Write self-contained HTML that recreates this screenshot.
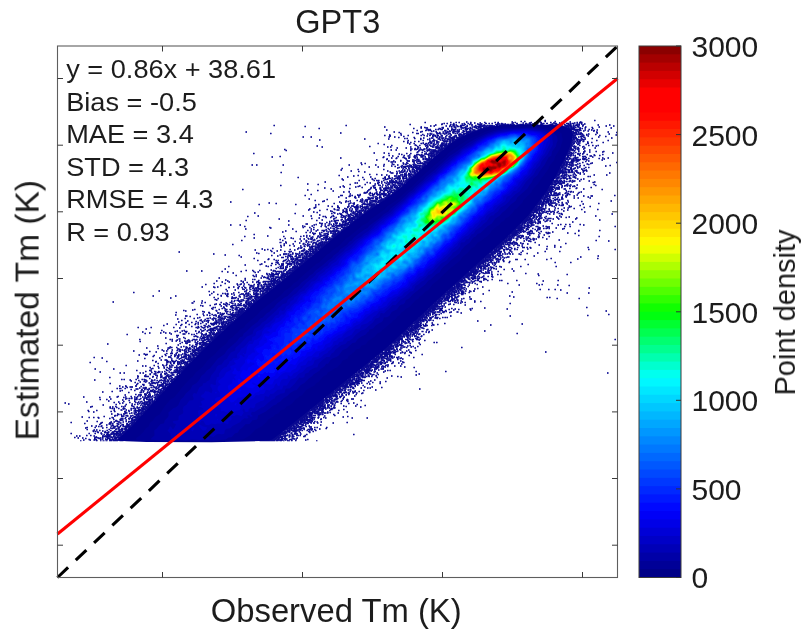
<!DOCTYPE html>
<html><head><meta charset="utf-8"><title>GPT3</title>
<style>
html,body{margin:0;padding:0;background:#fff;width:812px;height:639px;overflow:hidden}
svg{display:block}
text{font-family:"Liberation Sans",sans-serif;fill:#1d1d1d}
</style></head><body>
<svg width="812" height="639" viewBox="0 0 812 639">
<rect width="812" height="639" fill="#fff"/>
<g id="cloud"><defs><filter id="bl" x="0" y="0" width="812" height="639" filterUnits="userSpaceOnUse"><feGaussianBlur stdDeviation="0.5"/></filter></defs>
<g filter="url(#bl)">
<path d="M544.5 120h1.5m48 0h1.5M544.5 120.5h1.5m48 0h1.5M520.5 121h1.5m2 0h1.5m12.5 0h1.5m5 0h1.5m8.5 0h1.5M466 121.5h1.5m44 0h1.5m7.5 0h1.5m2 0h1.5m12.5 0h3m3.5 0h1.5m8.5 0h1.5m13.5 0h1.5m9 0h1.5M424.5 122h1.5m24 0h1.5m4 0h1.5m1.5 0h1.5m6 0h1.5m2.5 0h1.5m12.5 0h1.5m9 0h1.5m1.5 0h1.5m12.5 0h1.5m1.5 0h1.5m14.5 0h1.5m7.5 0h2.5m8 0h1.5m9.5 0h1.5m7 0h1.5m5.5 0h1.5m1 0h3.5M424.5 122.5h1.5m24 0h1.5m4 0h1.5m1.5 0h1.5m10 0h1.5m2.5 0h1.5m4 0h1.5m3 0h1.5m9 0h1.5m1.5 0h1.5m13.5 0h1.5m.5 0h1.5m6.5 0h1.5m5 0h3m2 0h1.5m5 0h1.5m8 0h1.5m1.5 0h2.5m3.5 0h1.5m.5 0h1.5m11.5 0h1.5m1 0h1.5m1 0h3.5M443.5 123h1.5m1.5 0h1.5m5 0h1.5m9 0h1.5m2.5 0h1.5m1 0h1.5m2.5 0h1.5m4 0h1.5m4 0h2m1.5 0h1.5m1.5 0h1.5m4 0h1.5m2.5 0h1.5m9 0h2.5m2 0h2m4.5 0h1.5m1 0h2m1.5 0h2m3.5 0h1.5m1.5 0h1.5m2 0h1.5m.5 0h2m1.5 0h2m5 0h4m2 0h1.5m1 0h2.5m2 0h3m.5 0h1.5m.5 0h4m5 0h1.5M441.5 123.5h1.5m.5 0h1.5m1.5 0h1.5m5 0h1.5m7 0h1.5m.5 0h1.5m2.5 0h1.5m1 0h1.5m5.5 0h1.5m2.5 0h1.5m2.5 0h2m1.5 0h1.5m1.5 0h1.5m4 0h3.5m.5 0h2.5m1 0h1.5m5.5 0h1.5m3 0h2m7 0h2.5m1 0h2.5m1 0h2m3 0h1.5m2 0h4m1.5 0h2m3.5 0h1.5m1.5 0h2.5m4.5 0h2.5m2 0h3m.5 0h1.5m.5 0h2.5m2.5 0h1.5m.5 0h1.5m1 0h1.5m1.5 0h1.5M409.5 124h1.5m30 0h2m7 0h1.5m1 0h1.5m7.5 0h1.5m1.5 0h1.5m3 0h1.5m6.5 0h5.5m12.5 0h5.5m.5 0h5m.5 0h2.5m.5 0h2m1 0h1.5m2.5 0h1.5m1.5 0h5m.5 0h3.5m1 0h5m6.5 0h2.5m6.5 0h3.5m3 0h6.5m1 0h1.5m2 0h2m.5 0h1.5m5 0h1.5m.5 0h1.5m1 0h1.5m1.5 0h1.5M409.5 124.5h1.5m24 0h1.5m4.5 0h1.5m7.5 0h1.5m1 0h2.5m.5 0h1.5m6.5 0h2.5m3 0h1.5m.5 0h2m5 0h4m1.5 0h1.5m10 0h3.5m2 0h8.5m.5 0h5.5m3 0h6.5m.5 0h1.5m.5 0h5m1 0h1.5m1.5 0h2m2 0h2.5m6 0h5m1 0h8.5m1 0h1.5m2.5 0h3.5m1.5 0h1.5m1 0h1.5m.5 0h2.5m2.5 0h1.5m13.5 0h1.5m10 0h1.5M273.5 125h1.5m70.5 0h1.5m88 0h1.5m13 0h1.5m1.5 0h2.5m.5 0h1.5m3 0h5m1.5 0h1.5m3 0h2m2 0h1.5m3 0h2.5m.5 0h3m1.5 0h1.5m.5 0h4m3 0h2.5m.5 0h7.5m.5 0h8m3 0h1.5m.5 0h1.5m1 0h1.5m4.5 0h3m1.5 0h1.5m1.5 0h2m2 0h6m.5 0h11m1 0h4m2 0h4m.5 0h2m2 0h1.5m.5 0h5m2.5 0h1.5m13.5 0h1.5m10 0h1.5M273.5 125.5h1.5m70.5 0h1.5m83 0h1.5m2 0h1.5m10.5 0h1.5m2.5 0h1.5m1.5 0h1.5m2.5 0h1.5m2 0h4m2.5 0h1.5m7 0h1.5m2 0h2.5m.5 0h13.5m1 0h2.5m.5 0h14.5m26 0h18.5m2 0h2.5m2 0h8m.5 0h1.5m.5 0h3m4 0h1.5m22 0h1.5m6 0h1.5M304.5 126h1.5m124 0h1.5m2 0h1.5m10.5 0h1.5m2 0h1.5m.5 0h1.5m1 0h2m1 0h2.5m.5 0h2.5m4.5 0h1.5m5.5 0h3m.5 0h7m.5 0h2.5m1.5 0h25m26 0h4m.5 0h14.5m.5 0h5.5m1 0h7m.5 0h1.5m2.5 0h2.5m2.5 0h1.5m22 0h1.5m6 0h1.5M304.5 126.5h1.5m78 0h1.5m35 0h1.5m27 0h1.5m.5 0h1.5m1 0h2m1 0h2.5m.5 0h2.5m3 0h3m3.5 0h1.5m.5 0h1.5m.5 0h7.5m.5 0h1.5m.5 0h14m54 0h16m.5 0h2.5m1 0h2m1.5 0h2.5m5.5 0h1.5m12 0h1.5M384 127h1.5m35 0h1.5m2 0h1.5m16 0h2.5m7 0h1.5m1 0h2.5m4 0h2.5m1.5 0h2.5m3 0h1.5m.5 0h1.5m.5 0h3.5m1 0h3.5m1.5 0h10m.5 0h1.5m.5 0h3.5m54.5 0h4m.5 0h11.5m1 0h6m1 0h1.5m6 0h1.5m5 0h1.5m5.5 0h1.5M420.5 127.5h1.5m2 0h4m13.5 0h2.5m10.5 0h2m4.5 0h5.5m3 0h1.5m2.5 0h3.5m.5 0h4m1.5 0h10m66.5 0h7.5m.5 0h4.5m.5 0h1.5m1 0h1.5m2.5 0h2m3.5 0h1.5m5.5 0h1.5m17.5 0h1.5M318.5 128h1.5m93 0h1.5m6 0h1.5m3.5 0h2.5m10.5 0h2m2 0h1.5m3 0h1.5m6.5 0h1.5m5.5 0h2m1 0h4.5m.5 0h1.5m4 0h3.5m.5 0h3m.5 0h5.5m.5 0h4m67 0h15m4 0h2m.5 0h1.5m1.5 0h1.5m6 0h1.5m17 0h1.5M318.5 128.5h1.5m93 0h1.5m24 0h2.5m.5 0h1.5m4 0h1.5m2.5 0h2m7.5 0h1.5m2.5 0h5m.5 0h3m3 0h1.5m2 0h9m74 0h7.5m.5 0h4.5m4.5 0h1.5m.5 0h1.5m9 0h1.5M427.5 129h1.5m.5 0h1.5m4 0h1.5m1 0h1.5m.5 0h3.5m4.5 0h1.5m2 0h5m2.5 0h1.5m.5 0h1.5m2.5 0h3.5m1 0h1.5m1 0h1.5m4.5 0h11m74.5 0h18m7.5 0h1.5M386 129.5h1.5m38.5 0h5m4 0h1.5m1 0h1.5m1.5 0h2.5m4.5 0h1.5m2 0h5m.5 0h1.5m.5 0h1.5m5 0h3m1 0h1.5m2 0h3m2 0h7m81 0h15m4 0h1.5m2.5 0h1.5m1 0h1.5m4 0h1.5M386 130h1.5m29 0h1.5m7 0h2.5m.5 0h3.5m12.5 0h2.5m4.5 0h1.5m.5 0h2.5m1 0h1.5m4.5 0h1.5m1.5 0h1.5m2.5 0h2m1 0h3m2 0h7m81.5 0h6m1.5 0h5m.5 0h2.5m3 0h1.5m5 0h1.5m1 0h1.5m1.5 0h1.5M416.5 130.5h1.5m7 0h1.5m1.5 0h1.5m.5 0h1.5m1.5 0h1.5m9.5 0h2.5m2.5 0h1.5m.5 0h1.5m.5 0h1.5m3 0h2.5m2.5 0h2m1 0h1.5m2.5 0h2m1 0h9m85 0h5.5m3 0h3.5m.5 0h2.5m1.5 0h1.5m3 0h1.5m4 0h2M421.5 131h1.5m8 0h1.5m.5 0h1.5m1 0h1.5m9.5 0h1.5m1 0h2m2 0h3.5m1 0h2.5m3 0h2m.5 0h1.5m.5 0h3.5m.5 0h10m86 0h6.5m3 0h1.5m4.5 0h1.5m3 0h1.5m4 0h1.5M245.5 131.5h1.5m146.5 0h1.5m25 0h3m8 0h1.5m3 0h1.5m5.5 0h1.5m.5 0h1.5m.5 0h4.5m1 0h7.5m3 0h2.5m.5 0h14m88 0h6.5m1 0h2m.5 0h2m16.5 0h1.5m10 0h1.5M245.5 132h1.5m146.5 0h1.5m3.5 0h1.5m12 0h1.5m6.5 0h1.5m14 0h1.5m2 0h1.5m2 0h1.5m.5 0h5m2.5 0h2.5m2 0h3m2 0h2.5m2 0h13.5m88 0h9.5m.5 0h2m16.5 0h1.5m10 0h1.5m7 0h1.5M340 132.5h1.5m57 0h1.5m12 0h1.5m22.5 0h2m1 0h1.5m5.5 0h1.5m5 0h2m7 0h1.5m3 0h10.5m92 0h4m.5 0h4m1 0h1.5m.5 0h2m14.5 0h1.5m18 0h1.5M270 133h1.5m68.5 0h1.5m58.5 0h1.5m14.5 0h3m10.5 0h1.5m5 0h4.5m2 0h1.5m1.5 0h1.5m2 0h2m1.5 0h1.5m.5 0h1.5m.5 0h1.5m5 0h13.5m92 0h9m2.5 0h2m14.5 0h1.5M270 133.5h1.5m128.5 0h1.5m14.5 0h3m8 0h1.5m1 0h3m4.5 0h4.5m1 0h4.5m.5 0h3.5m3.5 0h1.5m.5 0h1.5m.5 0h3m1.5 0h6m.5 0h5m94 0h7m.5 0h1.5m.5 0h5m5 0h1.5m19 0h1.5M422 134h1.5m3.5 0h1.5m2.5 0h1.5m.5 0h1.5m5.5 0h1.5m2.5 0h1.5m2 0h1.5m9.5 0h3.5m1 0h2m.5 0h9m94 0h5m2 0h8m2.5 0h1.5m.5 0h1.5m5.5 0h1.5m12 0h1.5M389 134.5h1.5m10 0h1.5m20 0h1.5m6 0h1.5m2 0h1.5m2 0h1.5m11.5 0h2.5m6 0h7m.5 0h6m98 0h9m1 0h1.5m1 0h1.5m2.5 0h1.5m7.5 0h1.5m19 0h1.5M384 135h1.5m3.5 0h1.5m10 0h1.5m5.5 0h1.5m11.5 0h1.5m1.5 0h1.5m4 0h2m1 0h1.5m1 0h1.5m.5 0h2.5m2 0h1.5m3.5 0h1.5m2 0h2.5m2.5 0h2.5m1 0h6m1 0h6.5m98 0h6.5m7 0h1.5m1.5 0h1.5m11.5 0h1.5m15 0h1.5M384 135.5h1.5m4 0h1.5m16.5 0h1.5m11.5 0h1.5m1.5 0h1.5m1.5 0h1.5m1 0h1.5m1.5 0h4m1 0h2m1.5 0h2.5m3 0h1.5m7 0h2.5m2 0h1.5m.5 0h8.5m100 0h6.5m5 0h3.5m3 0h1.5m10 0h1.5M389.5 136h1.5m12 0h1.5m22 0h1.5m4 0h2.5m.5 0h1.5m.5 0h1.5m2 0h2.5m2 0h1.5m2 0h2m3 0h3m2.5 0h9.5m101 0h5m5.5 0h3m4.5 0h1.5m16 0h1.5M302.5 136.5h1.5m6.5 0h1.5m76.5 0h1.5m4 0h1.5m7.5 0h1.5m27.5 0h1.5m1.5 0h1.5m2.5 0h1.5m4.5 0h1.5m2 0h2.5m1.5 0h2.5m.5 0h1.5m1.5 0h9m102 0h3m.5 0h3m2 0h1.5m.5 0h4.5m13.5 0h1.5m5.5 0h1.5M302.5 137h1.5m6.5 0h1.5m76.5 0h1.5m4 0h1.5m2.5 0h1.5m14 0h1.5m21 0h2m1 0h1.5m8 0h6.5m.5 0h5.5m.5 0h5.5m102.5 0h7.5m1 0h1.5m3.5 0h2.5m12.5 0h1.5M398 137.5h1.5m14 0h1.5m8 0h1.5m6.5 0h2.5m2.5 0h2m.5 0h1.5m.5 0h4m.5 0h1.5m3 0h3.5m.5 0h1.5m.5 0h4.5m.5 0h5m104 0h7.5m3.5 0h1.5m2 0h1.5m25.5 0h1.5M404 138h1.5m1 0h1.5m6 0h1.5m4.5 0h1.5m1.5 0h1.5m4.5 0h1.5m.5 0h2.5m5 0h1.5m.5 0h4m.5 0h1.5m4.5 0h4m2 0h8.5m103 0h3.5m1 0h4m3.5 0h2m9 0h1.5m18 0h1.5M364 138.5h1.5m22.5 0h1.5m14.5 0h1.5m1 0h1.5m6 0h1.5m4.5 0h1.5m7.5 0h1.5m7 0h2.5m2 0h1.5m1.5 0h9.5m1.5 0h7.5m105 0h6m.5 0h3m3 0h1.5m2 0h1.5m5.5 0h1.5M364 139h1.5m22.5 0h1.5m30.5 0h1.5m5.5 0h1.5m4.5 0h1.5m3 0h3m1.5 0h1.5m.5 0h1.5m1 0h15m.5 0h1.5m105 0h6.5m1.5 0h2.5m3 0h4M319 139.5h1.5m99.5 0h1.5m5.5 0h1.5m.5 0h1.5m2.5 0h1.5m4.5 0h2.5m2.5 0h1.5m1.5 0h3.5m1.5 0h9.5m107 0h3.5m.5 0h3m.5 0h8.5M319 140h1.5m87 0h1.5m13.5 0h1.5m5 0h1.5m2.5 0h2.5m4.5 0h1.5m.5 0h1.5m3.5 0h1.5m.5 0h2.5m.5 0h2m.5 0h7m107 0h4.5m1 0h1.5m.5 0h2.5m.5 0h3.5m13.5 0h1.5m10 0h1.5M407.5 140.5h1.5m13.5 0h1.5m8 0h3.5m.5 0h1.5m4.5 0h5m2.5 0h11m108 0h5.5m3 0h1.5m1 0h1.5m2 0h1.5m11.5 0h1.5m10 0h1.5M403 141h1.5m9.5 0h1.5m2.5 0h1.5m10.5 0h1.5m.5 0h3m1 0h2m5 0h5.5m1 0h1.5m.5 0h9m108 0h5.5m.5 0h1.5m.5 0h1.5m1 0h2m1.5 0h2M403 141.5h1.5m2.5 0h1.5m5.5 0h1.5m2.5 0h1.5m9.5 0h2.5m5 0h3m4 0h5m.5 0h2.5m.5 0h6.5m110 0h4m1 0h2.5m.5 0h4m2 0h1.5m3 0h1.5M407 142h1.5m1.5 0h1.5m17.5 0h1.5m.5 0h1.5m4 0h3m4 0h1.5m.5 0h1.5m2 0h2.5m.5 0h6.5m110 0h4.5m.5 0h2m2 0h1.5m8 0h1.5m2.5 0h1.5m10 0h1.5M407 142.5h1.5m1.5 0h1.5m11 0h1.5m4 0h1.5m.5 0h2.5m1 0h1.5m1 0h2m3.5 0h2m6 0h2m.5 0h4m112.5 0h6m1.5 0h1.5m1 0h2m6.5 0h1.5m2.5 0h1.5m10 0h1.5M377.5 143h1.5m28 0h1.5m5 0h1.5m5.5 0h1.5m.5 0h1.5m1.5 0h1.5m.5 0h2m.5 0h2m1.5 0h1.5m1 0h1.5m3.5 0h3.5m1.5 0h1.5m1 0h7.5m111.5 0h4.5m1 0h2m1 0h1.5m1 0h2m6.5 0h2M377.5 143.5h1.5m30 0h1.5m3 0h1.5m5.5 0h1.5m.5 0h1.5m1 0h2m.5 0h1.5m1.5 0h1.5m.5 0h1.5m3.5 0h1.5m2 0h6.5m.5 0h7.5m112 0h7.5m2.5 0h1.5m8.5 0h1.5M383.5 144h1.5m24 0h1.5m13.5 0h2.5m6 0h1.5m1 0h1.5m1 0h1.5m1.5 0h3m.5 0h3m.5 0h8m112 0h6.5m3 0h2.5m6 0h1.5M383.5 144.5h1.5m29.5 0h1.5m8 0h2m1 0h1.5m.5 0h1.5m2.5 0h3.5m4 0h4m.5 0h2m.5 0h6m114 0h5m4.5 0h2.5m6 0h1.5M391 145h1.5m22 0h2.5m2 0h1.5m5.5 0h2.5m.5 0h1.5m2 0h2.5m2 0h1.5m1 0h14m113 0h6m6.5 0h1.5m7.5 0h1.5m2.5 0h1.5m4 0h1.5M316.5 145.5h1.5m73 0h1.5m23 0h1.5m2 0h1.5m4.5 0h2.5m2.5 0h1.5m1 0h2m2.5 0h1.5m1 0h13m114 0h6.5m.5 0h1.5m4 0h1.5m7.5 0h1.5m2.5 0h1.5m2 0h1.5m.5 0h1.5M316.5 146h1.5m51 0h1.5m46.5 0h1.5m6.5 0h1.5m.5 0h1.5m1.5 0h3m3 0h1.5m2.5 0h3m.5 0h9m114 0h10m6.5 0h1.5m11 0h1.5M321.5 146.5h1.5m46 0h1.5m16.5 0h1.5m1.5 0h1.5m18.5 0h1.5m5.5 0h1.5m8.5 0h1.5m3 0h2.5m.5 0h4.5m.5 0h3.5m1 0h7.5m115 0h5m1.5 0h1.5m.5 0h1.5m5.5 0h2.5M321.5 147h1.5m64 0h1.5m1.5 0h1.5m18.5 0h1.5m6 0h1.5m7 0h2.5m3.5 0h2m.5 0h8m2 0h6.5m115.5 0h5m2 0h1.5m2.5 0h1.5m3 0h1.5M396.5 147.5h1.5m7.5 0h1.5m10.5 0h1.5m.5 0h1.5m5 0h1.5m8 0h4.5m1 0h9.5m116 0h5.5m1.5 0h2.5m.5 0h2.5m5 0h1.5m9 0h1.5M396.5 148h1.5m7.5 0h1.5m7.5 0h1.5m1 0h1.5m1 0h1.5m5 0h1.5m8 0h2.5m.5 0h1.5m.5 0h10m115.5 0h6m1.5 0h2.5m.5 0h3m4.5 0h1.5m9 0h1.5M410 148.5h2.5m2 0h1.5m1 0h1.5m5 0h2m.5 0h1.5m1 0h1.5m5.5 0h1.5m.5 0h11m117.5 0h6.5m2.5 0h1.5m1.5 0h1.5m3.5 0h1.5M284 149h1.5m124.5 0h2.5m1.5 0h4.5m2 0h1.5m1 0h2.5m3 0h3m6 0h5.5m1 0h4.5m117 0h8.5m1 0h1.5m.5 0h1.5m4.5 0h1.5M284 149.5h1.5m105 0h1.5m3.5 0h1.5m17 0h3m2 0h5.5m2 0h9.5m3.5 0h8m118 0h8.5m3 0h2.5m9.5 0h1.5M285.5 150h1.5m103.5 0h1.5m3.5 0h1.5m13 0h1.5m7.5 0h1.5m1 0h2m3 0h4m1 0h5m1.5 0h9m117.5 0h9m.5 0h1.5m2.5 0h1.5m9.5 0h1.5M285.5 150.5h1.5m123 0h1.5m6.5 0h1.5m2.5 0h1.5m3 0h3.5m.5 0h1.5m.5 0h14m118 0h5m2.5 0h3.5m8.5 0h1.5M418 151h1.5m4.5 0h1.5m1 0h1.5m2.5 0h9m.5 0h6.5m118 0h6m3 0h1.5m3 0h1.5m4.5 0h1.5m10 0h1.5m6 0h1.5M417 151.5h1.5m5.5 0h1.5m4 0h1.5m.5 0h14m119 0h6m7.5 0h1.5m3.5 0h2.5m3.5 0h1.5m5 0h1.5m5 0h2.5M416.5 152h2m3 0h1.5m6.5 0h3m.5 0h12.5m119 0h4m1 0h2.5m3 0h1.5m6.5 0h1.5m4.5 0h1.5m11.5 0h1.5M373.5 152.5h1.5m8.5 0h1.5m31.5 0h1.5m3.5 0h1.5m2.5 0h1.5m3.5 0h4m1.5 0h8.5m120 0h8m.5 0h1.5m.5 0h1.5m6.5 0h1.5m27.5 0h1.5M253 153h1.5m119 0h1.5m8.5 0h1.5m3 0h1.5m16.5 0h1.5m2.5 0h1.5m14 0h1.5m1.5 0h5.5m2 0h6.5m.5 0h1.5m119 0h3m.5 0h3m1 0h3.5m3 0h1.5m.5 0h1.5m2 0h1.5m27.5 0h1.5M253 153.5h1.5m133.5 0h1.5m9 0h1.5m6 0h1.5m2.5 0h1.5m12.5 0h3m1.5 0h9.5m.5 0h4m121 0h9.5m4 0h2m.5 0h1.5m1 0h1.5M398.5 154h1.5m1 0h1.5m13.5 0h3m2 0h1.5m1.5 0h18.5m121 0h4.5m1.5 0h2.5m5 0h3m2 0h1.5m3 0h1.5m14 0h1.5M401 154.5h1.5m6.5 0h1.5m5.5 0h4.5m.5 0h1.5m4.5 0h2m2 0h1.5m1 0h1.5m.5 0h1.5m.5 0h4m123.5 0h4.5m1 0h1.5m.5 0h1.5m4.5 0h1.5m6.5 0h1.5m5.5 0h1.5m7 0h1.5M388.5 155h1.5m13.5 0h1.5m4 0h1.5m3.5 0h1.5m3.5 0h2.5m.5 0h2.5m3.5 0h1.5m.5 0h5m1 0h5.5m122 0h8.5m.5 0h1.5m.5 0h1.5m3 0h1.5m13 0h2m3.5 0h1.5M388.5 155.5h1.5m2 0h1.5m10 0h1.5m2.5 0h1.5m5 0h3.5m2.5 0h4.5m3.5 0h12.5m122.5 0h3.5m.5 0h4.5m1 0h1.5m.5 0h1.5m3 0h1.5m9 0h2.5m2 0h1.5m3.5 0h1.5M279.5 156h1.5m111 0h1.5m4 0h1.5m8.5 0h1.5m4.5 0h4m3 0h3m1 0h1.5m3.5 0h10.5m122.5 0h4m.5 0h2m1 0h1.5m3 0h1.5m6 0h4m3.5 0h2.5M271.5 156.5h1.5m6.5 0h1.5m102 0h1.5m13 0h1.5m4 0h1.5m4.5 0h1.5m3 0h1.5m5.5 0h3m1 0h1.5m2 0h1.5m1 0h9m123 0h2m2.5 0h2m13 0h4m6 0h1.5M271.5 157h1.5m109.5 0h2m18 0h2m4.5 0h1.5m3 0h2.5m.5 0h1.5m2.5 0h3m4.5 0h2m.5 0h2m.5 0h6m123 0h3.5m1.5 0h2.5m5 0h1.5m.5 0h2m7 0h1.5m5 0h1.5M340 157.5h1.5m41 0h1.5m7 0h1.5m3.5 0h1.5m5 0h3m2.5 0h2m4 0h2m.5 0h1.5m6.5 0h1.5m2.5 0h1.5m1 0h1.5m1.5 0h4.5m123.5 0h8.5m3 0h5m4 0h1.5m1.5 0h1.5m15 0h1.5m4 0h1.5M340 158h1.5m49.5 0h1.5m3 0h2m6.5 0h2.5m1.5 0h2m4.5 0h1.5m6.5 0h1.5m.5 0h2.5m1.5 0h1.5m.5 0h1.5m.5 0h6m123.5 0h6m1 0h2.5m1 0h5m5 0h3m2.5 0h1.5m9 0h1.5m2 0h1.5m4 0h1.5M386.5 158.5h1.5m7.5 0h1.5m8 0h2m9.5 0h1.5m4.5 0h2m1 0h6.5m.5 0h5m124 0h7m.5 0h2.5m1 0h1.5m1 0h1.5m5.5 0h1.5m.5 0h2m2 0h1.5m9 0h1.5m3.5 0h1.5M386 159h2m17.5 0h1.5m9.5 0h3m3 0h2m.5 0h12.5m123.5 0h7.5m.5 0h1.5m2 0h1.5m2 0h3m.5 0h1.5m1 0h5.5m16 0h1.5M376 159.5h1.5m8.5 0h1.5m24.5 0h2.5m1.5 0h3.5m3 0h2m.5 0h11.5m124 0h5m.5 0h3m2 0h10m2 0h2m1 0h1.5m14 0h1.5M376 160h1.5m22.5 0h1.5m5 0h1.5m4 0h7m8 0h9.5m124 0h5.5m1.5 0h1.5m2 0h9m6 0h1.5m14 0h1.5M388 160.5h1.5m3.5 0h1.5m5.5 0h1.5m5 0h3.5m4.5 0h1.5m2.5 0h2m5.5 0h7.5m127 0h5.5m5 0h3.5m1 0h4m8.5 0h1.5M388 161h1.5m3.5 0h1.5m5.5 0h1.5m5.5 0h3m2 0h2m3.5 0h3m3 0h4m1 0h5m126 0h7m4 0h4m2.5 0h1.5m6.5 0h1.5m1.5 0h1.5M390.5 161.5h3m1 0h1.5m16 0h3m1 0h3m.5 0h1.5m2.5 0h2.5m.5 0h7m126 0h5m.5 0h4m1.5 0h4m1 0h3m6.5 0h1.5M390.5 162h3m1 0h1.5m10 0h1.5m5.5 0h2m1 0h1.5m2 0h2m3 0h9m126 0h5.5m.5 0h8m2 0h1.5m5 0h1.5m32.5 0h1.5M360.5 162.5h1.5m40.5 0h1.5m2 0h1.5m12.5 0h1.5m.5 0h1.5m.5 0h8m128 0h8.5m.5 0h4.5m8.5 0h1.5m8 0h1.5m23 0h1.5M360.5 163h1.5m2.5 0h1.5m36.5 0h1.5m3 0h1.5m5 0h1.5m2 0h12m.5 0h2.5m126.5 0h9m3 0h3m5.5 0h1.5m9.5 0h3M364.5 163.5h1.5m25.5 0h1.5m10 0h1.5m1 0h3m5 0h1.5m2 0h8.5m1 0h4.5m127.5 0h6.5m1 0h2m1 0h1.5m1 0h2m3.5 0h1.5m.5 0h1.5m6 0h1.5m2 0h1.5M361 164h1.5m21 0h1.5m6.5 0h3m8.5 0h1.5m.5 0h2m5.5 0h1.5m1 0h1.5m6 0h3.5m.5 0h4.5m127 0h7.5m.5 0h4.5m1 0h1.5m4 0h1.5m8 0h3M251.5 164.5h1.5m3 0h1.5m25 0h1.5m64.5 0h1.5m11 0h1.5m12.5 0h1.5m7 0h1.5m8 0h1.5m2.5 0h1.5m6.5 0h1.5m2.5 0h1.5m2 0h4m6 0h3.5m.5 0h4m127 0h4.5m.5 0h5m.5 0h4m.5 0h1.5m.5 0h2.5m11 0h1.5M251.5 165h1.5m3 0h1.5m25 0h1.5m64.5 0h1.5m25 0h1.5m20.5 0h1.5m3 0h1.5m6 0h3m1 0h3m.5 0h4.5m1.5 0h4.5m.5 0h3m127 0h6.5m.5 0h3m1.5 0h3m.5 0h1.5m.5 0h2.5m2.5 0h1.5m2.5 0h1.5m24.5 0h1.5M383 165.5h1.5m6.5 0h1.5m9 0h1.5m3.5 0h2.5m1 0h2m1 0h1.5m1 0h8m.5 0h5.5m128 0h8m.5 0h1.5m3 0h3m6 0h1.5m2.5 0h1.5m20 0h1.5m3 0h1.5M383 166h1.5m6.5 0h1.5m2 0h1.5m4.5 0h2m.5 0h9.5m2 0h2.5m1.5 0h11m127 0h9m.5 0h1.5m3 0h3m3 0h1.5m27 0h1.5M368.5 166.5h1.5m7.5 0h1.5m15.5 0h1.5m4.5 0h2m.5 0h5m1 0h1.5m.5 0h7m.5 0h2m1.5 0h6.5m128 0h3.5m1 0h2.5m2.5 0h1.5m.5 0h2m6.5 0h2m.5 0h1.5M368.5 167h1.5m7.5 0h1.5m19.5 0h1.5m1 0h1.5m.5 0h3m2 0h1.5m1 0h9.5m2 0h6.5m128.5 0h3.5m.5 0h2.5m1 0h1.5m2 0h2m.5 0h1.5m5 0h1.5m.5 0h1.5m4.5 0h1.5m1.5 0h1.5M397 167.5h3m1 0h1.5m1.5 0h2m2 0h1.5m1 0h1.5m.5 0h15m129 0h10m3.5 0h2m2.5 0h1.5m1 0h1.5m6.5 0h1.5m1.5 0h1.5M341.5 168h1.5m54 0h1.5m4 0h1.5m1.5 0h1.5m1 0h1.5m3 0h1.5m1 0h8.5m1 0h2m129.5 0h10.5m3.5 0h2m1.5 0h2.5m1 0h1.5m5 0h1.5M341.5 168.5h1.5m59.5 0h1.5m1.5 0h1.5m1.5 0h1.5m2 0h1.5m2 0h6m.5 0h4.5m129.5 0h5m2.5 0h3m3.5 0h2.5m.5 0h2m6 0h1.5m1 0h1.5M357.5 169h1.5m24 0h1.5m24 0h1.5m2 0h2.5m1.5 0h5.5m.5 0h4.5m129 0h5.5m.5 0h1.5m2 0h3.5m1.5 0h2.5m.5 0h1.5m6.5 0h1.5M340.5 169.5h1.5m15.5 0h1.5m24 0h1.5m17.5 0h1.5m.5 0h1.5m1.5 0h1.5m3 0h3.5m1 0h8.5m131 0h5.5m.5 0h9m.5 0h1.5m9.5 0h1.5m2 0h1.5M340.5 170h1.5m60 0h1.5m.5 0h1.5m1.5 0h1.5m.5 0h1.5m1 0h1.5m.5 0h2m.5 0h1.5m1 0h6m130 0h2.5m1 0h8.5m1.5 0h2.5m.5 0h2m2.5 0h2m4.5 0h1.5m.5 0h3M350.5 170.5h1.5m35 0h1.5m10 0h1.5m1 0h1.5m1.5 0h1.5m3.5 0h1.5m3 0h4.5m1 0h4.5m131 0h8.5m4.5 0h2.5m1 0h2m1.5 0h3m5.5 0h2.5m.5 0h1.5M350.5 171h1.5m6 0h1.5m27.5 0h1.5m7.5 0h1.5m1 0h1.5m1 0h1.5m1 0h2m1 0h1.5m1 0h2m.5 0h1.5m.5 0h1.5m.5 0h2.5m.5 0h5m131.5 0h9m.5 0h1.5m1.5 0h2.5m1 0h2m1.5 0h3m5.5 0h1.5m1.5 0h1.5M358 171.5h1.5m4.5 0h1.5m24 0h1.5m5 0h1.5m2.5 0h1.5m1 0h3m1 0h1.5m1.5 0h1.5m.5 0h3.5m.5 0h2.5m.5 0h4m132 0h12.5m1.5 0h1.5m.5 0h3m2.5 0h1.5m5 0h1.5M280.5 172h1.5m82 0h1.5m24 0h1.5m9 0h4m6 0h1.5m.5 0h4m.5 0h1.5m.5 0h4m131.5 0h13.5m.5 0h5.5m2.5 0h2.5m4 0h1.5M280.5 172.5h1.5m108.5 0h3m3 0h1.5m1 0h1.5m1 0h1.5m2.5 0h1.5m3 0h1.5m2.5 0h2m.5 0h4.5m133 0h13.5m.5 0h2.5m1 0h1.5m.5 0h1.5m2 0h2m.5 0h1.5m28 0h1.5M390.5 173h3m3 0h1.5m1 0h1.5m3.5 0h3m1 0h2.5m3 0h3m1 0h3.5m132.5 0h4.5m.5 0h3m.5 0h2m1.5 0h1.5m6.5 0h1.5m2.5 0h1.5m.5 0h1.5m28 0h1.5M396 173.5h1.5m6.5 0h1.5m2.5 0h2.5m.5 0h1.5m1 0h7m132 0h8m1.5 0h1.5m.5 0h1.5m8 0h1.5m4.5 0h1.5m2.5 0h1.5M369 174h1.5m5.5 0h1.5m18.5 0h1.5m4 0h1.5m1 0h2.5m1.5 0h4.5m2 0h6m132 0h7.5m4 0h1.5m.5 0h1.5m7 0h1.5m3.5 0h1.5m2.5 0h1.5M369 174.5h1.5m5.5 0h1.5m3.5 0h1.5m3.5 0h1.5m12.5 0h3m.5 0h4m.5 0h11m133.5 0h7.5m2 0h1.5m1 0h3m5 0h1.5m.5 0h1.5m17.5 0h1.5m11 0h1.5M338.5 175h1.5m17.5 0h1.5m22 0h1.5m3.5 0h1.5m12.5 0h1.5m2 0h1.5m.5 0h2m1.5 0h2.5m.5 0h7m133 0h7.5m1.5 0h5m2 0h1.5m.5 0h1.5m1 0h1.5m1.5 0h1.5m16.5 0h1.5m11 0h1.5M338.5 175.5h1.5m13 0h1.5m3 0h1.5m29.5 0h1.5m4 0h3m.5 0h3m1 0h1.5m1 0h3m1 0h3.5m1 0h1.5m1 0h3.5m133 0h8m1 0h2m1 0h2m.5 0h1.5m.5 0h1.5m.5 0h1.5m4 0h1.5M353 176h1.5m33.5 0h2m4 0h3m.5 0h3m1 0h1.5m.5 0h3.5m1 0h4m.5 0h6m133 0h5.5m3.5 0h1.5m1.5 0h2m.5 0h1.5m1 0h1.5m4 0h1.5m12 0h1.5m.5 0h1.5M347 176.5h1.5m21.5 0h1.5m13 0h1.5m2 0h1.5m8 0h3m2 0h2.5m.5 0h1.5m3 0h7m134.5 0h9m1 0h3m4 0h1.5m2.5 0h3m12 0h1.5m.5 0h1.5M297.5 177h1.5m48 0h1.5m13.5 0h1.5m6.5 0h1.5m12.5 0h2m2.5 0h1.5m7 0h3.5m2 0h1.5m1.5 0h1.5m1.5 0h8.5m133.5 0h10m1 0h3m.5 0h1.5m2.5 0h1.5m2 0h3M297.5 177.5h1.5m63 0h1.5m20.5 0h2m2.5 0h1.5m1.5 0h1.5m2.5 0h3m.5 0h1.5m1.5 0h2.5m1 0h2m1 0h1.5m.5 0h6m134 0h3m.5 0h2.5m.5 0h2.5m3 0h4m2.5 0h1.5m3.5 0h2.5M374.5 178h1.5m6.5 0h1.5m.5 0h1.5m2.5 0h2.5m.5 0h1.5m1.5 0h4.5m.5 0h1.5m1 0h5.5m1.5 0h7.5m133 0h10m1 0h1.5m.5 0h4m2 0h3m3.5 0h1.5M341.5 178.5h1.5m28.5 0h1.5m1.5 0h1.5m6.5 0h1.5m.5 0h1.5m1 0h4m2.5 0h2.5m.5 0h4.5m1.5 0h5m.5 0h7.5m134 0h5.5m1 0h2.5m1 0h2.5m.5 0h2.5m1 0h2m.5 0h3m5.5 0h1.5m4.5 0h1.5M341.5 179h1.5m20.5 0h1.5m6.5 0h2m11 0h4m2.5 0h1.5m1 0h1.5m2 0h1.5m.5 0h1.5m2 0h1.5m2 0h9.5m134 0h4.5m2.5 0h2m1 0h1.5m5 0h2m9 0h1.5m2 0h1.5m1 0h1.5M342.5 179.5h1.5m19.5 0h1.5m7 0h1.5m11 0h3m3.5 0h1.5m6 0h1.5m6.5 0h8m135 0h4.5m1.5 0h1.5m23.5 0h1.5M342.5 180h1.5m14.5 0h1.5m13.5 0h1.5m1 0h1.5m.5 0h1.5m3.5 0h1.5m6.5 0h1.5m2.5 0h1.5m2 0h1.5m.5 0h1.5m1 0h1.5m1 0h8.5m134.5 0h5.5m.5 0h3.5m.5 0h1.5m.5 0h1.5m1.5 0h1.5m4.5 0h1.5m1 0h1.5M358.5 180.5h1.5m13.5 0h1.5m1 0h3.5m3.5 0h1.5m4.5 0h5m1 0h2.5m3 0h1.5m.5 0h2m.5 0h7.5m136 0h9.5m.5 0h3.5m1.5 0h1.5m4.5 0h2m.5 0h1.5m.5 0h1.5m3.5 0h1.5m8 0h1.5M377.5 181h1.5m2 0h1.5m6.5 0h5.5m1.5 0h1.5m1 0h1.5m.5 0h1.5m.5 0h1.5m1 0h7.5m135 0h13.5m.5 0h1.5m.5 0h1.5m.5 0h2m1 0h3m1.5 0h2.5m3.5 0h1.5m8 0h1.5M324.5 181.5h1.5m55 0h1.5m4 0h1.5m1 0h1.5m1 0h6m1 0h3.5m.5 0h2.5m.5 0h6m136 0h4.5m1.5 0h6m.5 0h3m.5 0h1.5m.5 0h2m1 0h1.5m1.5 0h3m19.5 0h1.5M324.5 182h1.5m40.5 0h1.5m10.5 0h1.5m4 0h1.5m1 0h1.5m1 0h10m1 0h1.5m2 0h8m136.5 0h8m1.5 0h2m.5 0h1.5m1 0h2.5m6.5 0h1.5m19.5 0h3M354.5 182.5h1.5m.5 0h1.5m8.5 0h1.5m1.5 0h1.5m6 0h3m1 0h1.5m1.5 0h1.5m2.5 0h1.5m.5 0h10.5m1 0h1.5m2 0h5.5m137.5 0h5.5m.5 0h6.5m1 0h3.5m27.5 0h1.5M354.5 183h1.5m.5 0h1.5m11.5 0h1.5m6 0h2m2 0h1.5m3 0h2m.5 0h1.5m2 0h1.5m3.5 0h6.5m.5 0h1.5m.5 0h5m137.5 0h5m2.5 0h9.5M307 183.5h1.5m66 0h1.5m1 0h1.5m7 0h2m1 0h2m1 0h1.5m1.5 0h1.5m1 0h6m.5 0h1.5m.5 0h4m138.5 0h10m.5 0h3.5m5 0h1.5M307 184h1.5m9 0h1.5m30.5 0h1.5m13.5 0h1.5m8.5 0h1.5m11.5 0h3m2.5 0h3m3 0h7m.5 0h2.5m136.5 0h11.5m2 0h3m4.5 0h2m25 0h1.5M317.5 184.5h1.5m30.5 0h1.5m13.5 0h1.5m12 0h1.5m2.5 0h1.5m3.5 0h2.5m2 0h3m3 0h1.5m1.5 0h8m137 0h11.5m3.5 0h1.5m4 0h2m2 0h1.5m5 0h1.5m15.5 0h1.5M280 185h1.5m92.5 0h1.5m2.5 0h3m1 0h1.5m1.5 0h1.5m.5 0h1.5m3 0h3m1 0h1.5m.5 0h11m137 0h5m.5 0h1.5m1.5 0h2m1.5 0h1.5m2.5 0h1.5m1.5 0h3m1 0h3m5 0h1.5m17 0h1.5M280 185.5h1.5m61 0h1.5m15 0h1.5m12 0h3m4 0h1.5m4 0h1.5m3.5 0h1.5m1.5 0h4m1.5 0h3m.5 0h5m139 0h4.5m3.5 0h1.5m2 0h1.5m2.5 0h1.5m1 0h2m.5 0h1.5m.5 0h1.5m3.5 0h1.5m20 0h1.5M342.5 186h1.5m13.5 0h3m12 0h1.5m16 0h3m.5 0h2.5m.5 0h1.5m1 0h2m1 0h5m138 0h8.5m8 0h1.5m1 0h1.5m1 0h1.5m1.5 0h1.5m1 0h3.5M339.5 186.5h1.5m2.5 0h1.5m10 0h1.5m1 0h1.5m14 0h1.5m7 0h1.5m2.5 0h1.5m.5 0h1.5m2.5 0h1.5m1 0h1.5m1 0h1.5m1.5 0h2.5m.5 0h4m138 0h4.5m.5 0h6m3 0h1.5m1.5 0h1.5m6.5 0h1.5m1 0h1.5m.5 0h1.5M339.5 187h1.5m2.5 0h1.5m10 0h1.5m5 0h1.5m7.5 0h1.5m1 0h3m3.5 0h1.5m.5 0h1.5m2.5 0h1.5m.5 0h1.5m1.5 0h1.5m2 0h8m.5 0h4m137 0h12m.5 0h4m1 0h1.5m28 0h1.5M324 187.5h1.5m36 0h1.5m7.5 0h1.5m1.5 0h2.5m3.5 0h1.5m3.5 0h1.5m.5 0h1.5m.5 0h5m.5 0h6.5m1 0h4m138 0h12m.5 0h4m1 0h1.5m13.5 0h1.5m13 0h1.5M324 188h1.5m23.5 0h1.5m19.5 0h1.5m2 0h2.5m3.5 0h1.5m2 0h10.5m2 0h5.5m.5 0h4m137 0h10.5m1 0h1.5m1.5 0h2.5m9.5 0h1.5m5 0h2M330.5 188.5h1.5m17 0h1.5m19.5 0h1.5m8 0h2m1.5 0h6m6.5 0h3.5m.5 0h2.5m.5 0h1.5m138.5 0h10.5m2 0h5m3.5 0h2.5m3 0h1.5m5 0h1.5m6 0h1.5M242 189h1.5m87 0h1.5m37 0h1.5m4.5 0h1.5m3 0h2m1.5 0h4.5m2.5 0h1.5m5 0h7.5m138.5 0h11.5m1 0h5m3.5 0h2.5m17 0h1.5m17 0h1.5M242 189.5h1.5m63.5 0h1.5m59.5 0h2.5m4.5 0h2m3 0h1.5m3.5 0h1.5m2 0h3m1 0h3m.5 0h7.5m139 0h11.5m47.5 0h1.5M307 190h1.5m8.5 0h1.5m49.5 0h1.5m6 0h1.5m3 0h3m1 0h4m.5 0h1.5m.5 0h13m138.5 0h3m.5 0h5m.5 0h2m1.5 0h1.5m9.5 0h1.5M317 190.5h1.5m14 0h1.5m33 0h1.5m11.5 0h3m.5 0h4.5m2.5 0h2m1 0h9m139 0h10.5m2.5 0h1.5m9.5 0h1.5M332.5 191h1.5m14.5 0h1.5m17 0h1.5m14.5 0h2m2.5 0h4.5m1.5 0h8.5m139 0h7m1.5 0h4m14.5 0h1.5m1 0h1.5M343 191.5h1.5m4 0h1.5m16.5 0h1.5m8 0h1.5m2 0h1.5m2 0h1.5m3 0h3m.5 0h1.5m1.5 0h5.5m141.5 0h10.5m.5 0h3m11 0h1.5m.5 0h1.5m.5 0h2m.5 0h1.5m6.5 0h1.5M343 192h1.5m4 0h1.5m14 0h1.5m.5 0h2m1.5 0h1.5m4.5 0h2m1.5 0h2m6 0h1.5m1.5 0h9.5m140 0h12.5m1.5 0h1.5m11 0h1.5m2.5 0h1.5m1 0h1.5m4.5 0h1.5m.5 0h1.5M363.5 192.5h4m2 0h1.5m4.5 0h1.5m2 0h1.5m2.5 0h2m2 0h2.5m.5 0h5m.5 0h4m140 0h10m.5 0h2m2.5 0h2.5m2 0h1.5m4.5 0h1.5m12 0h1.5M363.5 193h3m3 0h1.5m.5 0h1.5m1 0h1.5m.5 0h1.5m1.5 0h1.5m.5 0h4.5m2.5 0h2.5m1.5 0h7.5m140 0h9.5m1 0h1.5m2 0h3.5m.5 0h3m4 0h2m1 0h1.5m8.5 0h1.5M349.5 193.5h1.5m17.5 0h2.5m.5 0h1.5m1 0h1.5m.5 0h2m2.5 0h6.5m1 0h2.5m1.5 0h6.5m141 0h9.5m1.5 0h1.5m1.5 0h3.5m.5 0h1.5m5.5 0h1.5m.5 0h2.5m8.5 0h1.5M310.5 194h1.5m37.5 0h1.5m8.5 0h1.5m7.5 0h1.5m2 0h3m1 0h11m.5 0h3m1 0h7m140.5 0h7.5m.5 0h2.5m1 0h1.5m1.5 0h2m1.5 0h3.5m6 0h2m.5 0h1.5M310.5 194.5h1.5m45 0h1.5m1 0h1.5m11 0h3m2 0h4.5m.5 0h4m1.5 0h3m.5 0h6m141.5 0h11m1 0h1.5m.5 0h2m1 0h5m1.5 0h1.5m3 0h2m.5 0h1.5m6 0h1.5M304.5 195h1.5m34 0h3m8.5 0h1.5m4 0h3.5m9 0h1.5m.5 0h1.5m4 0h1.5m1.5 0h1.5m2 0h3m.5 0h9.5m141 0h10.5m1 0h9.5m3.5 0h1.5m3 0h1.5m8.5 0h1.5m36 0h1.5M304.5 195.5h1.5m34 0h3m6 0h2m.5 0h1.5m5 0h2.5m9 0h1.5m.5 0h2.5m5 0h1.5m2.5 0h1.5m.5 0h10.5m142 0h6.5m1 0h6m1 0h6.5m6.5 0h3m5.5 0h1.5m8 0h1.5m6 0h2.5m21 0h1.5M348.5 196h2.5m3.5 0h1.5m16.5 0h1.5m1.5 0h1.5m2 0h1.5m2.5 0h1.5m1.5 0h9m142 0h7.5m.5 0h5m15 0h1.5m7 0h1.5m8 0h1.5m6 0h2.5M338 196.5h1.5m9 0h1.5m4.5 0h1.5m2 0h1.5m15 0h2.5m2 0h2.5m1.5 0h1.5m2.5 0h7.5m142 0h6m.5 0h7.5m11 0h1.5m2.5 0h1.5m20.5 0h1.5M338 197h1.5m14.5 0h1.5m2.5 0h1.5m8 0h1.5m5.5 0h1.5m.5 0h1.5m1 0h2.5m3 0h10m142 0h4m.5 0h2.5m.5 0h3m2 0h1.5m4 0h1.5m1.5 0h1.5m2 0h2m2.5 0h1.5m20.5 0h1.5M345.5 197.5h1.5m7 0h2.5m11 0h2.5m.5 0h3.5m2.5 0h1.5m.5 0h3.5m2.5 0h9m143 0h4m1 0h6.5m1 0h1.5m4 0h1.5m1.5 0h1.5m2 0h2m10.5 0h1.5m2.5 0h1.5m10.5 0h1.5M345.5 198h1.5m8 0h1.5m12 0h5.5m1 0h3m.5 0h1.5m.5 0h1.5m2.5 0h9m142 0h10m1 0h4m2 0h1.5m7.5 0h1.5m10.5 0h1.5m2.5 0h1.5m10.5 0h1.5M308.5 198.5h1.5m51.5 0h1.5m5 0h3.5m.5 0h1.5m1.5 0h3m3.5 0h10m144 0h8m.5 0h2.5m.5 0h2m3.5 0h1.5m2.5 0h1.5m3 0h2.5M308.5 199h1.5m16.5 0h1.5m33.5 0h1.5m3.5 0h3.5m5.5 0h2.5m2.5 0h10m145.5 0h15m3 0h4m.5 0h1.5m1 0h2.5M326.5 199.5h1.5m32 0h1.5m.5 0h1.5m1.5 0h3.5m1 0h1.5m4.5 0h2.5m1.5 0h11m144.5 0h6m2 0h5m.5 0h2.5m3 0h4m.5 0h2M314.5 200h1.5m40.5 0h1.5m2 0h3.5m1 0h3.5m1.5 0h6.5m2.5 0h5.5m1 0h4.5m145.5 0h6.5m1.5 0h2m1.5 0h3m1 0h1.5m2.5 0h1.5m3 0h1.5m6.5 0h1.5M314.5 200.5h1.5m7.5 0h1.5m20.5 0h1.5m2.5 0h1.5m5.5 0h1.5m3.5 0h1.5m1.5 0h1.5m.5 0h1.5m2.5 0h6.5m.5 0h7m.5 0h4.5m145 0h8m.5 0h2m.5 0h6.5m.5 0h1.5m.5 0h1.5m1.5 0h1.5m8 0h1.5m42 0h1.5M322 201h3m20.5 0h1.5m.5 0h1.5m.5 0h1.5m8.5 0h1.5m4.5 0h1.5m5.5 0h4.5m.5 0h1.5m.5 0h10m144 0h9m.5 0h6m.5 0h2m1 0h1.5m3.5 0h1.5m22 0h1.5m28 0h1.5M230 201.5h1.5m90.5 0h1.5m15.5 0h1.5m4.5 0h1.5m1 0h1.5m10.5 0h3.5m.5 0h1.5m.5 0h2.5m1 0h8m.5 0h10m146 0h9m.5 0h6.5m.5 0h2m5.5 0h1.5m8.5 0h1.5m12 0h1.5M230 202h1.5m107.5 0h1.5m4.5 0h1.5m14.5 0h2m.5 0h1.5m1.5 0h1.5m1 0h4.5m1 0h1.5m.5 0h11m145.5 0h11.5m1 0h1.5m.5 0h2m.5 0h2m6 0h1.5m2 0h1.5m4.5 0h1.5M268.5 202.5h1.5m70.5 0h1.5m8 0h1.5m2 0h1.5m15 0h1.5m5 0h3m.5 0h6.5m146.5 0h8m.5 0h2.5m.5 0h4.5m1 0h1.5m.5 0h4m2 0h1.5m2 0h1.5m2.5 0h1.5M268.5 203h1.5m5.5 0h1.5m56.5 0h1.5m5.5 0h1.5m6.5 0h3m1 0h2.5m7.5 0h3m3 0h3m4 0h1.5m2 0h7.5m145 0h9m1 0h6m1 0h7.5m9.5 0h1.5m31 0h1.5M275.5 203.5h1.5m56.5 0h1.5m13.5 0h1.5m2.5 0h2.5m7.5 0h3m1 0h1.5m.5 0h6.5m.5 0h1.5m2 0h5.5m147 0h13m3.5 0h2m1 0h1.5m3.5 0h1.5m4 0h1.5m3.5 0h1.5m14.5 0h1.5m14 0h1.5M258.5 204h1.5m35 0h1.5m21.5 0h1.5m33.5 0h2m6.5 0h13.5m1 0h8.5m146 0h14m3.5 0h3.5m4.5 0h1.5m4 0h2.5m2.5 0h1.5m14.5 0h1.5M258.5 204.5h1.5m35 0h1.5m18.5 0h1.5m1.5 0h1.5m28.5 0h1.5m7.5 0h1.5m3 0h1.5m1 0h6m.5 0h13m147 0h10m.5 0h3.5m.5 0h1.5m1.5 0h3.5m3.5 0h1.5m2 0h1.5m2.5 0h1.5M315 205h1.5m31.5 0h1.5m6.5 0h2.5m8 0h1.5m.5 0h15m147 0h7.5m3 0h3m1 0h1.5m2.5 0h3.5m2.5 0h2m1.5 0h1.5m.5 0h3.5m15.5 0h1.5M327.5 205.5h1.5m8 0h1.5m12.5 0h3m2 0h1.5m2 0h1.5m.5 0h1.5m5.5 0h14m148 0h6.5m1.5 0h1.5m1 0h1.5m2.5 0h1.5m2.5 0h1.5m.5 0h2m2.5 0h1.5m3.5 0h3m5 0h1.5m9.5 0h1.5M327.5 206h1.5m2.5 0h1.5m4 0h1.5m9.5 0h1.5m1.5 0h3.5m1 0h2.5m1.5 0h3.5m3 0h2m2.5 0h12m147.5 0h10m1 0h2.5m1.5 0h1.5m5 0h1.5m.5 0h1.5m13.5 0h1.5m.5 0h1.5m17.5 0h1.5M315 206.5h1.5m15 0h1.5m4.5 0h1.5m8 0h2.5m3.5 0h6m1 0h3m.5 0h6m1 0h9.5m149.5 0h6m.5 0h4.5m1.5 0h1.5m10 0h1.5m14 0h3m17.5 0h1.5M314.5 207h2m20.5 0h2m8 0h1.5m1.5 0h1.5m2.5 0h5m.5 0h1.5m1 0h7.5m1 0h9.5m149 0h13.5m26.5 0h1.5m13 0h1.5M313.5 207.5h2.5m21 0h3m7 0h1.5m1.5 0h1.5m2.5 0h4m1.5 0h1.5m1 0h5.5m2.5 0h9.5m149 0h9m1 0h4m2.5 0h1.5m8 0h1.5m7.5 0h1.5m2.5 0h1.5m14.5 0h1.5M313.5 208h1.5m23.5 0h1.5m4 0h1.5m11 0h2m3 0h1.5m.5 0h6m.5 0h9.5m148 0h9.5m.5 0h2.5m2.5 0h1.5m1 0h1.5m8 0h1.5m1.5 0h1.5m4.5 0h1.5m2.5 0h1.5m4.5 0h1.5M309 208.5h1.5m23 0h1.5m9 0h3m2 0h1.5m1 0h1.5m2 0h3.5m2 0h2.5m1.5 0h13m150 0h3m.5 0h14m3.5 0h1.5m7.5 0h1.5m14.5 0h1.5M309 209h1.5m16 0h1.5m5.5 0h2m10 0h2m1.5 0h1.5m1 0h1.5m2 0h1.5m.5 0h1.5m2 0h1.5m.5 0h1.5m.5 0h2.5m.5 0h10m149 0h13m.5 0h5m3.5 0h1.5m11 0h1.5m18.5 0h1.5m14.5 0h1.5M308 209.5h1.5m17 0h1.5m6 0h1.5m1 0h3m3 0h1.5m2 0h1.5m8 0h2m5 0h1.5m.5 0h1.5m2 0h8.5m150 0h13.5m1 0h1.5m1.5 0h1.5m3 0h1.5m4 0h1.5m5.5 0h1.5m4.5 0h1.5m12.5 0h1.5m14.5 0h1.5M308 210h1.5m9.5 0h1.5m16 0h3m3 0h1.5m2 0h1.5m1.5 0h1.5m.5 0h1.5m3 0h2m1 0h5.5m.5 0h1.5m1 0h3m.5 0h6m149 0h17m1.5 0h1.5m8.5 0h1.5m11.5 0h1.5M319 210.5h1.5m9.5 0h1.5m11 0h1.5m1.5 0h2m1.5 0h1.5m.5 0h1.5m3 0h2m1 0h16m151 0h13m1 0h3m6.5 0h1.5m12.5 0h1.5M330 211h3m9.5 0h4.5m3.5 0h1.5m.5 0h1.5m1.5 0h2.5m.5 0h1.5m2 0h1.5m.5 0h4.5m.5 0h2.5m.5 0h2.5m150 0h8m1.5 0h3m1.5 0h1.5m1 0h3m2 0h4.5m1.5 0h2.5m3 0h1.5m4 0h1.5M313 211.5h1.5m17 0h1.5m10 0h2.5m.5 0h2m2.5 0h1.5m.5 0h1.5m.5 0h1.5m.5 0h5.5m1.5 0h5.5m.5 0h4m151 0h13.5m.5 0h1.5m2.5 0h3m.5 0h3m1 0h4.5m3 0h1.5m25 0h1.5M313 212h1.5m2 0h1.5m15 0h1.5m7.5 0h1.5m1.5 0h3m5 0h3m1 0h5m1.5 0h9.5m150.5 0h14.5m1 0h1.5m2 0h4.5m3 0h2m1.5 0h1.5m1.5 0h1.5m26 0h1.5M254 212.5h1.5m61 0h1.5m15 0h2.5m6.5 0h1.5m1.5 0h1.5m5 0h3m3 0h4.5m1.5 0h9m151 0h4.5m.5 0h6.5m.5 0h3m.5 0h1.5m1 0h2m2 0h1.5m6.5 0h1.5m1.5 0h1.5M254 213h1.5m39 0h1.5m35 0h1.5m1.5 0h1.5m3.5 0h1.5m6 0h1.5m3.5 0h3m1 0h3m.5 0h3.5m1 0h8.5m151 0h8m1.5 0h1.5m2 0h7.5m3.5 0h1.5m10 0h1.5m.5 0h1.5M294.5 213.5h1.5m35 0h1.5m4.5 0h1.5m.5 0h3m4.5 0h1.5m2 0h1.5m1.5 0h5.5m.5 0h3.5m1 0h7m152 0h9.5m.5 0h1.5m4 0h3.5m5.5 0h1.5m.5 0h1.5m2.5 0h1.5m4 0h1.5m.5 0h2m49 0h1.5M337 214h1.5m1.5 0h2m5.5 0h1.5m1 0h1.5m2 0h4.5m.5 0h12m151 0h10.5m.5 0h1.5m4 0h1.5m1 0h1.5m7 0h1.5m2.5 0h1.5m6 0h2.5m48.5 0h1.5M319 214.5h1.5m19.5 0h2.5m5 0h5m2.5 0h14.5m152 0h10m.5 0h4.5m2 0h1.5m.5 0h1.5m19.5 0h1.5M319 215h1.5m12 0h1.5m7 0h2m2.5 0h1.5m.5 0h3m.5 0h2.5m1.5 0h3.5m.5 0h10.5m151 0h16m2 0h3M257.5 215.5h1.5m43.5 0h1.5m6.5 0h1.5m20.5 0h1.5m7 0h3.5m1 0h1.5m.5 0h3m1.5 0h2.5m.5 0h12.5m153 0h14.5m3 0h3.5m17.5 0h1.5m34.5 0h1.5M247 216h1.5m9 0h1.5m43.5 0h1.5m6.5 0h1.5m10.5 0h1.5m.5 0h1.5m5 0h1.5m.5 0h1.5m8.5 0h2.5m2 0h3m2.5 0h1.5m.5 0h12.5m152 0h12.5m1 0h2.5m.5 0h1.5m.5 0h3.5m4 0h1.5m12 0h1.5m34.5 0h1.5M247 216.5h1.5m74 0h1.5m.5 0h1.5m5 0h1.5m.5 0h1.5m6 0h1.5m1 0h3.5m1 0h3.5m2.5 0h13m153 0h9.5m1 0h2m1 0h2.5m.5 0h2m2 0h1.5m4 0h1.5m9 0h1.5m3 0h1.5m6.5 0h1.5M325.5 217h1.5m3 0h1.5m4 0h1.5m3.5 0h4m.5 0h1.5m2 0h18m152 0h12m2 0h3m1 0h1.5m1 0h1.5m3.5 0h1.5m10.5 0h1.5m3 0h1.5m3.5 0h1.5m1.5 0h1.5M318.5 217.5h1.5m5.5 0h1.5m3 0h1.5m4 0h1.5m4.5 0h1.5m1.5 0h1.5m2 0h1.5m1.5 0h4.5m1 0h8m154 0h12.5m1.5 0h2m1 0h1.5m2 0h1.5m.5 0h1.5m1.5 0h1.5m11.5 0h1.5m7 0h1.5m9 0h1.5M311 218h1.5m6 0h1.5m14 0h1.5m9 0h1.5m2 0h7.5m1 0h1.5m.5 0h6m153 0h13.5m1 0h2.5m1 0h1.5m1.5 0h4m2.5 0h1.5m1 0h4m5.5 0h1.5m17.5 0h1.5M278.5 218.5h1.5m31 0h1.5m20.5 0h2.5m9 0h1.5m1 0h11m1 0h4.5m154 0h11m.5 0h4.5m2 0h1.5m1 0h3.5m3.5 0h1.5m1 0h4m1 0h1.5m4 0h1.5m15.5 0h1.5M278.5 219h1.5m53 0h1.5m6.5 0h2m1.5 0h1.5m1 0h2m.5 0h1.5m.5 0h7m.5 0h4.5m153 0h16m3 0h1.5m1 0h2m12.5 0h1.5m4 0h1.5m15.5 0h1.5M321.5 219.5h1.5m17.5 0h2.5m2.5 0h17m154 0h16m1.5 0h1.5m1.5 0h3m3 0h1.5m2 0h2m50.5 0h1.5M245.5 220h1.5m69 0h1.5m4 0h1.5m11 0h1.5m.5 0h3m1.5 0h1.5m3.5 0h7.5m1.5 0h1.5m.5 0h6m153 0h17m1.5 0h1.5m1.5 0h1.5m4.5 0h1.5m2 0h2m50.5 0h1.5M245.5 220.5h1.5m41 0h1.5m26.5 0h1.5m13.5 0h1.5m1 0h5.5m4 0h1.5m.5 0h1.5m1 0h5.5m.5 0h7m155 0h14m1 0h3m4.5 0h1.5m6.5 0h1.5m2 0h1.5M288 221h1.5m39.5 0h1.5m.5 0h1.5m1 0h3m5 0h5.5m2 0h11.5m154 0h13m2 0h4m4.5 0h3m3.5 0h3m2 0h1.5M329 221.5h1.5m4 0h1.5m5.5 0h5.5m2 0h1.5m.5 0h6.5m.5 0h1.5m155 0h13m.5 0h4m1.5 0h2.5m1.5 0h3.5m3.5 0h1.5m26 0h1.5M326 222h1.5m7 0h1.5m6.5 0h4m1 0h10m.5 0h1.5m154 0h5m.5 0h7m1 0h9m1.5 0h3.5m31 0h1.5M319 222.5h1.5m5.5 0h1.5m1.5 0h1.5m4.5 0h3m4 0h2m1 0h1.5m1 0h11m155 0h13m.5 0h1.5m.5 0h1.5m.5 0h2.5m1.5 0h1.5m2 0h2.5M319 223h4m6 0h1.5m4.5 0h3m1 0h1.5m1.5 0h1.5m1.5 0h4m.5 0h9m154.5 0h8m.5 0h1.5m.5 0h3m3 0h4m1.5 0h1.5m.5 0h2m.5 0h1.5m10.5 0h1.5M305.5 223.5h2.5m12.5 0h2.5m1.5 0h1.5m2.5 0h1.5m3 0h1.5m1 0h1.5m2 0h1.5m3.5 0h5m1 0h2.5m.5 0h3.5m156 0h12.5m1.5 0h2.5m.5 0h2.5m5 0h2m12.5 0h1.5M305.5 224h2.5m7.5 0h1.5m7.5 0h1.5m2.5 0h1.5m.5 0h1.5m1 0h1.5m1 0h1.5m3.5 0h9m.5 0h6m155.5 0h12m3 0h2.5m1.5 0h2m27.5 0h1.5m3.5 0h1.5m2.5 0h1.5m9 0h1.5M230 224.5h1.5m8 0h1.5m47 0h1.5m24 0h1.5m.5 0h1.5m4 0h1.5m8 0h1.5m1 0h1.5m4.5 0h7.5m.5 0h5m.5 0h3m156 0h8.5m1.5 0h1.5m.5 0h1.5m2 0h1.5m2.5 0h3.5m23 0h1.5m1 0h1.5m3.5 0h1.5m2.5 0h1.5m9 0h1.5m2 0h1.5M230 225h1.5m8 0h1.5m47 0h1.5m24 0h1.5m6 0h1.5m5 0h2m3.5 0h1.5m.5 0h1.5m.5 0h9.5m2.5 0h6.5m155.5 0h12m.5 0h2m1 0h4m.5 0h3.5m23 0h1.5m24 0h1.5M302 225.5h1.5m8 0h1.5m11.5 0h1.5m1.5 0h2m2 0h1.5m2 0h8m.5 0h5m1 0h5m156.5 0h11m1.5 0h2.5m.5 0h4m.5 0h1.5m10 0h1.5M244 226h1.5m56.5 0h1.5m.5 0h1.5m6 0h1.5m7.5 0h1.5m2.5 0h1.5m5.5 0h3.5m1 0h4m.5 0h2.5m2.5 0h8.5m156 0h10m.5 0h1.5m1.5 0h5.5m1 0h1.5m4 0h3m4 0h1.5m1.5 0h1.5m17 0h1.5m4 0h1.5m43.5 0h1.5M244 226.5h1.5m58.5 0h1.5m15 0h1.5m3.5 0h1.5m5 0h3m5.5 0h2m1 0h1.5m2.5 0h5m157 0h13.5m2.5 0h3.5m1 0h1.5m4 0h3m7 0h4.5m14 0h1.5m4 0h1.5m43.5 0h1.5M269 227h1.5m32 0h1.5m5 0h1.5m2.5 0h1.5m11 0h1.5m8 0h2.5m3.5 0h11.5m157 0h15.5m2.5 0h2.5m8.5 0h1.5m7 0h3M269 227.5h2.5m31 0h1.5m5 0h1.5m2.5 0h1.5m15.5 0h1.5m3.5 0h2.5m4 0h6.5m1 0h2.5m157 0h17m1.5 0h3m7.5 0h3.5m5.5 0h1.5m7.5 0h1.5M270 228h1.5m56 0h1.5m1 0h1.5m1 0h2.5m1.5 0h2.5m.5 0h1.5m1.5 0h8.5m157 0h17.5m.5 0h2.5m3.5 0h1.5m4 0h3.5m2 0h1.5m1 0h2.5m.5 0h1.5m5.5 0h1.5m6.5 0h1.5M245 228.5h1.5m45.5 0h1.5m17 0h1.5m15.5 0h1.5m3.5 0h2.5m1.5 0h2.5m.5 0h1.5m2 0h7.5m157.5 0h14.5m3.5 0h1.5m4.5 0h1.5m4 0h2.5m3 0h1.5m1 0h1.5m1.5 0h1.5m12 0h3M245 229h1.5m45.5 0h1.5m17 0h1.5m1 0h1.5m11 0h1.5m1.5 0h1.5m12.5 0h8m156 0h10m1.5 0h5m3 0h3m5.5 0h1.5m1.5 0h3m21.5 0h1.5M313 229.5h1.5m2.5 0h1.5m7 0h1.5m1.5 0h1.5m3.5 0h2m.5 0h1.5m3.5 0h8.5m157 0h10m.5 0h7m1.5 0h3.5m5.5 0h1.5m1 0h1.5m.5 0h1.5M307 230h1.5m8.5 0h1.5m3 0h4m7.5 0h5m3 0h8.5m156.5 0h16m.5 0h1.5m1.5 0h1.5m3 0h1.5m5.5 0h1.5m39.5 0h1.5m19.5 0h1.5M285 230.5h1.5m20.5 0h1.5m2 0h1.5m3.5 0h1.5m4.5 0h4m.5 0h1.5m2 0h1.5m.5 0h3m1 0h4m1 0h8m157.5 0h16m.5 0h2m5.5 0h2.5m3.5 0h1.5m40.5 0h1.5m19.5 0h1.5M285 231h1.5m9 0h1.5m13.5 0h1.5m3.5 0h1.5m6 0h1.5m1.5 0h1.5m2 0h10m1 0h8m156.5 0h16m1 0h4m2.5 0h4.5m3 0h1.5m3 0h1.5m36 0h1.5M282 231.5h1.5m12 0h1.5m26 0h1.5m3 0h1.5m.5 0h7.5m1 0h8.5m158 0h13m2 0h6.5m2.5 0h2.5m.5 0h1.5m7.5 0h1.5m10 0h1.5M282 232h1.5m22 0h1.5m2.5 0h1.5m10 0h1.5m5 0h1.5m4 0h3m1.5 0h9m157 0h15.5m.5 0h2.5m1 0h1.5m2 0h3.5m8 0h1.5m6 0h1.5m.5 0h1.5m3 0h1.5M305.5 232.5h1.5m2.5 0h1.5m1 0h1.5m5.5 0h1.5m.5 0h1.5m7.5 0h2.5m2 0h1.5m1 0h8m158.5 0h15.5m.5 0h1.5m5.5 0h4m1 0h1.5m5 0h1.5m6 0h1.5m.5 0h3m16.5 0h1.5M312 233h4m3 0h1.5m5 0h3m1.5 0h4m.5 0h1.5m.5 0h8.5m158 0h4m1 0h9m1.5 0h1.5m9 0h5.5m4.5 0h1.5m6 0h4m16.5 0h1.5m6 0h1.5M313 233.5h3m3 0h1.5m3 0h5m4 0h12m158 0h7m.5 0h8m.5 0h1.5m7 0h5m1 0h1.5m4.5 0h1.5m6 0h2.5m25.5 0h1.5M253.5 234h1.5m58 0h1.5m4.5 0h2.5m2 0h3m.5 0h2m3.5 0h12m157 0h14.5m.5 0h2m8.5 0h3.5M253.5 234.5h1.5m58 0h1.5m5.5 0h1.5m5.5 0h2m3.5 0h11m158 0h9m1 0h7m19.5 0h1.5m4 0h1.5M306 235h1.5m15 0h3m1 0h1.5m4 0h1.5m.5 0h9.5m157 0h10m.5 0h6.5m2 0h1.5m.5 0h1.5m6 0h1.5m7.5 0h1.5m4 0h1.5m33 0h1.5M267 235.5h1.5m34.5 0h1.5m1.5 0h1.5m1.5 0h1.5m7 0h1.5m.5 0h8.5m3.5 0h10.5m158.5 0h8m.5 0h7.5m1 0h6.5m5 0h1.5m47.5 0h1.5M244 236h1.5m21.5 0h1.5m14.5 0h1.5m15.5 0h1.5m1.5 0h1.5m4.5 0h1.5m7 0h1.5m.5 0h3m3 0h3m3 0h10.5m158 0h11m.5 0h3.5m2.5 0h2.5m1 0h3m14.5 0h1.5m8.5 0h1.5m48.5 0h1.5M244 236.5h1.5m37.5 0h1.5m15.5 0h1.5m4.5 0h1.5m4.5 0h1.5m3.5 0h1.5m1 0h1.5m3.5 0h4m3 0h9m159.5 0h13.5m3 0h3m1.5 0h3m1.5 0h1.5m.5 0h1.5m8.5 0h2.5m8.5 0h1.5m48.5 0h1.5M306 237h1.5m3 0h3m3.5 0h1.5m.5 0h1.5m2.5 0h5m1 0h1.5m1 0h9m157.5 0h15.5m3 0h6m3 0h1.5m.5 0h1.5m8.5 0h2m2.5 0h1.5M253.5 237.5h1.5m35.5 0h1.5m18.5 0h1.5m7 0h1.5m2.5 0h5m1 0h1.5m2.5 0h6.5m158 0h11m.5 0h1.5m.5 0h1.5m.5 0h1.5m5 0h2m6 0h1.5m9 0h1.5m2.5 0h1.5M253.5 238h1.5m29.5 0h1.5m4.5 0h1.5m.5 0h1.5m13.5 0h1.5m2.5 0h1.5m3 0h1.5m6 0h6m1 0h8.5m157.5 0h16m.5 0h1.5m1 0h2m2.5 0h1.5m1.5 0h1.5m2.5 0h1.5m.5 0h1.5m2 0h1.5M284.5 238.5h1.5m6.5 0h1.5m5.5 0h1.5m2.5 0h1.5m2.5 0h2m.5 0h3m3 0h1.5m3 0h3m2 0h1.5m1 0h10.5m158 0h11m.5 0h4.5m3 0h3m4.5 0h1.5m1 0h3m.5 0h1.5m2 0h2.5m.5 0h1.5m9 0h1.5M279.5 239h1.5m18.5 0h1.5m2.5 0h1.5m3 0h1.5m.5 0h2.5m1 0h1.5m5.5 0h4m1 0h12.5m157.5 0h12m.5 0h3.5m5.5 0h1.5m7 0h1.5m3 0h1.5m1 0h2.5m.5 0h1.5m9 0h1.5M279.5 239.5h1.5m30 0h1.5m1 0h2m7.5 0h1.5m.5 0h12.5m158 0h9.5m.5 0h6.5m4 0h1.5m8.5 0h1.5m2.5 0h1.5m1 0h2m24 0h1.5M241 240h1.5m39.5 0h1.5m22 0h1.5m5.5 0h3m3 0h1.5m5 0h2m1 0h9.5m157 0h15.5m.5 0h1.5m4 0h1.5m8.5 0h1.5m5.5 0h1.5m24 0h1.5m35.5 0h1.5M241 240.5h1.5m39.5 0h1.5m17 0h1.5m3.5 0h2m5 0h1.5m3 0h3m.5 0h1.5m3.5 0h1.5m2.5 0h7m158 0h3m.5 0h13m12.5 0h1.5m3 0h2.5m65 0h1.5m11 0h1.5M294.5 241h1.5m4.5 0h1.5m4 0h1.5m9 0h2m2 0h3m4.5 0h7.5m159.5 0h12.5m2 0h1.5m2 0h1.5m9 0h1.5m3 0h3.5m76.5 0h1.5M285 241.5h1.5m8 0h1.5m9.5 0h1.5m1 0h1.5m1 0h2m4 0h2m3.5 0h1.5m.5 0h10.5m159.5 0h9m.5 0h4m5.5 0h1.5m15.5 0h1.5M279.5 242h2m3.5 0h1.5m19 0h1.5m1 0h1.5m1 0h2m.5 0h2.5m4.5 0h3.5m.5 0h10.5m158 0h15m.5 0h3.5m.5 0h5m17.5 0h1.5M279.5 242.5h2m4 0h1.5m12 0h1.5m12.5 0h4m1.5 0h10m1.5 0h3.5m159 0h6.5m.5 0h5m.5 0h1.5m.5 0h4.5m.5 0h1.5m.5 0h3m3 0h1.5m13 0h1.5M285.5 243h1.5m12 0h1.5m2.5 0h1.5m2.5 0h1.5m4.5 0h1.5m1 0h1.5m1.5 0h2.5m.5 0h11m159.5 0h12.5m.5 0h1.5m.5 0h1.5m.5 0h4.5m3 0h1.5m2 0h1.5m1 0h1.5m41 0h1.5M283.5 243.5h1.5m7.5 0h1.5m8.5 0h2m2.5 0h1.5m3.5 0h1.5m1.5 0h1.5m1 0h5.5m.5 0h2m.5 0h6.5m159 0h13m2.5 0h1.5m1.5 0h3m.5 0h4.5m3.5 0h2.5m3 0h1.5m36.5 0h1.5M232 244h1.5m50 0h1.5m7.5 0h1.5m8.5 0h1.5m.5 0h1.5m3 0h1.5m1.5 0h1.5m1.5 0h4m1 0h7m.5 0h5m159 0h13m.5 0h4.5m2 0h1.5m.5 0h4m4 0h1.5m4 0h1.5M232 244.5h1.5m71 0h1.5m.5 0h4m5.5 0h15.5m159 0h11.5m.5 0h2m.5 0h5.5m6.5 0h1.5m20 0h1.5M280 245h1.5m2 0h1.5m4 0h1.5m16 0h3m7 0h15m158.5 0h12m7 0h1.5m2.5 0h1.5m2.5 0h3m18.5 0h1.5m14 0h1.5M280 245.5h1.5m2 0h1.5m4 0h1.5m3 0h1.5m5 0h1.5m2 0h1.5m2 0h1.5m3 0h2m1 0h1.5m.5 0h14m159.5 0h12.5m1 0h1.5m3 0h1.5m3.5 0h1.5m4 0h1.5m1.5 0h1.5m31 0h1.5M293.5 246h1.5m5 0h1.5m2 0h2m1.5 0h1.5m.5 0h1.5m.5 0h5m1.5 0h13m157.5 0h17m3 0h1.5m12 0h1.5m23.5 0h1.5M280.5 246.5h1.5m22 0h1.5m3.5 0h1.5m.5 0h3.5m1 0h4.5m.5 0h8m159 0h6.5m1 0h8.5m.5 0h1.5m41 0h1.5m6 0h1.5m4.5 0h1.5M280.5 247h1.5m19 0h1.5m7.5 0h3m2 0h5m.5 0h8m158 0h12.5m.5 0h2.5m2 0h1.5m3 0h3m5.5 0h1.5m3.5 0h3m1.5 0h1.5m1.5 0h1.5m23 0h1.5m4.5 0h1.5m26 0h1.5M298 247.5h1.5m.5 0h2.5m6.5 0h4m1.5 0h13m159 0h16.5m2.5 0h1.5m1.5 0h3m5.5 0h1.5m3.5 0h3m1.5 0h1.5m1.5 0h2m56 0h1.5M272 248h1.5m24.5 0h1.5m.5 0h2m7 0h1.5m1.5 0h1.5m1 0h1.5m.5 0h2.5m.5 0h8m158 0h17.5m2.5 0h1.5m4 0h1.5m1.5 0h1.5m14.5 0h1.5M261.5 248.5h1.5m9 0h1.5m23.5 0h1.5m5 0h1.5m5 0h3.5m1 0h2.5m.5 0h9m159 0h10m.5 0h1.5m1 0h4.5m4 0h2m2 0h1.5m1.5 0h1.5m11.5 0h1.5m17.5 0h1.5M261.5 249h1.5m4 0h1.5m21 0h1.5m6 0h1.5m5 0h1.5m3 0h1.5m.5 0h3.5m1 0h2.5m1 0h8.5m158 0h12.5m1 0h2.5m2.5 0h2.5m.5 0h3m5 0h1.5m1 0h1.5m9 0h1.5m17.5 0h1.5m40.5 0h1.5m25 0h1.5M254.5 249.5h1.5m8 0h1.5m1.5 0h1.5m11.5 0h1.5m8 0h1.5m3 0h1.5m8 0h2m2.5 0h2.5m1 0h14m159 0h6.5m.5 0h1.5m.5 0h7m2.5 0h2.5m.5 0h2m1 0h2.5m2.5 0h1.5m1 0h1.5m70 0h1.5m25 0h1.5M254.5 250h1.5m8 0h1.5m4.5 0h1.5m8.5 0h1.5m12.5 0h1.5m6.5 0h3.5m3.5 0h2m.5 0h3m.5 0h3m.5 0h7m158 0h9.5m.5 0h6.5m3 0h1.5m4.5 0h2.5M270 250.5h1.5m5 0h1.5m23 0h3.5m1.5 0h1.5m2 0h1.5m1.5 0h1.5m.5 0h3m1 0h6m159 0h9.5m.5 0h5.5m4.5 0h1.5m4.5 0h1.5m11 0h1.5M271 251h1.5m4 0h1.5m6 0h1.5m3 0h1.5m.5 0h1.5m9 0h3.5m1.5 0h3m.5 0h14.5m158.5 0h15m1 0h3.5m1.5 0h1.5m4.5 0h1.5m11 0h1.5m21 0h1.5m13 0h1.5M178.5 251.5h1.5m91 0h1.5m11.5 0h1.5m3 0h3.5m7 0h1.5m4.5 0h4m.5 0h13m160 0h10m.5 0h9m9 0h1.5m32 0h1.5m13 0h1.5M178.5 252h1.5m109 0h1.5m8.5 0h1.5m4.5 0h2.5m4.5 0h10m159.5 0h17m.5 0h2.5m2.5 0h1.5m3 0h1.5m1 0h1.5m8 0h1.5M256 252.5h1.5m16 0h1.5m17 0h1.5m10 0h3.5m.5 0h1.5m.5 0h1.5m1 0h9.5m160 0h14m4.5 0h1.5m2.5 0h1.5m3 0h1.5m10.5 0h1.5m15 0h1.5M256 253h1.5m.5 0h1.5m14 0h1.5m17 0h1.5m1.5 0h1.5m2 0h1.5m1.5 0h1.5m.5 0h18m159.5 0h12m.5 0h2.5m1.5 0h3.5m7.5 0h1.5m16.5 0h1.5m9 0h1.5M213 253.5h1.5m43.5 0h1.5m23.5 0h4.5m.5 0h1.5m2.5 0h1.5m1.5 0h3m.5 0h1.5m.5 0h3m1 0h1.5m.5 0h1.5m1 0h3m.5 0h8m160.5 0h8m2 0h5m1 0h4m1 0h1.5m1 0h1.5m.5 0h1.5m.5 0h2.5m1 0h1.5m5 0h1.5m6.5 0h1.5M213 254h1.5m68.5 0h4.5m.5 0h1.5m.5 0h1.5m.5 0h1.5m3 0h1.5m2.5 0h3m1 0h4m.5 0h2.5m1 0h8m158.5 0h7.5m.5 0h7.5m2.5 0h1.5m3.5 0h1.5m1 0h1.5m.5 0h1.5m1.5 0h1.5m1 0h1.5m5 0h3M224.5 254.5h1.5m53.5 0h1.5m2 0h1.5m5.5 0h1.5m4 0h1.5m1 0h1.5m1.5 0h2.5m2 0h3m.5 0h4m1 0h5.5m159 0h15m3 0h1.5m1 0h2m19 0h1.5M224.5 255h1.5m12.5 0h1.5m31 0h1.5m7 0h1.5m6.5 0h2.5m5.5 0h1.5m1 0h5.5m2 0h1.5m1.5 0h10.5m158.5 0h16m3 0h6M238.5 255.5h1.5m31 0h1.5m4.5 0h1.5m9 0h4m4 0h1.5m2 0h2m2.5 0h1.5m.5 0h13m159 0h13.5m1 0h2m1 0h1.5m1.5 0h4.5m31 0h1.5m62.5 0h1.5M277 256h1.5m6.5 0h1.5m2 0h4.5m1.5 0h1.5m7.5 0h2m.5 0h4.5m2 0h6m158.5 0h14m1.5 0h4m1.5 0h2.5m33 0h1.5m62.5 0h1.5M240.5 256.5h1.5m43 0h1.5m.5 0h1.5m1.5 0h3m1.5 0h3m.5 0h3m.5 0h2m.5 0h3.5m.5 0h8.5m160.5 0h14m.5 0h4m2.5 0h2.5m1.5 0h1.5m3.5 0h2.5m70.5 0h1.5M240.5 257h1.5m39 0h3m3 0h1.5m1.5 0h1.5m4.5 0h1.5m.5 0h3m.5 0h2.5m1.5 0h2m1 0h7.5m159.5 0h17.5m1 0h2m6 0h1.5m2 0h4m70.5 0h1.5M281 257.5h3m3 0h1.5m3.5 0h1.5m3.5 0h3.5m1.5 0h6m2 0h5.5m160 0h16m1.5 0h3m4 0h1.5m2 0h1.5m.5 0h1.5M253.5 258h1.5m32 0h1.5m2 0h4m1 0h3m3.5 0h8m.5 0h5m159 0h13.5m.5 0h3m1.5 0h1.5m1 0h3m1.5 0h1.5m2 0h1.5m45.5 0h1.5m45 0h1.5M253.5 258.5h1.5m13 0h1.5m21 0h1.5m1 0h1.5m.5 0h3m4 0h12.5m160 0h7m1 0h1.5m.5 0h2m1 0h1.5m.5 0h1.5m.5 0h2m2 0h3m52 0h1.5m25 0h1.5m18.5 0h1.5M267.5 259h2m4 0h1.5m10.5 0h1.5m3.5 0h4m.5 0h3m2 0h3m2 0h9.5m159 0h10.5m.5 0h6m1 0h2m2 0h1.5m1 0h3m1.5 0h1.5m11 0h3m6.5 0h1.5m20 0h1.5m29.5 0h1.5M267.5 259.5h1.5m4.5 0h1.5m10.5 0h1.5m.5 0h1.5m1.5 0h4m1 0h18m160 0h14.5m.5 0h3.5m3.5 0h5.5m1.5 0h1.5m11 0h3m6.5 0h1.5m20 0h1.5M257 260h1.5m17 0h1.5m.5 0h1.5m4.5 0h2.5m1.5 0h1.5m5.5 0h17m.5 0h1.5m159 0h21m3 0h1.5m4.5 0h1.5M257 260.5h1.5m17 0h1.5m.5 0h1.5m4 0h3m2.5 0h1.5m1.5 0h1.5m1 0h2m2 0h6m.5 0h8m160 0h16.5m1 0h1.5m.5 0h1.5m4.5 0h1.5m3 0h2M282.5 261h2m2 0h1.5m.5 0h1.5m.5 0h5m1.5 0h1.5m.5 0h9.5m.5 0h3.5m159.5 0h5.5m1 0h10m1.5 0h2m4 0h1.5m.5 0h1.5m3.5 0h1.5m4.5 0h1.5M264 261.5h1.5m11 0h1.5m4.5 0h1.5m2.5 0h1.5m2.5 0h1.5m.5 0h2m1 0h3m1 0h12m160.5 0h14m1 0h1.5m2 0h1.5m4 0h1.5m.5 0h1.5m3.5 0h1.5m4.5 0h1.5M264 262h1.5m10 0h2.5m14 0h3m.5 0h3m2 0h2.5m.5 0h8m159 0h15m3 0h3.5m1.5 0h1.5m1 0h1.5m.5 0h1.5m9 0h1.5m44.5 0h1.5m14 0h1.5M275.5 262.5h3.5m6.5 0h1.5m2 0h1.5m1.5 0h3m.5 0h3m2 0h9m161 0h14m.5 0h1.5m2 0h2m1 0h1.5m.5 0h3m12 0h1.5m44.5 0h1.5m14 0h1.5M271 263h2m4 0h2m3.5 0h1.5m1.5 0h7m1 0h1.5m.5 0h13m160 0h8m.5 0h7.5m.5 0h1.5m1 0h1.5m2.5 0h1.5m1 0h2.5M261 263.5h1.5m8.5 0h2m8 0h3m3 0h5.5m1 0h1.5m.5 0h1.5m.5 0h11m160 0h15.5m1 0h1.5m1 0h1.5m3 0h1.5M259.5 264h3m12.5 0h1.5m2 0h1.5m1 0h3m3 0h5.5m1 0h1.5m.5 0h1.5m1 0h10.5m159 0h14m1 0h1.5m3 0h1.5m3.5 0h1.5m1 0h1.5m31.5 0h1.5M244.5 264.5h1.5m13.5 0h1.5m14 0h1.5m2 0h1.5m1 0h3m3 0h5m1.5 0h1.5m1.5 0h5.5m.5 0h5m160 0h14m1 0h3.5m1 0h3m4.5 0h1.5m31.5 0h1.5M244.5 265h1.5m24.5 0h1.5m9 0h2m3.5 0h1.5m2.5 0h1.5m2 0h1.5m1 0h2m.5 0h8.5m159 0h14m2.5 0h7m3.5 0h1.5M265.5 265.5h1.5m3.5 0h1.5m8.5 0h3.5m2.5 0h1.5m6 0h2m.5 0h1.5m1 0h7.5m160 0h10.5m.5 0h5.5m1.5 0h5.5m3.5 0h1.5M228 266h1.5m36 0h1.5m.5 0h1.5m10.5 0h2.5m.5 0h1.5m5 0h1.5m2 0h1.5m.5 0h3.5m1.5 0h7m159 0h7m1.5 0h10.5m1.5 0h2m7.5 0h1.5m2 0h1.5m19.5 0h1.5m34 0h1.5M228 266.5h1.5m38 0h1.5m10.5 0h1.5m4 0h3m1 0h1.5m2 0h9m.5 0h3.5m160 0h7m.5 0h3.5m.5 0h5.5m.5 0h5m2 0h1.5m4 0h1.5m2 0h3m18 0h1.5m34 0h1.5M277.5 267h1.5m1 0h1.5m1 0h1.5m1 0h3m4 0h13.5m159 0h12m.5 0h5m1 0h3m4 0h3.5m7 0h1.5M277.5 267.5h1.5m1 0h1.5m1 0h1.5m1.5 0h2m4.5 0h11.5m161 0h7m.5 0h4.5m.5 0h1.5m.5 0h3m2 0h1.5m2.5 0h1.5m1.5 0h2.5M275.5 268h1.5m2.5 0h4.5m1 0h1.5m5 0h7m.5 0h4m161 0h7.5m.5 0h4.5m1 0h1.5m1 0h2.5m.5 0h2.5m2.5 0h1.5m1 0h1.5m1 0h2M224.5 268.5h1.5m49.5 0h1.5m2.5 0h4.5m1 0h1.5m3 0h3.5m.5 0h9m161.5 0h11.5m2 0h1.5m1 0h2.5m.5 0h3.5m1 0h1.5m1.5 0h1.5m1 0h2m.5 0h1.5m14.5 0h1.5M224.5 269h1.5m58.5 0h2.5m2 0h2.5m2 0h9m160.5 0h7.5m.5 0h5.5m1 0h1.5m5.5 0h2m1 0h1.5m6.5 0h1.5m6.5 0h1.5m6.5 0h1.5M270.5 269.5h1.5m12.5 0h2.5m2 0h1.5m1 0h10m161 0h6m.5 0h9.5m2 0h1.5m.5 0h1.5m3.5 0h1.5m1 0h1.5m12 0h1.5M245.5 270h1.5m5 0h1.5m5.5 0h1.5m10 0h1.5m1 0h1.5m10 0h1.5m2 0h13.5m160 0h5.5m1 0h6.5m.5 0h3.5m1 0h2.5m.5 0h1.5m4.5 0h3M186 270.5h1.5m13.5 0h1.5m43 0h1.5m5 0h1.5m5.5 0h1.5m12 0h3.5m7 0h3m1.5 0h13m161 0h15.5m1.5 0h2.5m6 0h3m23 0h1.5M186 271h1.5m13.5 0h1.5m19 0h1.5m17.5 0h1.5m11 0h1.5m18 0h1.5m.5 0h1.5m.5 0h6m.5 0h1.5m3 0h2.5m2 0h8.5m161.5 0h7m.5 0h12.5m5 0h1.5m9 0h1.5m14 0h1.5M221.5 271.5h1.5m4 0h1.5m12 0h1.5m11 0h1.5m3 0h1.5m15.5 0h8m.5 0h1.5m1.5 0h2.5m1.5 0h9.5m161 0h8.5m.5 0h9m1 0h2.5m3 0h1.5m1.5 0h1.5m1.5 0h1.5m5 0h1.5M227 272h1.5m26 0h1.5m1.5 0h1.5m16.5 0h1.5m3.5 0h1.5m4 0h2.5m.5 0h10.5m161 0h8.5m.5 0h7m.5 0h1.5m2.5 0h1.5m2.5 0h1.5m1.5 0h1.5m1.5 0h1.5M232.5 272.5h1.5m20.5 0h1.5m15 0h1.5m6 0h1.5m1 0h3m2 0h12.5m161 0h19m2.5 0h3m1.5 0h4.5M232.5 273h1.5m32 0h1.5m3.5 0h3m2 0h1.5m1 0h1.5m1 0h4.5m.5 0h7m.5 0h5m159 0h14.5m.5 0h3.5m.5 0h1.5m1 0h1.5m2 0h7.5m35 0h1.5M266 273.5h1.5m1 0h1.5m1.5 0h2.5m1 0h4m3.5 0h14m161 0h14.5m1 0h4m2 0h1.5m3 0h2m5.5 0h1.5m32.5 0h1.5m11 0h1.5M266.5 274h1.5m.5 0h1.5m.5 0h8.5m2.5 0h3m.5 0h3.5m.5 0h7.5m160.5 0h15m1 0h4m1.5 0h1.5m11 0h1.5m4.5 0h1.5m1.5 0h1.5m36 0h1.5m27.5 0h1.5M255.5 274.5h1.5m9.5 0h1.5m1.5 0h9.5m1.5 0h9m.5 0h5m162 0h17.5m4 0h1.5m11.5 0h1.5m4 0h1.5m1.5 0h1.5m65 0h1.5M235.5 275h1.5m15.5 0h1.5m1.5 0h1.5m12.5 0h2m.5 0h2.5m3 0h1.5m1.5 0h5.5m1 0h7.5m161 0h19m17 0h1.5m45 0h1.5M235.5 275.5h1.5m15.5 0h1.5m7.5 0h1.5m4.5 0h1.5m2 0h3.5m6.5 0h7m.5 0h6m161 0h20.5m1.5 0h1.5m4 0h1.5m53.5 0h1.5M253.5 276h1.5m.5 0h1.5m4.5 0h1.5m4.5 0h1.5m.5 0h5m6 0h14m161 0h14.5m2 0h4m1.5 0h1.5m4 0h1.5m3 0h1.5m2 0h1.5M253.5 276.5h1.5m.5 0h1.5m6.5 0h1.5m4.5 0h2m.5 0h2m.5 0h4.5m.5 0h3.5m.5 0h10m161 0h9.5m.5 0h4m5 0h2.5m.5 0h1.5m.5 0h1.5m2 0h1.5m4 0h1.5m2 0h2.5M263 277h3.5m.5 0h1.5m1.5 0h1.5m1 0h1.5m.5 0h11m.5 0h7.5m161 0h15m1.5 0h1.5m1 0h2m1 0h1.5m.5 0h1.5m.5 0h3m8.5 0h1.5M218.5 277.5h1.5m40.5 0h1.5m1 0h1.5m.5 0h1.5m.5 0h2m7 0h9.5m.5 0h6.5m162 0h10.5m.5 0h4m1 0h5.5m4.5 0h1.5M218.5 278h1.5m24.5 0h1.5m14.5 0h1.5m4.5 0h3m1.5 0h3m1 0h1.5m2 0h3.5m1 0h9.5m160 0h12.5m2.5 0h1.5m1.5 0h6m1 0h2.5m3 0h2.5M244.5 278.5h1.5m20.5 0h3m1 0h6m2 0h1.5m.5 0h3m.5 0h7.5m161 0h9.5m.5 0h3m2 0h2.5m1.5 0h5m.5 0h3m3 0h2.5M252 279h1.5m.5 0h1.5m13 0h1.5m.5 0h1.5m1 0h3m1 0h3m.5 0h10.5m160.5 0h11.5m1 0h1.5m2.5 0h2.5m1.5 0h2m3 0h1.5m5.5 0h3m4.5 0h1.5M225 279.5h1.5m18 0h1.5m6 0h1.5m.5 0h1.5m13 0h1.5m.5 0h2m.5 0h3m1 0h2m2 0h8m162.5 0h12m.5 0h1.5m3.5 0h1.5m1.5 0h1.5m4 0h1.5m4 0h1.5m1 0h1.5m4.5 0h1.5M225 280h1.5m18 0h1.5m12 0h1.5m11.5 0h7.5m.5 0h1.5m1 0h2.5m.5 0h4m162.5 0h15.5m8 0h1.5m.5 0h2.5m4 0h1.5m2.5 0h1.5m10.5 0h1.5m.5 0h1.5m13.5 0h1.5m40 0h1.5M216 280.5h1.5m9.5 0h1.5m12 0h1.5m16 0h1.5m10.5 0h8.5m.5 0h1.5m1 0h6.5m163 0h15.5m4 0h1.5m2.5 0h1.5m.5 0h2.5m8 0h1.5m10.5 0h1.5m.5 0h1.5m13.5 0h1.5m25 0h1.5m13.5 0h1.5M216 281h1.5m9.5 0h1.5m12 0h1.5m.5 0h1.5m12.5 0h2.5m4 0h12m.5 0h5.5m1.5 0h5.5m161.5 0h18m3 0h1.5m1.5 0h1.5m4 0h3m60.5 0h1.5M221.5 281.5h1.5m5.5 0h1.5m12.5 0h1.5m8 0h1.5m3 0h2.5m3.5 0h25m162 0h3.5m.5 0h10.5m2 0h1.5m4.5 0h3m4 0h3M221.5 282h1.5m5.5 0h1.5m12.5 0h1.5m2.5 0h1.5m4 0h1.5m2.5 0h1.5m.5 0h2.5m2 0h1.5m6.5 0h1.5m1 0h14.5m160 0h7m.5 0h4.5m1 0h3.5m1.5 0h5m1.5 0h1.5m7 0h1.5M242.5 282.5h1.5m2.5 0h1.5m8 0h1.5m.5 0h2.5m4 0h1.5m1.5 0h2m1 0h1.5m.5 0h4m.5 0h9.5m161 0h7m.5 0h4.5m1 0h1.5m2 0h6.5m1 0h1.5M213.5 283h1.5m9.5 0h1.5m32 0h2.5m4 0h1.5m1.5 0h2m1 0h16m160 0h6m1.5 0h6.5m3.5 0h1.5m3.5 0h1.5m1 0h1.5m1.5 0h1.5m31 0h1.5m27.5 0h1.5M213.5 283.5h1.5m9.5 0h1.5m10.5 0h1.5m2.5 0h1.5m1.5 0h1.5m14 0h1.5m4 0h2m2.5 0h6m.5 0h10m161 0h14m2.5 0h1.5m10 0h1.5m31 0h1.5m27.5 0h1.5M205 284h1.5m30 0h1.5m1.5 0h2.5m1.5 0h1.5m3 0h1.5m4 0h1.5m2 0h2.5m3.5 0h4m1 0h7m1.5 0h9m160 0h19m12 0h1.5m63.5 0h1.5M205 284.5h1.5m30.5 0h1.5m1 0h1.5m7 0h1.5m4 0h1.5m2 0h2.5m1 0h1.5m1 0h8.5m.5 0h3m.5 0h9m161 0h9.5m.5 0h9.5m3.5 0h1.5m6.5 0h1.5m40.5 0h1.5m18.5 0h1.5m1.5 0h1.5m14 0h1.5M220 285h1.5m15.5 0h1.5m11 0h2.5m5.5 0h1.5m1.5 0h2m3 0h6m.5 0h12.5m160.5 0h10m.5 0h4.5m1 0h1.5m1 0h2.5m2.5 0h1.5m48.5 0h1.5m18.5 0h1.5m17 0h1.5m10 0h1.5M220 285.5h1.5m21.5 0h1.5m5 0h5m3 0h2m1 0h2m1 0h1.5m4.5 0h2m.5 0h10.5m162.5 0h7m1 0h2.5m.5 0h6.5m2 0h1.5m102.5 0h1.5M238.5 286h1.5m3 0h1.5m6.5 0h3.5m3 0h2m1 0h1.5m1.5 0h1.5m.5 0h6.5m.5 0h10m161 0h1.5m.5 0h7.5m1 0h1.5m.5 0h6.5m5 0h1.5M201.5 286.5h1.5m10 0h1.5m2.5 0h1.5m14.5 0h1.5m4 0h1.5m9.5 0h2m5.5 0h2m2.5 0h3m1 0h6.5m1 0h8.5m162 0h9.5m.5 0h7m.5 0h1.5m5 0h1.5m13 0h1.5M201.5 287h1.5m10 0h2.5m1.5 0h1.5m9.5 0h2m3 0h1.5m3 0h1.5m2.5 0h1.5m1 0h1.5m4 0h2m1 0h1.5m3 0h1.5m3 0h3m2.5 0h2.5m2 0h3m1 0h6m161 0h14m.5 0h5.5m1.5 0h1.5m16.5 0h1.5M214 287.5h1.5m12.5 0h2m7.5 0h1.5m2.5 0h1.5m1 0h2.5m2.5 0h1.5m2 0h1.5m.5 0h4.5m2.5 0h3m1.5 0h4m1 0h9m162.5 0h12.5m.5 0h3.5m1.5 0h5m123 0h1.5M237.5 288h1.5m6 0h1.5m2.5 0h1.5m1.5 0h1.5m1 0h10m.5 0h9m.5 0h5.5m161.5 0h13.5m.5 0h4m2 0h3m12.5 0h1.5m110 0h1.5M237.5 288.5h1.5m3 0h1.5m8.5 0h3m.5 0h1.5m1 0h3.5m.5 0h2m1 0h7m.5 0h7m162 0h14.5m1 0h5.5m3 0h1.5m7 0h1.5m1.5 0h1.5M225.5 289h1.5m15 0h3m4.5 0h2m2 0h1.5m.5 0h1.5m1 0h3m1 0h10m.5 0h6m163 0h14.5m.5 0h2m.5 0h3.5m1 0h1.5m.5 0h1.5m7 0h1.5m64 0h1.5m7 0h1.5m5 0h1.5M225.5 289.5h1.5m7.5 0h1.5m7.5 0h1.5m1 0h1.5m2 0h2m2.5 0h1.5m1 0h1.5m1.5 0h2m2.5 0h1.5m1 0h11m163 0h14.5m1.5 0h2m.5 0h2m2.5 0h1.5m74.5 0h1.5m7 0h1.5m5 0h1.5m4 0h1.5M234.5 290h1.5m10 0h1.5m5 0h6.5m1 0h1.5m2 0h14m162 0h9m.5 0h4.5m1.5 0h1.5m1 0h1.5m.5 0h1.5m27.5 0h1.5m70 0h1.5M158.5 290.5h1.5m66.5 0h1.5m17.5 0h1.5m5.5 0h6.5m2 0h7.5m.5 0h7.5m163 0h17.5m.5 0h1.5m.5 0h4m1.5 0h1.5m2.5 0h1.5m2.5 0h2m13.5 0h1.5M158.5 291h1.5m48.5 0h1.5m16.5 0h1.5m16 0h3m2 0h1.5m3 0h5m1 0h5m1.5 0h2m1 0h7.5m162.5 0h18m.5 0h2m1 0h3m1.5 0h1.5m2.5 0h2.5m1.5 0h2M208.5 291.5h1.5m3 0h1.5m29.5 0h1.5m3.5 0h1.5m6.5 0h1.5m1 0h1.5m.5 0h3m.5 0h10m163.5 0h7.5m.5 0h4.5m.5 0h3.5m1 0h1.5m.5 0h1.5m1.5 0h3.5m5.5 0h1.5m40 0h1.5M133 292h1.5m78.5 0h1.5m23.5 0h1.5m13.5 0h1.5m1 0h1.5m8 0h9.5m162 0h13.5m1 0h6.5m3.5 0h3.5m4 0h1.5m41.5 0h1.5M133 292.5h1.5m98.5 0h1.5m3.5 0h1.5m6 0h1.5m.5 0h1.5m4 0h1.5m1 0h2m2 0h1.5m1 0h12m162.5 0h16m1 0h3.5m1 0h2m1 0h3m4.5 0h1.5m96.5 0h1.5m20 0h1.5M211 293h1.5m9.5 0h1.5m1 0h1.5m1 0h1.5m4.5 0h1.5m11 0h1.5m.5 0h2m5 0h3m2 0h1.5m1 0h12m162 0h16m1.5 0h1.5m2 0h3m.5 0h3.5m.5 0h1.5m100.5 0h1.5m20 0h1.5M211 293.5h1.5m9.5 0h1.5m1 0h2m.5 0h1.5m2.5 0h1.5m8.5 0h3m1 0h4.5m3.5 0h6m2.5 0h4m1 0h7m162 0h3.5m.5 0h6m1.5 0h3m.5 0h2.5m.5 0h1.5m2 0h1.5m2 0h3m1 0h1.5m16.5 0h1.5M217 294h1.5m6.5 0h1.5m.5 0h1.5m2.5 0h1.5m7 0h4.5m1 0h3.5m1 0h1.5m2 0h2m.5 0h3.5m.5 0h1.5m.5 0h12m161 0h4.5m.5 0h13.5m.5 0h3m.5 0h1.5m2.5 0h2.5m19 0h1.5M209 294.5h1.5m6.5 0h1.5m8.5 0h1.5m5 0h1.5m4.5 0h1.5m2.5 0h1.5m2.5 0h1.5m.5 0h1.5m2.5 0h5m1 0h12m163 0h15m.5 0h3m.5 0h3m4.5 0h2.5M209 295h1.5m10 0h1.5m4 0h1.5m6 0h1.5m8.5 0h1.5m2.5 0h2m5.5 0h3.5m2.5 0h10.5m162 0h6.5m.5 0h5m1.5 0h3m1 0h4.5M152.5 295.5h1.5m21 0h1.5m44 0h1.5m4 0h2m10.5 0h1.5m3.5 0h1.5m.5 0h4m1 0h1.5m3 0h2.5m2.5 0h10.5m163 0h12m.5 0h1.5m.5 0h2m1 0h4.5m2.5 0h1.5m49.5 0h1.5M152.5 296h1.5m21 0h1.5m44 0h1.5m4.5 0h2m10 0h1.5m3.5 0h1.5m.5 0h3m2 0h8m1 0h11m162 0h12.5m.5 0h7m1.5 0h1.5m1.5 0h2.5m49.5 0h1.5M227 296.5h1.5m3 0h1.5m6.5 0h1.5m4.5 0h1.5m2 0h19.5m164 0h12.5m.5 0h2.5m1 0h3.5m2.5 0h1.5m.5 0h1.5m10.5 0h1.5m42.5 0h1.5M213.5 297h1.5m16.5 0h1.5m2.5 0h1.5m2.5 0h1.5m8 0h3m3.5 0h13m163 0h9.5m2 0h1.5m1.5 0h4m1 0h1.5m2.5 0h3.5m10.5 0h1.5m42.5 0h1.5m32 0h1.5m1 0h1.5M170 297.5h1.5m42 0h1.5m16.5 0h5.5m6.5 0h1.5m2.5 0h1.5m1 0h2.5m1.5 0h14.5m163 0h18.5m1 0h2m1 0h3m89.5 0h1.5m1 0h1.5M170 298h1.5m46 0h1.5m12 0h5m1.5 0h1.5m4.5 0h1.5m.5 0h4.5m1 0h1.5m1.5 0h3m.5 0h1.5m.5 0h8.5m163 0h18.5m2 0h1.5m1 0h1.5m7.5 0h1.5m92 0h1.5m20.5 0h1.5M217.5 298.5h1.5m12 0h2.5m4 0h1.5m6.5 0h5.5m3.5 0h1.5m.5 0h9.5m164.5 0h12.5m1.5 0h5m2 0h3m1.5 0h1.5m3.5 0h1.5m.5 0h1.5m5 0h2.5m84.5 0h1.5m20.5 0h1.5M214.5 299h1.5m31 0h2m.5 0h1.5m1.5 0h1.5m1 0h3m.5 0h7.5m163.5 0h11m1 0h1.5m.5 0h2.5m1 0h1.5m2.5 0h3.5m1.5 0h1.5m3.5 0h1.5m7 0h2.5M214.5 299.5h3m20 0h1.5m1.5 0h3.5m4 0h1.5m2 0h2.5m.5 0h2.5m.5 0h8m164 0h13.5m.5 0h5.5m2 0h2m.5 0h1.5m2 0h1.5M216 300h1.5m16.5 0h1.5m1 0h2.5m1.5 0h4m2 0h3m1.5 0h14.5m163.5 0h8.5m.5 0h4m3 0h4m1 0h3m.5 0h3m.5 0h1.5M201.5 300.5h1.5m28 0h1.5m1.5 0h1.5m1 0h4m2.5 0h1.5m1 0h3m2.5 0h4.5m.5 0h8.5m164 0h13.5m.5 0h3m1 0h2.5m1 0h1.5m.5 0h1.5m1.5 0h1.5m.5 0h1.5m2 0h1.5m12 0h1.5M193.5 301h1.5m6.5 0h1.5m28 0h1.5m1 0h1.5m3 0h4.5m3 0h1.5m3 0h1.5m1 0h6.5m.5 0h5m163 0h18m2.5 0h3m1 0h1.5m3.5 0h1.5m2 0h1.5m12 0h1.5m4.5 0h1.5M112.5 301.5h1.5m79.5 0h1.5m36 0h1.5m1 0h1.5m4 0h3.5m3 0h6m1.5 0h9.5m165 0h15m5.5 0h3m3 0h1.5m6 0h1.5m11 0h1.5m4.5 0h1.5M112.5 302h1.5m90.5 0h1.5m14.5 0h1.5m7.5 0h1.5m8 0h1.5m4.5 0h5m.5 0h1.5m1 0h9.5m164.5 0h4.5m.5 0h2m.5 0h1.5m.5 0h3m1.5 0h1.5m11.5 0h3m4.5 0h1.5m1.5 0h1.5m8 0h1.5M191.5 302.5h2m7.5 0h1.5m2 0h1.5m14.5 0h1.5m3.5 0h1.5m2.5 0h3m12.5 0h2m1 0h1.5m1 0h1.5m1.5 0h7.5m165.5 0h14m.5 0h1.5m2.5 0h1.5m8 0h2.5m.5 0h1.5m1 0h1.5m3 0h1.5M191.5 303h2m7.5 0h1.5m23 0h2m3.5 0h2.5m7 0h1.5m3.5 0h1.5m.5 0h13.5m165 0h16.5m1 0h3m11 0h1.5m1 0h1.5m48 0h1.5M215.5 303.5h1.5m6 0h1.5m1.5 0h2m4 0h1.5m1 0h1.5m1.5 0h1.5m1 0h2m3.5 0h15m165.5 0h5.5m.5 0h10m1.5 0h1.5m4.5 0h1.5m58.5 0h1.5M214 304h3m2 0h2m2 0h3m.5 0h1.5m.5 0h1.5m4.5 0h1.5m1.5 0h4m2 0h1.5m.5 0h14.5m164.5 0h9m.5 0h3.5m1 0h1.5m.5 0h1.5m6 0h3m2 0h1.5M214 304.5h1.5m3.5 0h2m3.5 0h1.5m2.5 0h1.5m9 0h1.5m2.5 0h2m1.5 0h13m165 0h13.5m5.5 0h1.5m3 0h1.5m3.5 0h1.5m10 0h1.5M200 305h1.5m8 0h1.5m14.5 0h1.5m5 0h4.5m.5 0h5.5m.5 0h3.5m1 0h12m164 0h14.5m5.5 0h1.5m19.5 0h1.5M200 305.5h1.5m.5 0h1.5m6 0h1.5m9.5 0h1.5m3.5 0h2m3.5 0h5.5m.5 0h5.5m.5 0h1.5m.5 0h2m1 0h10m165.5 0h7m.5 0h7.5m2.5 0h2.5M202 306h1.5m17 0h1.5m4 0h1.5m2.5 0h2.5m11 0h4m.5 0h10m164.5 0h21M223 306.5h1.5m5.5 0h3m2.5 0h1.5m6.5 0h4m1 0h8m165 0h19.5m1 0h1.5m1 0h1.5M212.5 307h1.5m.5 0h1.5m7 0h1.5m6 0h2.5m2.5 0h2m.5 0h1.5m5.5 0h1.5m1 0h1.5m.5 0h7m164 0h18m6 0h1.5m140 0h1.5M212.5 307.5h1.5m.5 0h1.5m7.5 0h1.5m6.5 0h3m1 0h4m2 0h1.5m1.5 0h1.5m.5 0h2.5m1 0h5.5m165 0h15m3 0h1.5m1.5 0h1.5m41 0h1.5m100.5 0h1.5M211 308h1.5m9 0h1.5m.5 0h1.5m6.5 0h3m1 0h2.5m2 0h6m.5 0h8.5m164.5 0h6.5m.5 0h10m1 0h5.5m8 0h1.5m19 0h1.5m11 0h1.5M211 308.5h2.5m8 0h1.5m1.5 0h1.5m9 0h1.5m2.5 0h5.5m1.5 0h8.5m165 0h9m.5 0h7.5m.5 0h2m.5 0h3.5m8 0h1.5m2 0h1.5m13.5 0h1.5m.5 0h1.5m33.5 0h1.5M194 309h1.5m16.5 0h1.5m5 0h1.5m4.5 0h3m2 0h1.5m3.5 0h3m1.5 0h5.5m1.5 0h8.5m164 0h2.5m.5 0h2.5m.5 0h14m1 0h2.5m6.5 0h1.5m4.5 0h1.5m2 0h1.5m10 0h1.5m35.5 0h1.5M192 309.5h1.5m.5 0h1.5m23 0h1.5m6 0h1.5m2 0h1.5m.5 0h1.5m1.5 0h4m.5 0h6m1 0h2m.5 0h5m165 0h12.5m.5 0h5.5m2.5 0h2.5m6.5 0h1.5m3 0h1.5m3.5 0h1.5m10.5 0h1.5M183 310h1.5m7.5 0h1.5m22 0h1.5m7.5 0h2m5 0h2.5m1.5 0h7.5m.5 0h9.5m164.5 0h13.5m.5 0h3.5m4 0h4m2 0h1.5m6.5 0h1.5m15.5 0h1.5M183 310.5h1.5m.5 0h1.5m29 0h2m7 0h2m6 0h1.5m4 0h2m.5 0h12m165 0h9.5m.5 0h7m4.5 0h4m2 0h1.5m159 0h1.5M185 311h1.5m15.5 0h1.5m12.5 0h1.5m7.5 0h1.5m.5 0h1.5m9.5 0h6.5m1 0h7m164 0h16m.5 0h1.5m9 0h1.5m.5 0h1.5m158.5 0h1.5M202 311.5h3m20 0h3.5m1 0h1.5m4.5 0h15m166 0h7m.5 0h5m.5 0h3.5m1.5 0h2m.5 0h3.5m1.5 0h3m.5 0h1.5m3.5 0h1.5m4.5 0h2M175.5 312h1.5m26.5 0h1.5m3 0h2m16 0h1.5m2 0h1.5m1.5 0h1.5m1.5 0h15m165 0h13.5m.5 0h1.5m.5 0h5m.5 0h3.5m1.5 0h2.5m4.5 0h3m4.5 0h2M175.5 312.5h1.5m31 0h2m7 0h2m.5 0h1.5m11 0h2m.5 0h2m1 0h12m166 0h14m2 0h4m7.5 0h1.5m4.5 0h1.5m10 0h1.5M208.5 313h2m6.5 0h2m.5 0h1.5m.5 0h1.5m.5 0h1.5m1 0h1.5m4.5 0h1.5m1 0h2m1 0h1.5m.5 0h9.5m165.5 0h10m.5 0h5.5m3 0h2m5 0h1.5m18.5 0h1.5M202.5 313.5h1.5m5 0h1.5m11 0h3.5m1 0h1.5m2.5 0h3m3 0h12.5m166 0h12.5m.5 0h3.5m1 0h3m5.5 0h1.5M196.5 314h1.5m4.5 0h1.5m7.5 0h1.5m6.5 0h1.5m.5 0h2.5m3.5 0h21m165 0h13.5m.5 0h1.5m.5 0h1.5m1 0h1.5m1.5 0h2.5m1 0h1.5m168 0h1.5M175 314.5h1.5m20 0h1.5m8.5 0h1.5m3.5 0h1.5m1.5 0h2m3 0h4m4 0h20m166 0h10.5m.5 0h4m1 0h1.5m1 0h1.5m1.5 0h2.5m1 0h1.5m168 0h1.5M175 315h1.5m26.5 0h1.5m2 0h1.5m1 0h1.5m2.5 0h3.5m4.5 0h1.5m8 0h5.5m.5 0h10.5m166 0h12m.5 0h3.5m.5 0h1.5m3.5 0h2.5m150 0h1.5M185 315.5h2.5m15.5 0h1.5m4.5 0h1.5m2.5 0h1.5m1 0h1.5m1 0h2m1 0h1.5m8 0h16m166 0h12.5m.5 0h4m5 0h1.5m14 0h1.5m58 0h1.5m76 0h1.5M185 316h2.5m2 0h1.5m24.5 0h1.5m1 0h2.5m.5 0h1.5m1 0h4m1 0h1.5m2 0h14.5m165 0h13m1 0h1.5m.5 0h2m3 0h1.5m16 0h1.5m58 0h1.5M189.5 316.5h1.5m27 0h2.5m3 0h4m1 0h3m.5 0h13.5m166 0h15.5m4.5 0h2.5m1 0h1.5M199 317h1.5m17 0h3.5m6 0h6.5m2 0h10m165 0h7.5m.5 0h8.5m2.5 0h1.5m.5 0h1.5m2 0h1.5m.5 0h1.5m3.5 0h1.5m1 0h1.5m.5 0h1.5M197 317.5h1.5m.5 0h1.5m9 0h1.5m2 0h1.5m3 0h1.5m.5 0h4m.5 0h2m1 0h8.5m.5 0h8.5m166 0h13m.5 0h4m1 0h3m2.5 0h4m3.5 0h1.5m1 0h1.5m.5 0h1.5M184.5 318h1.5m7.5 0h1.5m2 0h1.5m8 0h2.5m.5 0h1.5m2 0h3.5m4.5 0h2.5m.5 0h2m4 0h1.5m2 0h2m1 0h8m165 0h14m.5 0h4m1 0h3m2.5 0h3.5m1 0h1.5M177 318.5h1.5m6 0h1.5m7.5 0h1.5m11.5 0h2.5m2.5 0h1.5m.5 0h3m2 0h6.5m3.5 0h5.5m.5 0h8m167 0h11.5m.5 0h1.5m7 0h1.5m5 0h1.5m1 0h1.5M177 319h1.5m26 0h1.5m5.5 0h1.5m5.5 0h6.5m1 0h1.5m1 0h1.5m1 0h3m.5 0h8m166 0h12.5m.5 0h5M200.5 319.5h1.5m2.5 0h1.5m6.5 0h1.5m1 0h1.5m1 0h1.5m.5 0h1.5m5 0h3m1 0h1.5m.5 0h2m1 0h6.5m167 0h18m1 0h4M181 320h1.5m17 0h2.5m5 0h2.5m3 0h1.5m1 0h1.5m1 0h1.5m1.5 0h1.5m5.5 0h4.5m.5 0h9m165.5 0h4.5m1 0h14.5m.5 0h4m1 0h1.5M181 320.5h1.5m4.5 0h1.5m11 0h1.5m2.5 0h1.5m.5 0h4m6.5 0h1.5m1.5 0h3m.5 0h1.5m3 0h5m1.5 0h7m166 0h17.5m1.5 0h1.5m1.5 0h1.5m2.5 0h1.5m43 0h1.5M187 321h1.5m7 0h1.5m4.5 0h1.5m.5 0h1.5m.5 0h1.5m.5 0h1.5m7 0h1.5m1.5 0h1.5m2 0h2m1 0h3m2.5 0h2.5m.5 0h6m165.5 0h13.5m.5 0h5m2 0h1.5m49 0h1.5M178 321.5h1.5m16 0h1.5m4.5 0h1.5m4.5 0h1.5m5.5 0h2.5m.5 0h1.5m1.5 0h1.5m.5 0h4.5m.5 0h12m166 0h8m1 0h4.5m.5 0h1.5m1.5 0h2m2 0h1.5M178 322h1.5m6 0h1.5m4 0h1.5m5 0h1.5m3 0h1.5m4 0h1.5m5.5 0h4.5m1.5 0h6.5m.5 0h12m165.5 0h8.5m.5 0h6m6 0h1.5M185 322.5h2m4 0h1.5m5 0h1.5m3 0h1.5m4 0h1.5m4.5 0h4.5m.5 0h2m.5 0h3.5m1 0h2m.5 0h10.5m166 0h17.5m4 0h1.5m4 0h1.5M185 323h1.5m8.5 0h1.5m3.5 0h1.5m8.5 0h2.5m.5 0h4.5m1 0h2m.5 0h3.5m1 0h3.5m.5 0h9m166 0h14.5m1 0h2m9.5 0h1.5m11 0h1.5M166.5 323.5h1.5m27 0h1.5m1 0h1.5m1 0h1.5m4 0h1.5m3 0h7m1.5 0h2m.5 0h3m.5 0h13m166 0h12m.5 0h2.5m1 0h1.5m4 0h1.5m17.5 0h1.5m76 0h1.5M166.5 324h1.5m7.5 0h1.5m4 0h1.5m6 0h1.5m4.5 0h1.5m1.5 0h1.5m6.5 0h1.5m4 0h4m.5 0h1.5m1.5 0h1.5m1 0h5m1 0h10.5m165 0h11m.5 0h5m.5 0h1.5m1.5 0h1.5m1 0h1.5m5.5 0h1.5m3.5 0h1.5m83 0h1.5M175.5 324.5h1.5m4 0h1.5m6 0h1.5m4.5 0h1.5m15 0h4m6 0h2m.5 0h2.5m.5 0h10m166 0h10m2.5 0h6.5m1 0h1.5m1 0h1.5m5.5 0h2.5m2.5 0h1.5m51.5 0h1.5M163 325h1.5m15.5 0h1.5m22 0h1.5m3 0h1.5m3 0h1.5m7.5 0h1.5m1 0h2m.5 0h10m165 0h20.5m1 0h1.5m.5 0h3m3 0h1.5m.5 0h1.5m55.5 0h1.5M163 325.5h1.5m15.5 0h1.5m22 0h2.5m2 0h1.5m8 0h1.5m3 0h13.5m166 0h17.5m.5 0h2.5m1 0h5m3 0h1.5M191 326h1.5m5 0h1.5m1.5 0h1.5m2.5 0h1.5m.5 0h1.5m.5 0h2.5m5.5 0h18m166.5 0h12.5m.5 0h7m2.5 0h3M185 326.5h1.5m4.5 0h1.5m5 0h1.5m1.5 0h1.5m4.5 0h1.5m.5 0h2.5m4.5 0h19m166 0h20.5M137.5 327h1.5m11.5 0h1.5m21 0h1.5m10.5 0h1.5m9 0h1.5m1 0h1.5m2 0h1.5m1 0h1.5m1.5 0h1.5m5 0h4m2 0h14.5m166.5 0h9.5m.5 0h8.5m.5 0h3M137.5 327.5h1.5m11.5 0h1.5m21 0h1.5m4.5 0h1.5m15 0h4m2 0h4m1.5 0h1.5m5 0h4m2 0h13m167 0h8.5m.5 0h1.5m.5 0h2m.5 0h5.5m2.5 0h2.5M179 328h1.5m16.5 0h1.5m4.5 0h1.5m5.5 0h5.5m4.5 0h1.5m.5 0h9m167.5 0h11m.5 0h3.5m.5 0h4.5m3 0h3M145.5 328.5h1.5m62.5 0h9m.5 0h1.5m1.5 0h9m167.5 0h19m1.5 0h1.5m2.5 0h1.5M145.5 329h1.5m53 0h1.5m3 0h1.5m3.5 0h1.5m.5 0h2.5m1.5 0h15.5m166.5 0h23m6.5 0h1.5M200 329.5h1.5m3 0h1.5m2 0h6.5m4 0h12m167 0h12m.5 0h4m.5 0h1.5m1.5 0h1.5m7 0h2.5m3 0h1.5M161 330h1.5m21 0h1.5m18 0h1.5m2.5 0h9m1 0h4.5m.5 0h8.5m166.5 0h10m.5 0h7m11.5 0h1.5m4 0h1.5M161 330.5h1.5m14 0h1.5m3.5 0h1.5m.5 0h1.5m10 0h1.5m4.5 0h3.5m2 0h2m1.5 0h1.5m.5 0h4m1 0h1.5m1 0h2m2.5 0h5.5m167 0h4m1 0h5m1 0h9.5m.5 0h1.5m65 0h1.5M174.5 331h1.5m.5 0h1.5m3.5 0h1.5m1.5 0h3m7.5 0h1.5m2 0h1.5m1 0h2.5m3 0h1.5m2 0h2m.5 0h1.5m3.5 0h1.5m.5 0h10m166 0h5m1 0h6.5m1.5 0h4m1 0h2.5m.5 0h1.5m2.5 0h2m5 0h1.5m54 0h1.5M142 331.5h1.5m19.5 0h1.5m10 0h1.5m8.5 0h3m11 0h1.5m10.5 0h1.5m5.5 0h6.5m.5 0h4m167 0h6m.5 0h6.5m.5 0h3m2.5 0h3m4 0h2m2 0h1.5m1.5 0h1.5M142 332h1.5m19.5 0h1.5m15 0h1.5m4.5 0h1.5m11 0h1.5m9 0h1.5m.5 0h1.5m1.5 0h1.5m2.5 0h11m166 0h7m.5 0h11.5m1 0h3m8 0h1.5m1 0h1.5M149 332.5h1.5m9.5 0h1.5m3.5 0h1.5m2.5 0h1.5m9 0h1.5m4.5 0h1.5m11 0h1.5m1 0h1.5m6.5 0h6.5m1 0h11.5m167 0h6.5m.5 0h4m.5 0h3m3 0h2m.5 0h1.5m1 0h1.5m9.5 0h1.5M144.5 333h1.5m3 0h1.5m9.5 0h1.5m3.5 0h1.5m2.5 0h1.5m17.5 0h1.5m6.5 0h1.5m3 0h1.5m3.5 0h1.5m2 0h2.5m.5 0h2m2 0h11.5m166.5 0h15m1 0h1.5m1 0h3.5m1 0h1.5m98 0h1.5M144.5 333.5h1.5m24.5 0h1.5m10.5 0h3m2.5 0h1.5m6.5 0h1.5m4 0h1.5m2.5 0h1.5m3 0h1.5m1 0h14m167 0h16m.5 0h1.5m1.5 0h2m1 0h1.5m1.5 0h1.5m96 0h1.5M126.5 334h1.5m42.5 0h1.5m10.5 0h3m5.5 0h1.5m1 0h1.5m6.5 0h1.5m1.5 0h2.5m3 0h1.5m.5 0h14.5m165.5 0h9m1 0h7.5m.5 0h1.5m.5 0h2.5m1.5 0h1.5m.5 0h2.5m2.5 0h1.5M126.5 334.5h1.5m63 0h1.5m1 0h1.5m6 0h1.5m.5 0h4m1.5 0h3m.5 0h13.5m166 0h10.5m1 0h6m.5 0h2m.5 0h3m3 0h1.5m3.5 0h1.5M176 335h3m22 0h1.5m.5 0h1.5m.5 0h1.5m.5 0h4.5m1.5 0h12.5m165 0h11.5m.5 0h1.5m1.5 0h5.5m2.5 0h1.5M176 335.5h3m16 0h1.5m6.5 0h1.5m2 0h3.5m.5 0h1.5m3 0h9m166.5 0h11m1 0h2.5m.5 0h4m2 0h1.5m1.5 0h2.5m4 0h1.5M193.5 336h4m3 0h1.5m4.5 0h3.5m.5 0h1.5m2 0h9.5m166 0h15.5m.5 0h4m2 0h1.5m1 0h3m3.5 0h2M176.5 336.5h1.5m15.5 0h1.5m1 0h2.5m2 0h1.5m.5 0h2.5m.5 0h3m1 0h1.5m.5 0h11.5m166.5 0h15.5m1.5 0h1.5m1.5 0h1.5m3 0h1.5m1.5 0h1.5m2 0h1.5M176.5 337h1.5m5 0h1.5m12.5 0h1.5m3.5 0h6.5m1 0h13m166 0h12m3 0h1.5m1.5 0h2m1 0h1.5m6 0h2.5M165 337.5h1.5m16.5 0h1.5m15 0h1.5m1 0h4m1 0h2m.5 0h4m.5 0h8.5m166 0h14.5m4 0h2m7.5 0h3M165 338h1.5m18 0h1.5m13.5 0h5m2.5 0h2m1.5 0h7m.5 0h4.5m166 0h14.5m4 0h2m6 0h3M178.5 338.5h2m4 0h1.5m15 0h4m1 0h2.5m1 0h12m166 0h15m6.5 0h1.5m4.5 0h1.5m3 0h1.5M139 339h1.5m29 0h1.5m.5 0h1.5m5.5 0h2m12 0h2.5m1 0h1.5m6 0h2m.5 0h15.5m165 0h16.5m2 0h3.5m.5 0h2m.5 0h2.5m2 0h2.5m1 0h1.5m193.5 0h1.5M139 339.5h1.5m29 0h1.5m.5 0h1.5m3.5 0h1.5m10 0h1.5m3 0h5m1.5 0h1.5m.5 0h1.5m1.5 0h6.5m.5 0h5m.5 0h3m167 0h16.5m2 0h3.5m1 0h1.5m.5 0h2.5m2 0h4m194.5 0h1.5M176.5 340h1.5m9 0h2.5m2 0h1.5m1.5 0h2m2.5 0h1.5m.5 0h5m1.5 0h1.5m2.5 0h7.5m166.5 0h14.5m1 0h2m4 0h1.5m3 0h1.5m5.5 0h1.5m4 0h1.5M171.5 340.5h1.5m2.5 0h1.5m2 0h1.5m3.5 0h1.5m1 0h2m.5 0h1.5m1 0h1.5m9.5 0h2.5m2.5 0h10.5m167.5 0h14.5m2.5 0h1.5m3.5 0h1.5m15 0h1.5M139.5 341h1.5m30.5 0h1.5m2.5 0h1.5m2 0h1.5m3.5 0h4m1 0h1.5m6.5 0h1.5m3.5 0h2m2 0h12m167.5 0h10.5m1.5 0h2.5m2 0h2m3.5 0h2.5m2 0h1.5M139.5 341.5h1.5m44 0h1.5m1 0h3m4 0h1.5m1 0h1.5m3.5 0h2m2 0h5m.5 0h6m167 0h14.5m2 0h5m2 0h2m2 0h1.5M181.5 342h1.5m4.5 0h3m4 0h1.5m4.5 0h5.5m3 0h8.5m165.5 0h14.5m1 0h1.5m1 0h1.5m.5 0h3m2 0h1.5m24 0h1.5m1 0h1.5M181.5 342.5h1.5m2 0h3m7.5 0h2.5m1 0h8m2 0h7.5m166.5 0h17m6 0h1.5m.5 0h1.5m9 0h1.5m13.5 0h1.5m1 0h1.5M165.5 343h1.5m12.5 0h1.5m4 0h3m7.5 0h3m.5 0h2.5m1.5 0h13.5m165.5 0h13m1.5 0h3m1.5 0h1.5m2 0h3m2 0h1.5m7.5 0h1.5M107 343.5h1.5m57 0h1.5m12.5 0h1.5m5 0h1.5m9.5 0h1.5m.5 0h2.5m.5 0h13.5m166 0h10.5m2.5 0h1.5m.5 0h1.5m3 0h1.5m2 0h1.5m3.5 0h1.5M107 344h1.5m86.5 0h2.5m1.5 0h2m1 0h13.5m165 0h12m2 0h3.5m.5 0h2.5m18.5 0h1.5M177.5 344.5h1.5m10 0h1.5m4.5 0h2.5m2 0h15m166 0h4m.5 0h7.5m1 0h2m.5 0h2m.5 0h3.5m17.5 0h1.5M177.5 345h1.5m10 0h1.5m1.5 0h1.5m2.5 0h1.5m3.5 0h13.5m165 0h10m.5 0h2.5m1 0h2m1 0h1.5m.5 0h5m6 0h1.5M157 345.5h1.5m33.5 0h1.5m7.5 0h1.5m.5 0h1.5m.5 0h8.5m166 0h14.5m1 0h4m1 0h3.5m3.5 0h1.5m1 0h1.5M157 346h1.5m24.5 0h1.5m6.5 0h1.5m1.5 0h3m2 0h4m1.5 0h9m164 0h16.5m1 0h4m1.5 0h2m4.5 0h1.5m4 0h1.5m3 0h1.5M169.5 346.5h1.5m9.5 0h1.5m1 0h1.5m1 0h1.5m4 0h2.5m.5 0h3m2 0h4m1.5 0h8m165 0h7m.5 0h9.5m.5 0h3m4.5 0h3m5 0h1.5m.5 0h1.5m3 0h1.5M169.5 347h3m3.5 0h1.5m3 0h1.5m3.5 0h2.5m1 0h1.5m1.5 0h1.5m5 0h14m164 0h8m.5 0h6.5m1 0h2m.5 0h2.5m5 0h3m.5 0h1.5m3 0h1.5m49 0h1.5M146 347.5h1.5m20 0h3m.5 0h1.5m3.5 0h1.5m8 0h2.5m1 0h1.5m3 0h1.5m1 0h1.5m.5 0h13.5m165 0h15.5m.5 0h1.5m6 0h2.5m3.5 0h1.5m7 0h1.5m45 0h1.5M146 348h1.5m10 0h1.5m8.5 0h3m15 0h2m.5 0h2.5m3 0h1.5m1 0h3.5m.5 0h10.5m165 0h18.5m2 0h1.5m2.5 0h2.5m12 0h1.5M157.5 348.5h1.5m18 0h2.5m6 0h2m.5 0h3.5m2 0h1.5m1.5 0h3.5m1 0h9.5m165 0h19m1.5 0h1.5M167 349h1.5m8.5 0h3.5m4.5 0h1.5m2 0h3m.5 0h1.5m1.5 0h2m.5 0h2.5m.5 0h10m164 0h20m1.5 0h2m1 0h1.5M161.5 349.5h1.5m4 0h1.5m3 0h1.5m6 0h2m.5 0h1.5m1 0h2.5m1 0h1.5m3 0h1.5m.5 0h5.5m.5 0h9.5m165 0h5m1 0h9.5m.5 0h1.5m2 0h1.5m1 0h1.5m1 0h2.5m6.5 0h1.5M161.5 350h1.5m8.5 0h1.5m3.5 0h1.5m1.5 0h1.5m.5 0h1.5m.5 0h2m2 0h1.5m3 0h16.5m164 0h2.5m1 0h14.5m3.5 0h1.5m4.5 0h1.5m6.5 0h1.5m5.5 0h1.5M133 350.5h1.5m28.5 0h1.5m1.5 0h1.5m9 0h1.5m.5 0h1.5m3.5 0h1.5m.5 0h1.5m1 0h1.5m2 0h17m164 0h11m1 0h6m2.5 0h3m1 0h1.5m7.5 0h1.5m7.5 0h1.5M133 351h1.5m14.5 0h1.5m12.5 0h1.5m1.5 0h1.5m11 0h2.5m4.5 0h1.5m1 0h3m.5 0h3.5m2.5 0h2m.5 0h3m.5 0h5m163.5 0h11m1.5 0h3m.5 0h2.5m1 0h7m7.5 0h1.5M149 351.5h1.5m5 0h1.5m14 0h1.5m7 0h1.5m3 0h3m2.5 0h1.5m2 0h3m1.5 0h2.5m.5 0h7m164 0h11.5m1.5 0h2.5m1 0h3m.5 0h1.5m3 0h1.5m4 0h1.5m6 0h1.5m134.5 0h1.5M155.5 352h1.5m14 0h1.5m4 0h1.5m6 0h4.5m4 0h4.5m1.5 0h9m163 0h21.5m.5 0h3.5m5.5 0h2m1 0h1.5m3 0h2.5m133.5 0h1.5M176.5 352.5h1.5m9 0h1.5m3 0h2.5m.5 0h11m165 0h21.5m.5 0h3.5m4 0h1.5m.5 0h1.5m1 0h1.5m4 0h2M166 353h1.5m2.5 0h3m2.5 0h1.5m7 0h1.5m4.5 0h3m1 0h2m.5 0h9m164 0h11m1.5 0h7.5m.5 0h1.5m1 0h3m4.5 0h1.5m2.5 0h1.5m5 0h1.5M143.5 353.5h1.5m21 0h1.5m2.5 0h3m2.5 0h1.5m5 0h1.5m.5 0h2.5m3.5 0h3m1 0h11.5m164 0h18.5m.5 0h2.5m13 0h1.5M143.5 354h4.5m16.5 0h1.5m9.5 0h1.5m1 0h1.5m2.5 0h1.5m.5 0h3m3 0h4m1 0h10.5m162 0h23.5m3.5 0h1.5m25.5 0h1.5M138.5 354.5h1.5m5 0h3m16.5 0h1.5m8 0h1.5m2.5 0h1.5m1 0h1.5m3 0h2.5m.5 0h1.5m2 0h5.5m1.5 0h6m163 0h12m.5 0h3m1 0h6.5m4 0h1.5m25.5 0h1.5M138.5 355h1.5m5 0h1.5m7 0h1.5m10 0h1.5m4 0h1.5m2 0h2.5m1.5 0h1.5m1 0h1.5m3 0h4.5m2 0h13m162 0h7.5m.5 0h5m.5 0h2.5m1.5 0h3.5m1.5 0h1.5m18 0h1.5M153.5 355.5h1.5m10 0h1.5m4 0h1.5m3 0h1.5m.5 0h2.5m4 0h2m2 0h4m.5 0h11.5m163 0h10m1 0h2m.5 0h2.5m2 0h3.5m1 0h3.5m16 0h1.5M152.5 356h1.5m7.5 0h1.5m11 0h1.5m1.5 0h2.5m4 0h3.5m1 0h3.5m1 0h1.5m2 0h7m162.5 0h13.5m.5 0h8.5m1 0h4M152.5 356.5h1.5m7.5 0h1.5m5 0h3m3 0h1.5m2 0h1.5m2 0h1.5m.5 0h4m1.5 0h3m1 0h3m1.5 0h5.5m163 0h15.5m.5 0h4.5m.5 0h1.5m.5 0h2m.5 0h2m.5 0h1.5m3 0h1.5M93.5 357h1.5m73 0h3.5m6 0h1.5m2 0h5m2 0h3.5m1 0h3m.5 0h6.5m163 0h9.5m.5 0h9m2 0h1.5m.5 0h1.5m.5 0h2m1 0h1.5m1 0h3.5m13.5 0h1.5M93.5 357.5h1.5m6.5 0h1.5m56 0h1.5m9.5 0h1.5m5 0h2.5m2 0h3m2 0h1.5m.5 0h1.5m.5 0h1.5m1 0h9m163.5 0h10m.5 0h4.5m.5 0h5m1.5 0h1.5m2 0h3m2.5 0h2m2.5 0h1.5m11 0h1.5M101.5 358h1.5m41 0h1.5m13.5 0h1.5m16 0h1.5m2 0h1.5m3 0h3m.5 0h1.5m.5 0h11.5m161 0h14.5m1 0h2m.5 0h8m3.5 0h1.5m3.5 0h1.5m1 0h2.5M144 358.5h1.5m25.5 0h1.5m6 0h3m3 0h3m.5 0h12.5m162 0h10m.5 0h7m.5 0h2m2 0h3m.5 0h3.5m5.5 0h1.5m1 0h1.5m1 0h1.5M171 359h1.5m6 0h1.5m6 0h14.5m161 0h18m1 0h2m3.5 0h1.5m.5 0h3.5m5.5 0h1.5m3.5 0h1.5M160.5 359.5h1.5m2.5 0h2.5m14.5 0h1.5m.5 0h1.5m2 0h12m162.5 0h18m2 0h2.5m2.5 0h1.5m1.5 0h1.5m6 0h1.5M152 360h1.5m7 0h1.5m2.5 0h3.5m3 0h1.5m3 0h1.5m4.5 0h3.5m3.5 0h10m162 0h11m2 0h5m3 0h3.5m1.5 0h4.5M137 360.5h1.5m13.5 0h1.5m12.5 0h2m3 0h2.5m2 0h1.5m3 0h4m4.5 0h1.5m.5 0h8m162 0h10.5m1 0h6.5m2 0h4.5m3 0h1.5m.5 0h1.5m8.5 0h1.5M106 361h1.5m29.5 0h1.5m17 0h1.5m10 0h2.5m2.5 0h4m1 0h1.5m1.5 0h4m3 0h10.5m163 0h17.5m2.5 0h1.5m1.5 0h1.5m5 0h1.5m8.5 0h1.5M106 361.5h1.5m47.5 0h2m9 0h3.5m.5 0h1.5m.5 0h4m1 0h3m1.5 0h4.5m.5 0h4.5m.5 0h6m163 0h10m.5 0h7.5m1 0h1.5m2.5 0h1.5m1 0h2m4.5 0h1.5m8 0h1.5M89.5 362h1.5m64 0h1.5m9.5 0h2.5m1 0h2m1.5 0h2m2 0h3m.5 0h1.5m1 0h5.5m1 0h8m160.5 0h12m1 0h12.5m1 0h3.5m4.5 0h1.5m8 0h2.5M89.5 362.5h1.5m76 0h1.5m1 0h1.5m2.5 0h1.5m2 0h1.5m.5 0h3.5m.5 0h5m1.5 0h7m161 0h17.5m.5 0h1.5m1.5 0h5m1 0h1.5m6 0h1.5m4.5 0h1.5m3.5 0h1.5M157.5 363h1.5m11 0h1.5m1.5 0h2m2 0h1.5m.5 0h1.5m.5 0h7m1 0h7.5m160 0h8.5m1 0h2.5m1 0h4m6 0h3m1 0h2.5m5 0h2.5m4.5 0h1.5M157.5 363.5h1.5m7 0h1.5m2.5 0h1.5m1.5 0h1.5m2.5 0h3.5m.5 0h2.5m2 0h9.5m161.5 0h12.5m.5 0h4m3 0h2.5m.5 0h3m1 0h2.5m5 0h1.5m8.5 0h1.5M166 364h1.5m9.5 0h2m.5 0h1.5m3 0h11m160.5 0h13.5m.5 0h4.5m2.5 0h2.5m.5 0h2.5m19 0h1.5M162 364.5h1.5m2.5 0h1.5m3.5 0h1.5m5 0h1.5m.5 0h2m2.5 0h1.5m.5 0h8.5m161 0h12.5m1 0h6m.5 0h2m2 0h2.5m4.5 0h2.5M125.5 365h1.5m26.5 0h1.5m7 0h1.5m2 0h1.5m2 0h1.5m.5 0h2.5m6.5 0h1.5m3.5 0h9m161 0h4.5m.5 0h17.5m.5 0h1.5m5.5 0h4M125.5 365.5h1.5m15 0h1.5m1.5 0h1.5m7 0h1.5m8 0h1.5m1 0h1.5m2 0h1.5m1.5 0h1.5m2.5 0h1.5m7 0h9m161 0h18m1 0h2.5m1.5 0h2m2.5 0h1.5m1.5 0h1.5m7.5 0h1.5m4.5 0h1.5M142 366h1.5m1.5 0h1.5m11 0h1.5m4 0h1.5m11.5 0h1.5m2.5 0h2m1 0h10.5m159.5 0h16m.5 0h3m2.5 0h1.5m.5 0h2m3 0h2.5m2.5 0h1.5m5.5 0h1.5m4.5 0h1.5M157.5 366.5h1.5m10 0h3.5m6.5 0h5.5m.5 0h7.5m160.5 0h21.5m.5 0h4.5m1.5 0h1.5m.5 0h3m1 0h1.5m15.5 0h1.5M149.5 367h1.5m12.5 0h1.5m1.5 0h1.5m1 0h3.5m1.5 0h7.5m.5 0h10.5m160.5 0h11m.5 0h10m1 0h4m1.5 0h1.5m2 0h1.5m18 0h1.5m8 0h1.5M149.5 367.5h1.5m7 0h1.5m4 0h1.5m1.5 0h1.5m6 0h5.5m.5 0h11.5m160.5 0h15m.5 0h1.5m1 0h2m2 0h4.5m4 0h1.5m29.5 0h1.5M152 368h1.5m4.5 0h1.5m4 0h1.5m3 0h1.5m9 0h1.5m1 0h10m159.5 0h15m1 0h5m2.5 0h4.5m4 0h1.5M94.5 368.5h1.5m17 0h1.5m36 0h3m14.5 0h2.5m5.5 0h2m.5 0h11.5m160.5 0h14.5m1 0h2.5m.5 0h1.5m5 0h2m3 0h3.5M94.5 369h1.5m17 0h1.5m36 0h1.5m13.5 0h1.5m2 0h3m4 0h2m1.5 0h10m160.5 0h10m1 0h2.5m.5 0h1.5m.5 0h4.5m3.5 0h3m3.5 0h3.5M165.5 369.5h1.5m2.5 0h2.5m2.5 0h3.5m.5 0h2.5m1.5 0h7m160.5 0h10.5m.5 0h9.5m1 0h1.5m1 0h1.5m2.5 0h1.5M136 370h1.5m11.5 0h1.5m15.5 0h2.5m1 0h1.5m3.5 0h5.5m.5 0h5m1 0h3m159 0h24.5m1 0h1.5m2.5 0h1.5m7.5 0h1.5m1 0h1.5M136 370.5h1.5m11.5 0h3m14 0h2.5m5 0h1.5m1 0h2.5m.5 0h7m.5 0h2m159.5 0h10.5m.5 0h3m2 0h8m12.5 0h1.5m1 0h1.5m1 0h1.5M145 371h1.5m4 0h1.5m2 0h1.5m2.5 0h1.5m4.5 0h1.5m8 0h15m159.5 0h13m3 0h5.5m1 0h1.5m2.5 0h1.5m8.5 0h1.5m29.5 0h1.5m28 0h1.5M99.5 371.5h1.5m44 0h1.5m7.5 0h2.5m1.5 0h2.5m1 0h1.5m1 0h1.5m3 0h1.5m5 0h1.5m.5 0h10.5m159 0h5.5m.5 0h5m.5 0h4.5m2 0h5m4 0h2.5m7 0h1.5m31 0h1.5m28 0h1.5M99.5 372h1.5m50 0h1.5m2.5 0h1.5m.5 0h3.5m1 0h1.5m5.5 0h1.5m.5 0h1.5m.5 0h4.5m.5 0h2.5m.5 0h7m158 0h11.5m1 0h2.5m.5 0h3m1 0h4.5m4 0h1.5m8 0h1.5M119.5 372.5h1.5m2.5 0h1.5m14.5 0h1.5m1.5 0h1.5m7 0h1.5m4.5 0h2m6.5 0h1.5m3.5 0h16m159 0h15m.5 0h3m.5 0h5m7 0h1.5m229 0h1.5M119.5 373h1.5m2.5 0h1.5m14.5 0h1.5m1.5 0h1.5m10.5 0h2m7.5 0h3.5m3 0h3m3.5 0h3.5m1 0h5m158 0h11m.5 0h8m.5 0h4m.5 0h2m5.5 0h1.5m229 0h1.5M149.5 373.5h1.5m2.5 0h3m4 0h1.5m2 0h1.5m.5 0h1.5m9.5 0h3.5m1.5 0h2.5m160 0h11m4 0h4.5m2 0h1.5m1.5 0h2.5m47 0h1.5M149.5 374h1.5m2.5 0h1.5m5 0h2m2.5 0h1.5m5.5 0h2m3 0h1.5m1 0h5.5m159 0h9m1 0h5m1 0h1.5m1 0h1.5m6.5 0h1.5m1.5 0h1.5m3 0h1.5m39.5 0h1.5M145 374.5h1.5m3 0h1.5m4 0h1.5m3.5 0h1.5m3 0h1.5m.5 0h3m2 0h3m2 0h1.5m1 0h6m158.5 0h20m1 0h1.5m1.5 0h2m2 0h3m3 0h1.5m36.5 0h1.5M145 375h1.5m8.5 0h3m8.5 0h3m.5 0h1.5m.5 0h2.5m2.5 0h8m156.5 0h14m.5 0h7.5m1 0h1.5m1.5 0h2m2 0h1.5m2.5 0h1.5m38.5 0h1.5M137 375.5h1.5m5.5 0h1.5m11 0h1.5m2 0h2.5m3.5 0h2m1.5 0h2.5m4.5 0h8m157 0h14m.5 0h3m1.5 0h3m4.5 0h1.5m6 0h1.5m14 0h1.5M137 376h2m5 0h5m3.5 0h1.5m2.5 0h1.5m2 0h2.5m3.5 0h6m3.5 0h9m156.5 0h18.5m1 0h3m2.5 0h1.5m.5 0h2m1 0h1.5m3 0h1.5m14 0h1.5m4.5 0h1.5M137.5 376.5h1.5m5.5 0h4.5m3 0h2m7 0h1.5m2.5 0h1.5m1 0h3m4 0h9m157 0h10.5m.5 0h8m1 0h7m1 0h1.5m1 0h1.5m24.5 0h1.5m2 0h1.5M109 377h1.5m41.5 0h1.5m6.5 0h2.5m1.5 0h2.5m1.5 0h1.5m2 0h1.5m1.5 0h9m156 0h13.5m.5 0h1.5m1.5 0h4m1 0h4.5m10.5 0h1.5m22.5 0h1.5M109 377.5h1.5m26.5 0h1.5m17.5 0h1.5m2.5 0h1.5m1 0h4.5m1 0h1.5m1 0h2.5m2.5 0h6.5m157.5 0h15.5m3 0h2.5m1.5 0h1.5m.5 0h1.5m11 0h1.5m8.5 0h1.5M137 378h1.5m10.5 0h1.5m5.5 0h1.5m5 0h1.5m.5 0h2.5m2.5 0h2.5m1.5 0h1.5m.5 0h6m157 0h12.5m1 0h1.5m.5 0h1.5m.5 0h1.5m.5 0h1.5m27 0h1.5M149 378.5h1.5m13 0h3m2 0h2.5m1.5 0h9m157 0h13m1.5 0h2.5m.5 0h5M121 379h1.5m1 0h1.5m10.5 0h1.5m4.5 0h1.5m.5 0h1.5m18.5 0h1.5m3.5 0h1.5m1 0h9.5m156 0h15m.5 0h3m.5 0h1.5m.5 0h5M94 379.5h1.5m25.5 0h1.5m1 0h1.5m4.5 0h1.5m4.5 0h1.5m4.5 0h1.5m.5 0h3m4.5 0h1.5m1.5 0h1.5m5 0h1.5m2.5 0h1.5m.5 0h1.5m2.5 0h10m156 0h10.5m.5 0h3.5m.5 0h3.5m.5 0h1.5m.5 0h5m11.5 0h1.5M94 380h1.5m34 0h1.5m7 0h1.5m4.5 0h2.5m4.5 0h2.5m.5 0h1.5m1 0h1.5m1 0h4.5m.5 0h2m.5 0h2.5m1.5 0h2.5m.5 0h7m155 0h17.5m1.5 0h6m.5 0h4m9 0h1.5M130.5 380.5h1.5m6 0h1.5m6.5 0h1.5m3.5 0h2.5m3 0h1.5m1 0h2.5m.5 0h3.5m2 0h2m1 0h9m156 0h18m1 0h4.5m1.5 0h4.5m5 0h1.5M130.5 381h1.5m11.5 0h1.5m1 0h1.5m3 0h2m5.5 0h1.5m3.5 0h3.5m1 0h2m.5 0h9.5m155 0h19m1.5 0h7m8 0h1.5m13.5 0h1.5M139.5 381.5h1.5m2.5 0h3m4 0h2m5.5 0h1.5m5.5 0h4m1 0h8.5m156 0h7.5m.5 0h6m.5 0h1.5m.5 0h1.5m2.5 0h5.5m7.5 0h1.5m10 0h1.5m4 0h1.5M134.5 382h1.5m3.5 0h1.5m4 0h1.5m4.5 0h1.5m.5 0h1.5m1 0h1.5m.5 0h2m1 0h1.5m1 0h1.5m2 0h1.5m3 0h7.5m155 0h6.5m.5 0h10m1 0h8m8.5 0h1.5m2.5 0h1.5m6 0h1.5M134.5 382.5h1.5m12.5 0h1.5m2 0h3m.5 0h3.5m1.5 0h1.5m1 0h3m2.5 0h1.5m1 0h6.5m156 0h25.5m2 0h1.5m9.5 0h1.5M109.5 383h1.5m26 0h1.5m10 0h1.5m1.5 0h4.5m.5 0h1.5m4.5 0h3.5m2.5 0h4m.5 0h4.5m155 0h13m.5 0h9.5m1.5 0h3m1 0h1.5m4 0h1.5m11.5 0h1.5M109.5 383.5h1.5m26 0h1.5m11.5 0h3m1.5 0h1.5m5.5 0h2.5m.5 0h3.5m.5 0h8m156 0h16m1.5 0h5m.5 0h4.5m6.5 0h1.5m1 0h1.5m9 0h1.5M136 384h1.5m4.5 0h2.5m5.5 0h1.5m5.5 0h1.5m2.5 0h2.5m1.5 0h11m154.5 0h13.5m1 0h3.5m.5 0h6m.5 0h1.5m12 0h1.5M136 384.5h1.5m4.5 0h2.5m5 0h1.5m6 0h1.5m.5 0h5m1.5 0h10m155 0h18m.5 0h6m2 0h1.5M143 385h1.5m5 0h4m3.5 0h1.5m.5 0h3m.5 0h1.5m.5 0h11m154 0h18.5m1 0h2.5m3 0h1.5m1 0h1.5m4 0h1.5M119 385.5h1.5m4.5 0h1.5m8.5 0h2m6 0h1.5m6 0h3m3.5 0h1.5m.5 0h4.5m1 0h2.5m1.5 0h6m155 0h18m1.5 0h2.5m3 0h1.5m6.5 0h1.5M119 386h1.5m4.5 0h2m8 0h2m3.5 0h1.5m11 0h1.5m4 0h5m1 0h1.5m1 0h7.5m154 0h20m1.5 0h2.5m2 0h1.5M122 386.5h1.5m2 0h1.5m2.5 0h3.5m7.5 0h1.5m11 0h1.5m1 0h2m1 0h1.5m2 0h4.5m.5 0h6.5m155 0h21m1.5 0h1.5m2 0h1.5m8 0h1.5m6 0h1.5M122 387h1.5m3 0h1.5m1.5 0h3.5m12 0h1.5m4 0h2m1 0h1.5m.5 0h2m.5 0h1.5m2.5 0h11.5m154 0h6.5m.5 0h7m.5 0h7.5m.5 0h1.5m1 0h1.5m10 0h1.5m6 0h1.5m8 0h1.5M126.5 387.5h1.5m11 0h1.5m2 0h4.5m3.5 0h2m1 0h3m1.5 0h1.5m3.5 0h9m155.5 0h12.5m4 0h2.5m1 0h1.5m1 0h1.5m.5 0h2m6.5 0h1.5m5 0h1.5m1 0h1.5m10 0h1.5M116.5 388h1.5m1 0h2.5m3 0h1.5m13 0h1.5m2 0h4.5m1.5 0h1.5m5 0h1.5m.5 0h1.5m3 0h10.5m153.5 0h15.5m2 0h2.5m6.5 0h2.5m6 0h1.5m5 0h1.5m1 0h1.5M116.5 388.5h1.5m1 0h2.5m3 0h1.5m9.5 0h3m6 0h1.5m2.5 0h1.5m5.5 0h3m2.5 0h10.5m154 0h13m.5 0h2m.5 0h3m.5 0h1.5m6.5 0h1.5m64.5 0h1.5M130.5 389h1.5m3.5 0h3m2.5 0h1.5m1.5 0h1.5m1 0h1.5m.5 0h1.5m2.5 0h1.5m1.5 0h1.5m1 0h4.5m.5 0h8.5m153 0h19m1.5 0h1.5m3 0h1.5m68 0h1.5M130.5 389.5h1.5m9 0h2m1 0h1.5m1 0h2.5m3.5 0h1.5m4 0h3m2 0h7.5m154 0h18m1.5 0h1.5m2 0h1.5m.5 0h2m23.5 0h1.5M121.5 390h1.5m11 0h1.5m6 0h1.5m4.5 0h1.5m1 0h3.5m.5 0h1.5m4 0h2.5m.5 0h8m153 0h10.5m1 0h1.5m.5 0h3m.5 0h2.5m.5 0h2.5m1.5 0h1.5m.5 0h2m11.5 0h1.5m10.5 0h1.5M119.5 390.5h1.5m.5 0h1.5m11 0h1.5m5 0h1.5m1 0h1.5m5.5 0h3.5m.5 0h1.5m2 0h1.5m.5 0h4.5m.5 0h6m153 0h15.5m.5 0h1.5m.5 0h1.5m.5 0h2.5m8.5 0h1.5m7 0h1.5M111.5 391h1.5m6.5 0h1.5m19.5 0h1.5m1 0h1.5m5 0h3.5m.5 0h5.5m.5 0h1.5m.5 0h2.5m.5 0h5.5m152.5 0h15m1.5 0h2m8.5 0h1.5m1 0h1.5m1 0h1.5m2.5 0h1.5M102 391.5h1.5m8 0h1.5m29.5 0h1.5m3 0h1.5m1 0h9m1 0h4.5m1 0h4.5m153 0h12m1.5 0h1.5m1.5 0h3m2.5 0h2m3 0h1.5m1 0h1.5m.5 0h2m2.5 0h1.5M102 392h1.5m24.5 0h1.5m10 0h2.5m.5 0h1.5m3 0h3m3 0h3m2 0h11.5m153 0h12m.5 0h3m1.5 0h2.5m1 0h4m1 0h1.5m3 0h3M128 392.5h1.5m10 0h2.5m4.5 0h1.5m.5 0h1.5m4 0h1.5m1 0h12m153.5 0h3m.5 0h15.5m2 0h4m.5 0h2m3 0h1.5m2 0h1.5m4.5 0h1.5M146.5 393h1.5m1 0h1.5m3.5 0h1.5m1 0h1.5m1 0h9.5m152 0h4.5m.5 0h10.5m1.5 0h2m2 0h1.5m.5 0h1.5m2.5 0h2.5m2.5 0h1.5m2 0h1.5m3.5 0h2.5M144 393.5h2.5m2.5 0h1.5m8.5 0h8.5m152 0h14m1.5 0h1.5m5 0h1.5m5.5 0h1.5m11 0h1.5M135 394h1.5m3 0h1.5m3 0h3m1 0h1.5m6 0h3.5m.5 0h8m151 0h4m.5 0h10m1.5 0h2m2 0h1.5m1.5 0h1.5m2.5 0h1.5m1 0h1.5m6 0h1.5M124.5 394.5h1.5m9 0h1.5m1.5 0h4m2 0h3m1 0h3m3 0h12.5m152 0h13m.5 0h5.5m1 0h1.5m1 0h2m2.5 0h1.5m1 0h1.5m6 0h1.5M124.5 395h1.5m12 0h1.5m1 0h1.5m3 0h1.5m2.5 0h2m3 0h1.5m1 0h9m152 0h13.5m.5 0h6m3.5 0h2.5m2 0h1.5M139.5 395.5h1.5m3.5 0h2m.5 0h2m.5 0h1.5m1 0h1.5m2 0h1.5m.5 0h8m152 0h20m4.5 0h1.5m10.5 0h1.5M117.5 396h1.5m11.5 0h1.5m5 0h1.5m1 0h1.5m3.5 0h1.5m1 0h3m2 0h1.5m2 0h10m151 0h21.5m1 0h3m12 0h1.5M83 396.5h1.5m24.5 0h1.5m6 0h2.5m6 0h1.5m4 0h1.5m2 0h1.5m1.5 0h1.5m3.5 0h1.5m1 0h1.5m2 0h4.5m2 0h1.5m.5 0h8m152 0h4.5m.5 0h4.5m.5 0h5.5m1 0h1.5m.5 0h3m1 0h3m1.5 0h1.5M83 397h1.5m14.5 0h1.5m8.5 0h1.5m6 0h1.5m5 0h1.5m.5 0h1.5m7.5 0h1.5m.5 0h1.5m4.5 0h1.5m2.5 0h6.5m1 0h2.5m.5 0h8m150 0h2m.5 0h14.5m4 0h2m2 0h1.5m2 0h2M99 397.5h1.5m22.5 0h1.5m6.5 0h1.5m3 0h2m6 0h5.5m4.5 0h10m151 0h18m3.5 0h1.5m2 0h1.5m2 0h1.5M126 398h1.5m1 0h2m.5 0h1.5m3 0h2m2.5 0h1.5m2 0h4m4 0h1.5m2 0h8.5m150 0h11m.5 0h2.5m1.5 0h1.5m.5 0h2m3 0h2.5m4 0h1.5M110 398.5h1.5m13.5 0h2.5m1 0h2m.5 0h1.5m1.5 0h1.5m.5 0h1.5m2.5 0h1.5m2 0h1.5m1 0h1.5m1 0h2m1 0h1.5m1.5 0h8m151 0h10.5m1 0h2m2 0h1.5m1 0h1.5m1.5 0h1.5m1 0h1.5m4 0h1.5m7 0h3M99.5 399h1.5m5 0h1.5m2.5 0h1.5m13.5 0h1.5m7.5 0h3.5m1 0h2m2.5 0h1.5m1.5 0h2m.5 0h4.5m1.5 0h8m150 0h11.5m1 0h3.5m.5 0h2.5m2 0h4m5 0h1.5m2.5 0h1.5m3 0h3M99.5 399.5h1.5m5 0h1.5m14.5 0h1.5m11 0h3m1 0h2m2.5 0h1.5m1.5 0h7m1.5 0h7m151 0h16m1.5 0h2.5m1 0h4m9 0h2M122 400h1.5m5 0h1.5m13.5 0h1.5m3 0h5.5m.5 0h1.5m.5 0h5.5m150.5 0h18m1 0h1.5m9 0h1.5m3 0h2.5m12 0h1.5M108 400.5h1.5m19 0h1.5m4 0h1.5m8 0h1.5m3.5 0h2.5m1 0h1.5m.5 0h1.5m.5 0h4.5m151 0h8.5m.5 0h4m1 0h4.5m1 0h4.5m6 0h1.5m3 0h1.5m13 0h1.5M108 401h1.5m13.5 0h1.5m9.5 0h1.5m5.5 0h1.5m5 0h2.5m1.5 0h3.5m1.5 0h3.5m150 0h14m.5 0h4m.5 0h1.5m.5 0h4.5m.5 0h2m2.5 0h1.5m5 0h1.5M86 401.5h1.5m30.5 0h1.5m3.5 0h1.5m9.5 0h1.5m2.5 0h1.5m.5 0h2.5m1.5 0h11m.5 0h4m150 0h14.5m.5 0h4m.5 0h1.5m5.5 0h2.5m2 0h1.5m5 0h1.5M86 402h1.5m26 0h1.5m3 0h1.5m9.5 0h1.5m4.5 0h1.5m1.5 0h1.5m.5 0h1.5m2.5 0h15.5m149 0h15.5m1.5 0h3.5m1.5 0h1.5m4 0h2.5M64.5 402.5h1.5m47.5 0h1.5m7 0h1.5m5.5 0h1.5m4.5 0h1.5m.5 0h1.5m3.5 0h3m.5 0h2.5m.5 0h2.5m1 0h7.5m149 0h14.5m.5 0h1.5m.5 0h3.5m1 0h3.5m1 0h1.5m17 0h1.5M64.5 403h1.5m53 0h1.5m1.5 0h1.5m13.5 0h1.5m.5 0h1.5m1.5 0h3m.5 0h2m1.5 0h2m.5 0h8m148 0h15.5m.5 0h1.5m.5 0h2.5m2 0h3.5m1 0h1.5m4.5 0h1.5m6 0h1.5m3.5 0h1.5M68 403.5h1.5m49.5 0h1.5m11 0h1.5m6 0h1.5m.5 0h17.5m149 0h16.5m7.5 0h2m7 0h1.5m6 0h1.5M68 404h1.5m46 0h1.5m8.5 0h1.5m4.5 0h1.5m1 0h1.5m1.5 0h1.5m2.5 0h1.5m1 0h6.5m.5 0h8m148 0h15m.5 0h2m7.5 0h2m23 0h1.5M102.5 404.5h1.5m11.5 0h1.5m8.5 0h1.5m7 0h1.5m1.5 0h1.5m5 0h14m149 0h17m.5 0h2m1 0h3m2 0h1.5m.5 0h1.5m21 0h1.5M102.5 405h1.5m27 0h1.5m7.5 0h1.5m2 0h2.5m1 0h10.5m148.5 0h11m1 0h5m1 0h2m1 0h3m4 0h1.5m29 0h1.5M124.5 405.5h1.5m5 0h2m7 0h1.5m.5 0h1.5m3.5 0h9.5m149.5 0h19m2 0h1.5m2 0h1.5m1.5 0h1.5m8 0h1.5m10.5 0h1.5m8 0h1.5M91.5 406h1.5m22 0h1.5m4.5 0h1.5m2 0h1.5m5.5 0h3m7.5 0h5.5m.5 0h8.5m147 0h21.5m2 0h2m1.5 0h1.5m1.5 0h1.5m8 0h1.5m1 0h1.5m8 0h1.5M90 406.5h3m16.5 0h1.5m1 0h1.5m1.5 0h1.5m4.5 0h1.5m.5 0h1.5m8.5 0h1.5m2 0h1.5m4.5 0h12.5m148.5 0h4m.5 0h11m.5 0h6.5m1.5 0h2m1 0h1.5m13.5 0h1.5m13 0h1.5M90 407h1.5m18 0h1.5m1 0h1.5m2.5 0h1.5m5.5 0h1.5m12 0h1.5m1 0h1.5m2 0h12.5m148 0h15m1 0h2.5m.5 0h4m1.5 0h2m3.5 0h2.5m24.5 0h1.5M109.5 407.5h1.5m5 0h1.5m16 0h1.5m1.5 0h4m.5 0h3m1 0h9.5m148 0h16m.5 0h2.5m2 0h2.5m.5 0h1.5m.5 0h1.5m3 0h2.5M109.5 408h1.5m.5 0h1.5m.5 0h1.5m3 0h1.5m3 0h3m5 0h1.5m.5 0h3.5m.5 0h3m1.5 0h4.5m.5 0h5m1 0h2.5m147 0h14.5m.5 0h2m.5 0h6.5m1 0h1.5m.5 0h1.5m.5 0h3m.5 0h1.5M111.5 408.5h1.5m.5 0h1.5m3 0h1.5m3 0h3m5 0h1.5m.5 0h1.5m.5 0h1.5m5 0h7.5m.5 0h2.5m150 0h14m.5 0h2.5m.5 0h1.5m.5 0h3m1 0h1.5m4 0h3M113.5 409h1.5m8 0h1.5m10 0h1.5m2 0h14.5m148 0h20m1 0h2.5m1 0h1.5m3.5 0h2.5m10.5 0h1.5M120.5 409.5h2m3 0h1.5m3.5 0h1.5m2.5 0h1.5m2 0h3m1 0h4m.5 0h6m148 0h9m1 0h6m1.5 0h5.5m6.5 0h2.5m10.5 0h1.5M87.5 410h1.5m7 0h1.5m16 0h1.5m5.5 0h2m3 0h1.5m1 0h1.5m1 0h1.5m2.5 0h9.5m.5 0h8m146.5 0h13.5m1 0h3m2 0h3m.5 0h1.5m5.5 0h1.5m7.5 0h1.5M87.5 410.5h1.5m7 0h1.5m16 0h1.5m13 0h1.5m4 0h10m1 0h7m147 0h18m.5 0h2.5m1.5 0h2.5m5.5 0h1.5m7.5 0h1.5M88 411h1.5m21 0h1.5m2 0h1.5m8.5 0h1.5m3 0h1.5m3.5 0h3m1 0h3m1 0h10m146 0h12m2.5 0h3.5m.5 0h3.5m1.5 0h2.5M88 411.5h1.5m3.5 0h1.5m16 0h1.5m2 0h1.5m8.5 0h2.5m2 0h1.5m5 0h1.5m1 0h3m.5 0h9.5m147 0h13m1.5 0h7m3.5 0h1.5m3 0h1.5m18 0h1.5M93 412h1.5m30 0h2m8.5 0h2m1 0h1.5m1.5 0h9.5m146 0h22.5m2.5 0h2.5m3 0h1.5m1 0h1.5m15.5 0h1.5M124.5 412.5h3m3.5 0h1.5m1 0h3.5m1 0h1.5m.5 0h2.5m.5 0h7.5m146 0h11.5m.5 0h4.5m.5 0h2m1 0h2m.5 0h4m.5 0h3m.5 0h1.5m1 0h1.5m6.5 0h1.5M124.5 413h3m1.5 0h1.5m.5 0h1.5m1 0h2m2.5 0h12.5m145 0h17.5m.5 0h5m.5 0h2.5m2 0h3m.5 0h1.5m9 0h1.5M111 413.5h1.5m4.5 0h1.5m4.5 0h3m3 0h1.5m3.5 0h1.5m1 0h8.5m.5 0h4m146 0h3.5m.5 0h13.5m1.5 0h5m2 0h1.5M111 414h1.5m4.5 0h2.5m1 0h1.5m1 0h2m9 0h15.5m144 0h15m.5 0h3.5m5 0h3.5m.5 0h2m9.5 0h1.5M118 414.5h1.5m1 0h1.5m13.5 0h4m1 0h1.5m.5 0h6m145 0h8m.5 0h5.5m.5 0h4.5m5 0h3.5m.5 0h2m9.5 0h1.5M114.5 415h1.5m.5 0h1.5m3 0h1.5m3 0h2.5m4 0h1.5m2.5 0h1.5m.5 0h1.5m1 0h1.5m.5 0h6m144.5 0h8.5m.5 0h5.5m.5 0h4.5m.5 0h3m1.5 0h2.5m14 0h1.5M114 415.5h2m.5 0h1.5m3 0h1.5m.5 0h1.5m1 0h3m1.5 0h3.5m2 0h11.5m146 0h14.5m1.5 0h3.5m.5 0h3m8 0h1.5m8.5 0h1.5M103.5 416h1.5m9 0h1.5m5.5 0h3.5m2 0h2m1.5 0h2m1.5 0h13.5m144.5 0h16.5m1 0h3.5m11.5 0h1.5m21.5 0h1.5M81.5 416.5h1.5m20.5 0h1.5m16 0h2.5m10 0h2.5m1 0h9m145.5 0h19m.5 0h1.5m5.5 0h1.5m23 0h1.5m3 0h1.5M81.5 417h1.5m5.5 0h1.5m3 0h1.5m3 0h1.5m12.5 0h1.5m12 0h1.5m3 0h1.5m1.5 0h13.5m144.5 0h14.5m.5 0h5m1 0h4m2 0h2m3.5 0h1.5m18 0h1.5M88.5 417.5h1.5m3 0h1.5m3 0h2m12 0h2.5m11 0h1.5m3 0h1.5m1 0h13.5m145 0h8m.5 0h9m1 0h6.5m2 0h1.5m4 0h1.5m.5 0h1.5m25 0h1.5m13.5 0h1.5M98 418h1.5m9.5 0h1.5m2 0h1.5m6.5 0h3m1 0h1.5m2 0h1.5m1 0h3m1.5 0h10m143.5 0h19m2 0h4m4 0h1.5m6 0h1.5m25 0h1.5m13.5 0h1.5M109 418.5h1.5m10 0h3m1 0h1.5m2 0h2m.5 0h2.5m3 0h8.5m144 0h14.5m.5 0h2m.5 0h2m3 0h2m.5 0h1.5m5.5 0h1.5M113 419h1.5m5 0h1.5m7.5 0h1.5m1.5 0h1.5m1 0h10.5m143.5 0h23m.5 0h1.5m.5 0h1.5m5 0h2M113 419.5h1.5m5 0h4m2 0h1.5m4 0h12.5m144 0h7.5m.5 0h15.5m.5 0h2m6.5 0h1.5M115.5 420h1.5m2.5 0h4m2 0h1.5m4 0h12.5m144 0h18m.5 0h2m.5 0h5M86.5 420.5h1.5m27 0h2.5m2.5 0h1.5m9.5 0h11.5m144 0h13m.5 0h12M86.5 421h1.5m8.5 0h1.5m17 0h3.5m7 0h1.5m1 0h4.5m1 0h8m145 0h13m.5 0h6m1.5 0h2m2 0h1.5m1 0h1.5M96.5 421.5h1.5m12.5 0h1.5m1.5 0h1.5m2 0h3m2.5 0h1.5m1.5 0h1.5m1 0h3m.5 0h3.5m1 0h5m144.5 0h14m.5 0h3.5m.5 0h1.5m2 0h5.5m1 0h1.5m1 0h1.5m2.5 0h1.5M70.5 422h1.5m29.5 0h1.5m7 0h2m1.5 0h1.5m3 0h2m2.5 0h1.5m4 0h1.5m1.5 0h10m142.5 0h16m.5 0h3.5m.5 0h7.5m5 0h1.5m2.5 0h1.5m24.5 0h1.5M70.5 422.5h1.5m28.5 0h2.5m6 0h2.5m8.5 0h1.5m9 0h10m143 0h16m.5 0h8m2 0h2m1 0h2m2 0h1.5m14 0h1.5m12.5 0h1.5M84 423h1.5m14.5 0h2m7 0h2.5m.5 0h1.5m3 0h1.5m2 0h1.5m5 0h1.5m2 0h10.5m142.5 0h19m1.5 0h5.5m1.5 0h1.5m1 0h2m2 0h1.5m14 0h1.5M84 423.5h1.5m14.5 0h1.5m7 0h3m.5 0h1.5m3 0h3m6.5 0h2m1 0h2.5m.5 0h8.5m142.5 0h14m1.5 0h2.5m1.5 0h1.5m3 0h2M99 424h1.5m8 0h3m6 0h2m2 0h2.5m2 0h4.5m.5 0h9.5m141 0h16.5m.5 0h5.5m1 0h1.5M99 424.5h1.5m5.5 0h1.5m4.5 0h1.5m4 0h1.5m2.5 0h2.5m2.5 0h3m1.5 0h3m.5 0h5m142 0h13m1 0h2.5m2.5 0h3m1.5 0h1.5m13.5 0h1.5M106 425h1.5m4.5 0h1.5m3 0h1.5m2 0h1.5m1 0h1.5m2.5 0h3m1 0h9m141 0h13.5m1.5 0h1.5m.5 0h1.5m2.5 0h2.5m.5 0h1.5m14 0h1.5M91 425.5h1.5m3 0h1.5m4 0h1.5m8 0h3.5m2.5 0h1.5m2 0h1.5m1 0h1.5m1.5 0h13m142 0h8.5m.5 0h5.5m.5 0h3.5m2.5 0h2.5m.5 0h1.5m2.5 0h1.5M91 426h1.5m3 0h1.5m1 0h1.5m1 0h2m8 0h1.5m.5 0h4m.5 0h1.5m1 0h1.5m1.5 0h15.5m142 0h12.5m.5 0h9.5m3 0h1.5m1.5 0h1.5M98 426.5h1.5m1 0h1.5m12 0h2.5m.5 0h1.5m1 0h1.5m1.5 0h8.5m.5 0h5.5m141.5 0h13.5m.5 0h3m2 0h5m3 0h1.5m2 0h3M86.5 427h1.5m6.5 0h1.5m10 0h1.5m5.5 0h1.5m3.5 0h2m5 0h12m141 0h9.5m1 0h3.5m.5 0h9m7.5 0h3m2 0h1.5m1 0h1.5m8 0h1.5M85 427.5h3m6.5 0h1.5m6 0h1.5m2.5 0h1.5m2.5 0h1.5m1 0h3m2 0h2.5m4.5 0h3m1 0h8m141 0h13.5m.5 0h1.5m.5 0h1.5m.5 0h3m1 0h2m1 0h2m9.5 0h1.5m1 0h1.5m8 0h1.5M85 428h1.5m15.5 0h1.5m6.5 0h5.5m2 0h2m1.5 0h2.5m1 0h2.5m1 0h8.5m140 0h8.5m.5 0h11.5m2.5 0h5.5m5.5 0h1.5m13.5 0h1.5M111.5 428.5h1.5m3 0h1.5m.5 0h1.5m1.5 0h2.5m.5 0h3m.5 0h8m141 0h20.5m1.5 0h1.5m1 0h1.5m1 0h1.5m4.5 0h3.5m6 0h1.5m5 0h1.5M86.5 429h1.5m20.5 0h1.5m5 0h2.5m.5 0h1.5m1 0h3m.5 0h3m.5 0h8m139.5 0h6m.5 0h2m.5 0h6.5m.5 0h1.5m.5 0h4m1.5 0h3m2 0h1.5m2.5 0h3.5m.5 0h1.5m1 0h1.5m3.5 0h1.5M86.5 429.5h1.5m5.5 0h1.5m1 0h1.5m11 0h1.5m5 0h1.5m2.5 0h4.5m1 0h10m140 0h13.5m1 0h3.5m1.5 0h1.5m1 0h5m2 0h1.5m2.5 0h3m.5 0h1.5m1.5 0h1.5M93.5 430h1.5m1 0h1.5m1.5 0h1.5m6 0h1.5m2 0h1.5m7.5 0h1.5m1 0h1.5m1.5 0h10m139.5 0h10.5m2 0h14.5m.5 0h1.5m3.5 0h1.5m3 0h1.5m2.5 0h1.5M92.5 430.5h1.5m5 0h1.5m1.5 0h1.5m3 0h1.5m2 0h1.5m2.5 0h1.5m2.5 0h2m.5 0h2.5m2 0h8.5m140 0h12.5m.5 0h3.5m1 0h7m3.5 0h1.5m3.5 0h1.5m1 0h1.5m4.5 0h1.5M92.5 431h2m.5 0h1.5m5.5 0h1.5m1 0h1.5m7.5 0h8.5m1 0h10.5m139 0h9.5m2 0h2m.5 0h4m2 0h5m1 0h1.5m8 0h2.5m2 0h1.5M93 431.5h1.5m.5 0h1.5m.5 0h1.5m6 0h1.5m2 0h1.5m2.5 0h9.5m.5 0h10.5m140 0h18m2 0h4m2 0h1.5m8 0h1.5m3 0h1.5M97 432h2m5 0h2.5m.5 0h2.5m2 0h3m1.5 0h2m.5 0h2.5m1 0h10.5m138 0h17m1 0h2m4 0h2m3 0h1.5m8 0h1.5M97.5 432.5h1.5m1.5 0h1.5m2 0h5m2.5 0h2.5m2 0h2.5m1 0h1.5m.5 0h10m139 0h6.5m1 0h9.5m1 0h1.5m1 0h1.5m2 0h2m3 0h1.5m8 0h1.5M70.5 433h1.5m16.5 0h1.5m4.5 0h1.5m4.5 0h1.5m4.5 0h2m2 0h1.5m.5 0h6.5m.5 0h1.5m.5 0h10m138 0h18m3 0h2m1.5 0h3.5M70.5 433.5h1.5m16.5 0h1.5m4.5 0h1.5m4.5 0h2m4.5 0h1.5m2 0h20m139 0h6.5m.5 0h9.5m4.5 0h1.5m2 0h4m2 0h1.5M101 434h1.5m1 0h1.5m1 0h3.5m1 0h12m.5 0h7.5m138 0h17.5m6 0h1.5m.5 0h4m2 0h1.5m4.5 0h1.5m45.5 0h1.5M103.5 434.5h1.5m1 0h6m1.5 0h2m.5 0h1.5m1 0h11m139 0h15.5m3 0h1.5m.5 0h1.5m1 0h2m12.5 0h1.5m45.5 0h1.5M86 435h1.5m2.5 0h1.5m15.5 0h4m2.5 0h1.5m.5 0h14m137 0h15m3 0h4m.5 0h1.5m1 0h2m2.5 0h3m.5 0h1.5m3.5 0h1.5M76 435.5h1.5m1.5 0h1.5m5.5 0h1.5m2.5 0h1.5m2 0h1.5m7 0h2.5m.5 0h5m3 0h1.5m1 0h1.5m.5 0h11m138 0h14.5m1.5 0h6m.5 0h1.5m1.5 0h1.5m2.5 0h3m.5 0h1.5m3.5 0h1.5M76 436h1.5m1.5 0h1.5m13 0h1.5m7 0h8.5m2.5 0h1.5m3 0h1.5m1 0h8.5m137.5 0h20.5m2.5 0h1.5m1 0h3m8.5 0h2.5M95.5 436.5h1.5m5 0h1.5m.5 0h8.5m.5 0h3.5m.5 0h1.5m.5 0h8m138.5 0h4m.5 0h9m.5 0h3.5m1 0h2m2.5 0h2m1 0h3m8.5 0h2.5M74 437h1.5m19 0h3m4.5 0h1.5m2 0h3m1 0h4m.5 0h13m137.5 0h18.5m1.5 0h1.5m2.5 0h1.5M74 437.5h1.5m2 0h1.5m3 0h1.5m10.5 0h5m.5 0h2m.5 0h1.5m3.5 0h2.5m1.5 0h2.5m1 0h12m138 0h18.5m1 0h1.5m6 0h2m3 0h1.5M77.5 438h1.5m3 0h1.5m1.5 0h1.5m7.5 0h1.5m2 0h4m5.5 0h3.5m3.5 0h3m1.5 0h8m136 0h17.5m1 0h5.5m5 0h2.5m2.5 0h1.5M85 438.5h1.5m7.5 0h1.5m3 0h1.5m2 0h1.5m1.5 0h1.5m.5 0h3.5m1.5 0h1.5m.5 0h3m.5 0h7.5m137.5 0h14.5m.5 0h2m1.5 0h3m1 0h2.5m5 0h2.5m.5 0h1.5M88.5 439h1.5m4 0h3m3 0h1.5m.5 0h1.5m1.5 0h3m1 0h2m.5 0h2.5m1 0h2m.5 0h7m138 0h16.5m.5 0h4m.5 0h1.5m.5 0h1.5m1.5 0h3.5m1 0h1.5m.5 0h1.5m10 0h1.5M83 439.5h1.5m4 0h2.5m2.5 0h1.5m.5 0h1.5m3 0h1.5m3.5 0h3m1 0h7.5m.5 0h7.5m137 0h15m.5 0h6m1 0h2.5m2.5 0h3.5m12.5 0h1.5m.5 0h1.5M83 440h1.5m5 0h1.5m2.5 0h1.5m.5 0h2m12 0h2.5m.5 0h12m135 0h16m.5 0h7m2 0h1.5m.5 0h1.5m2.5 0h1.5m2.5 0h1.5m8.5 0h1.5M80 440.5h1.5m14.5 0h1.5m2.5 0h1.5m1 0h2m1 0h2m1.5 0h3m.5 0h5.5m1.5 0h4m136 0h16m.5 0h2.5m1 0h2.5m1 0h1.5m2.5 0h3m1 0h1.5m2.5 0h1.5m19.5 0h1.5" stroke="#00008f" stroke-width="1" fill="none" transform="translate(0 0.25)"/>
<path d="M499 125.5l12.5-.8l22-.1l16 .4l11 1.1l7 1.7l3.1 1.7l1.8 3l.2 3l-.3 3l-2.4 8l-4.1 10l-11.8 23l-8.3 13l-17.5 23l-20.7 20.9l-68.7 62.1l-47.3 44.7l-8 7.1l-99 79.9l-12.2 9.3l-3.5 1l-9.3 .6l-48 1.1l-65-.2l-20-.7l-8-.8l-.5-1l15.5-14.9l39.4-43.1l28.6-29.9l26-24.6l26-22.9l27.1-21.6l73.9-61.6l11-8.1l24-16.3l9.4-7l35.6-32.3l17-14.3l10-6.1l14-5.9l13-3.9l10.5-1.5z" fill="#00008f"/>
<path d="M523.6 126.5l6.9-.1l13 .9l9 1.6l4 1.2l2.5 1.4l2.5 2l.3 1l0 2l1 3l-3 10l-4.6 7l-1.3 4l-4.1 5l-1.7 4l-7.4 10l-2.4 4l-5.8 6.3l-1.1 2.7l-7.9 7.4l-1 2.6l-5.8 6l-1.8 1l-2 3l-4.4 4.4l-3 1.4l-1.2 2.2l-3.3 2l-2.2 3l-2.3 1.1l-5 4.4l-1.4 2.5l-2.6 2.6l-7 5.1l-3 1.6l-3 3.9l-3.2 1.8l-3.8 4.4l-5 4.1l-2 3.3l-11 8.7l-12 11.6l-5 3.9l-4 5.6l-3 1.5l-3 3.1l-2.7 1.8l-1.2 2l-3.1 2l-6.6 7l-2.7 1l-1.8 2l-3 2l-1.9 2.9l-2.2 1.1l-1.8 2.7l-2.4 1.3l-1.5 2l-9.1 7.5l-2 2.2l-3.3 1.3l-2.2 3l-6.5 4.2l-2.9 3.8l-3.9 1l-2.2 3.3l-3.6 .7l-1.4 2.2l-6 4.6l-1 2.2l-4.8 2l-1.8 3l-3.8 4l-2.6 .9l-3 2.3l-3.7 1.8l-1.3 2.4l-3.3 1.6l-4.7 5.4l-2.6 1.6l-1.4 2l-8 4.3l-4.6 5.7l-2.4 .8l-1 1.2l-2 1l-5 5.4l-2 1.5l-3 1.1l-2 2.7l-4 1.2l-2 3.2l-3 .7l-2 2.3l-5 2.7l-2.4 3.2l-4.6 3.9l-6 3.1l-5.7 6l-6.7 4l-13.6 1.3l-44 .4l-41-.5l-5.3-.2l-3.5-1l1.1-2l2.7-1.8l4-4l2.1-3.2l2.9-1.9l1.6-4.1l2.4-1.4l3-4.3l4-2.3l5-8.1l5.8-6.9l3.7-2l5.5-6.5l1.5-2.5l9.5-10.2l2.4-1.8l2.6-3.8l7.4-6.2l4.6-6l4-3.8l3.1-2.2l4.9-5.8l6.9-5.2l2.5-4l3.6-2.2l3-3.6l2-1l2-3l4.5-2.2l1.5-2.7l12-10.3l3-3.7l20-15.3l4-4.5l6-4l3-3.6l4-2.4l2-2.5l17-14.8l3-1.4l7.6-7.8l2.4-1.3l4-3.7l5.9-4l7.1-7.4l3-1.8l12.9-10.8l5.4-3l2.5-3l14.1-10l3.1-3.2l10-6.7l11-10.2l3.8-2.9l8.2-8.4l14-12.8l11-8.8l2.5-3l11.5-8.6l8.9-5.4l17.1-7.8l8-2.6l10-1.8l20.1-.8z" fill="#000097"/>
<path d="M510.9 128.5l14.6-.8l15 .9l9 1.9l4 2.2l3.5 3.8l.7 4l-1.2 3l-.6 3l-3.8 5l-.7 4l-2.9 2l-3.7 7l-5.3 6.9l-2.3 4.1l-3.7 3l-1.8 4l-2.2 2.5l-2 3.6l-10 8.6l-2 3.7l-4.7 3.6l-5.6 6l-2.9 2l-2.4 3l-4.6 3l-3.4 5l-4.4 2.8l-7 6.6l-3 1l-2 2.8l-2 .9l-1 1.1l-2.6 3.8l-5.4 4.1l-3 3.5l-2 3.4l-9 6.9l-2.6 3.1l-4 3l-2.4 2.6l-1.9 3.4l-3.1 1.6l-5.9 5.4l-2.1 1.1l-3 3.7l-12.9 10.2l-3.5 4l-2.6 1.2l-.9 .8l-.5 2l-1.6 1.7l-2 .4l-2 1.1l-2.7 3.8l-4.3 1.9l-1.2 1.1l-1.6 3l-1.2 .9l-2 .9l-2.7 .2l-.8 3l-1.5 1.8l-2 .6l-3.9 2.6l-2.4 3l-3.7 1l-.7 2l-1.6 1l-1.4 2l-4.3 2l-4 2.8l-2 3.1l-3 .6l-6 5.5l-4 1.8l-4 5.4l-2 1.3l-4 1.4l-2.4 2.1l-1.6 2.8l-1 .6l-1-.3l-2.2 2.9l-3.8 2.4l-1 1.9l-6 3.6l-1.6 2.1l-3.2 2l-4.2 4.6l-4 2.1l-4 5l-2.1 .3l-3.9 2.2l-3 3l-4.3 2.8l-2.7 3l-3 1.4l-1.2 1.6l-2.8 1.1l-8 6.1l-7.5 3.8l-.4 3l-1.1 1.3l-4 .4l-3 3.7l-4 .3l-3 3.3l-3 2.3l-1.6 2.7l-3 1l-3.4 3.8l-3 .1l-2.8 2.1l-11.2 1l-54 .1l-9.5-1.1l.1-1l3.4-3l-.3-5l2.5-2l3.8-4.5l3-.6l.8-.9l.3-2l3-3l1.1-2l-.3-3l5.1-4.6l2-.5l2.6-1.9l2.6-6l2.8-2.6l2.3-3.4l4.7-4.3l2-4l4-2.1l3-3.7l2-3.7l3-2.2l2.4-3l3-2l7.6-9.6l7-4.9l3-4.5l9.2-8l3-4l.8-.6l2-.3l1.2-3.1l2.8-1.9l6-6l5-3.5l3-3.8l2-.5l4-4.4l3.2-1.9l1.5-2l2.7-2l2.6-3.6l7.9-6.4l3.1-1.5l7-7.2l4-2.6l3-3.6l6-4.5l2.1-2.6l2.9-1.4l3-3.6l8-6l5-4.5l3-1.8l2.1-2.7l4.9-3.6l1.6-2.4l7.1-5l2.3-2.9l2-.9l2-2.7l4.2-3.5l6.8-5l3-1.6l2-2.3l11-8.1l2.9-3l5-3l2.1-2.9l9.1-7.1l9.2-9l3.7-2.4l2-2.6l9.3-8l1.7-2.3l9-7.1l15.7-14.6l5.1-3l11.2-8.6l10-5.7l9-4.2l9-3.3l9-1.9l7.4-.3z" fill="#0000a7"/>
<path d="M511.5 129.5l18-.7l11 1.1l4 1.1l3 1.8l2 .6l2.7 2.1l.7 9l-5.5 10l-5.9 7l-1.4 4l-3.9 4l-2.6 5l-7.4 7l-6.6 10l-4.1 2.7l-5 4.9l-1.4 2.4l-3.6 3.3l-4.9 2.7l-2.6 4l-3 2l-1.5 1.9l-2 0l-2 1.5l-2.8 4.6l-3.8 3l-1.7 2l-5.7 4.1l-1.6 2.9l-2.4 1.1l-3 4.4l-2.3 .5l-1.7 2.7l-3.3 .3l-.7 1l-.4 3l-1.6 2l-3 2.7l-2.5 1.3l-2 3l-2.4 2l-2.1 2.9l-5 2.9l-10 10.6l-3 1.1l-4.7 5.5l-2.3 .9l-3 2.8l-3 1.7l-2 4.6l-1 .8l-2 .2l-6.2 6l-3.8 2l-5 5.7l-3-.3l-3.9 4.6l-2.1 1.2l-2 2.2l-1 .6l-2-.6l-1 .4l-1 3.6l-1 .9l-3 .8l-2.7 3.9l-8.3 7l-3.5 1l-5.5 4.4l-2.9 3.6l-3.1 2.2l-2 .6l-2 2.6l-4 1l-6 4.9l-2 2.6l-1.9 1.1l-2.1 3.4l-3 .2l-4 2.9l-4 3.8l-1 3.4l-3 .6l-4.8 2.7l-1.2 2l-2.9 1l-.8 1l-.2 2l-1.1 1.1l-2 .3l-2.2-.4l-4.4 6l-4.4 4.3l-1 .7l-3 0l-1 .8l-1 3.8l-4 .7l-5 2.6l-.6 2.1l-1.4 .3l-5 3.7l-5 4.5l-2 .6l-7 4.5l-2-.3l-1 .6l-.6 2.1l1.5 1l0 1l-1.9 .2l-1-1.5l-2 .1l-.2 1.2l1.2 1l-1 .9l-3-.2l-3.1 2.3l-.9 1.4l-8 4l-2 2.3l-4 .5l-1 .7l-.7 1.1l-.5 3l-.8 .6l-2 .2l-3-.5l-2.1 .7l-2.9 2.6l-5-1.5l-.4 .9l1.4 2l-.5 1l-3.1 0l-1.4-.7l-4 1.2l-9-.4l-6 .8l-6-.9l-5 .4l-1.9-.4l-1-1l-1.4-5l-2.7-3l2-1.9l-.1-1.1l.6-1l.8 0l1.7 2.4l1.4-.4l2.1-4l-.5-.6l-2-.6l-.7-1.8l.7-.6l4-.4l1-.8l.1-3.2l.5-1l3.9-2l.4-2l-.8-2l1-3l2.9-1.8l2.8-4.2l3.2-.3l1-.6l.2-1.1l-1.2-3l1-1.9l1-.5l2 .6l2.8-6.2l3.3-2l.4-2l3.4-1l.3-1l2.8-1.5l1.6-4.5l4.3-5l1.6-4l1.5-1.2l3-.7l3-4.3l2.7-1.8l.8-2l2.9-4l4.2-2l.2-2l.6-1l4.6-3.9l6.5-7.1l5.5-2.6l1-3.4l1-1.4l5.3-3.6l2.4-3l3.5-2l1.5-2l9.1-8l2.2-2.8l2-1.2l2-2.3l4-1.2l1.4-3.5l3.2-2l2.4-2.6l2.8-1.4l3.2-4l2-1.2l5-5.5l8.7-7.3l1.3-2.2l3-1.8l5-4.4l3-1.3l2-3.3l4.8-3l2.2-2.8l7-5.7l2-2.5l7-5.2l3-3.3l6-3.5l2-2.3l5-3.1l5.9-6.6l10.1-8.3l6-3.7l5-5.5l8.2-6.5l6.8-7l3.5-2l2.2-3l16.8-15l2.5-1.1l2-2.7l6.7-6.2l10.2-8l4.1-2.3l3-3.7l9-5.1l6-4.2l10-5.1l9-3.2l9-1.8l7-.6zM176.5 433.9l-.7 .6l.7 1.1l.4-1.1l-.4-.6zM169.4 438.5l.5 0l-.5 0z" fill="#0000b7"/>
<path d="M511.3 130.5l2.2-.5l12-.5l15 1.5l4 2l5.1 3.5l.5 1l-.2 6l-5.6 11l-2 2l-3.8 6.2l-1.7 1.8l-1.3 2.8l-2.6 2.2l-1.2 3l-1.5 2l-6.2 6l-4.5 6.2l-1.9 1.8l-1 2l-3.1 .8l-3 3.9l-3.1 1.3l-1 1l-.9 3l-.9 1l-6.9 5l-4.2 5.1l-3 1.2l-4 3l-2 4.1l-3 .6l-2 3.2l-4 4.3l-8 7.8l-2 .7l-5 4.2l-2.3 2.8l-.7 2.1l-6 4.7l-2.2 3.2l-13.8 12l-2 2.9l-4.7 3.1l-3.3 4.2l-8 5.5l-3 3.1l-2 1.1l-.9 3.1l-2.1 .6l-2 1.7l-3.2 1.7l-2.3 3l-4.1 2l-2.4 3.5l-3 .4l-3.3 4.1l-5.7 4.9l-3 .2l-1 .7l-3.6 4.2l-2.4 1.6l-2 3.5l-2.3 .9l-1.7 1.7l-6 1.9l-1.8 3.4l-4.2 .7l-4 5.5l-7 3.6l-2 3.1l-3 .7l-2 2.8l-2-.1l-3 2.6l-1.3 2.1l-2.7 1.7l-1 1.7l-3.5 1.6l-2.8 3l-6.7 2.9l-.9 3.1l-1.1 1.5l-6 2.6l-4 4.4l-3 1.2l-1.4 1.3l-2.6 3.3l-4.8 1.7l-3.8 6l-3.4 .1l-1.5 3.9l-4.5 .3l-4 3.8l-2 .5l-1-.3l-2 3.3l-3-1l-.7 .4l-.6 3l-.7 .9l-3 .9l-4.3 2.2l-.9 1l-.2 2l-1.4 2l-3.2-.9l-1.9 1.9l-.1 2l-2 .4l-1.7-.4l-.1-2l-1.2-1.1l-1.1 2.1l1.3 2l-2.2 3.7l-5-1.6l-2 1.4l-3 0l-.4 .5l.6 3l-1.1 1l-1.6 0l-.5 .8l.1 2.2l-1.1 .7l-3-1.2l-3 .3l-1 .5l-3-.2l-2 .6l-4-.8l-3 1.9l-3-.6l-2-3.7l-2-.2l-2 2.6l-1.9-1.9l-.9-1l0-1l2.2-3l-1.1-5l.7-1l2-.7l3-.3l-.2-1l-.8-.5l-3.4-1.5l.4-.7l2 0l.7-1.3l-1.7-3l4.3-2l-.4-1l-2.9-1.3l-.4-.7l.4-1.4l2-1.2l2-3l1 .7l2-.2l3 1.8l1-2.7l-1-2.7l-1.2-1.3l.2-2.1l1-.4l3 .9l1.5-.4l-.3-3l1.1-3l-.3-1l2.6-1l0-3l2.9-4l2.3-2l2.2-.4l.7-1.6l1.9-2l.2-2l2.2-.9l2-2.6l2 .3l1.7-.8l-.3-3l2.9-3l1.4-3l2.3-1l2-1.9l4-5.2l2 .5l.6-3.4l3.4-2l.6-3l1.4-1.6l4-1.5l2.7-2.9l1.1-2l2.4-1l4-3l3.8-4.9l3-1.1l1-3.5l1-1.1l2 1.1l2-1.1l1.8-3.4l3.2-2l1-3.2l3-1.5l.6-2.3l4.4-2.7l2-2.5l4-1.7l1.1-2.1l2.7-2l3.2-4.7l3-.8l3-2.9l1.3-2.6l5.8-4l1.1-2l3.4-2l2.4-3.3l4.5-2.7l2.4-3l7.1-6.7l4-2.1l8.9-9.2l4.5-3l1.9-2l3-1l3.7-4.5l2-1.2l1.8-2.3l2.2-1.4l5-4.9l9.8-6.7l2.2-3l11-9.7l1-1.5l5-4.6l3.6-2.2l2.4-3l7-6.4l5.2-3.6l3.8-4.2l3-1.5l9-9.2l2.4-1.1l7.6-7.1l4-2.3l3-3.8l9.3-4.8l5.7-4.5l10-5.1l9-3.2l14.8-2.2zM194.5 416.5l0 .5l0-.5zM193.1 419.5l.4-.6l.6 .6l-.6 .4l-.4-.4zM199 425.5l.5-.7l1-.1l2 1.6l4.8 1.2l-1.8 3l-2.7 0l-3.6-4l-.2-1zM191.5 428.5l1-1l1 0l1.1 1l-2.1 3.1l-1-1.1l0-2zM184.8 430.5l.7-.5l1.5 1.5l-.5 .5l-1-.2l-.7-1.3zM214.1 430.5l.5 0l-.5 0z" fill="#0000c7"/>
<path d="M522.4 130.5l6.1-.1l11 1.4l3.4 1.7l5.1 4l.3 3l-1.6 2l-1.1 4l-2.5 5l-.3 2l-2.7 3l-2 4l-3.7 3l-2.1 4l-3.1 3l-1.4 4l-3.3 2.1l-2 3.1l-3.7 2.8l-1.3 3.4l-3 1.4l-1 1.9l-2.1 1.3l-2.6 3l-5.3 2.7l-1 4.4l-5 3.8l-3 1.4l-1 1.1l-1 2.7l-4 1.7l-5 5.3l-2.9 1.9l-2.1 3.6l-3.7 2.4l-2 3l-3.3 1l-1 2.8l-3.2 3.2l-2.8 1.8l-6 6.7l-2 1.5l-2 2.7l-2.5 1.3l-2.4 4l-2.1 2l-2 1.1l-1.1 1.9l-2.9 2.6l-2.6 1.4l-1.1 2l-4.3 3.9l-5 2.5l-3.5 5.6l-3.5 1.2l-5 5.4l-3.4 1.4l-1.6 3.3l-3 2.2l-3 1.2l-5 5.3l-6 2.9l-4.7 5.1l-1 2l-4.3 2.4l-3 .7l-2 2.1l-3 .9l-6.8 4.9l-8.2 7.6l-4 1.7l-4 3.4l-4 1.9l-4 3.5l-2 3l-3 .4l-2 2.4l-3 1.1l-1 3l-2 2.1l-1 .7l-2 .2l-3 3.1l-2.6 .9l-2.9 2l0 2l-.6 1l-1.9 .8l-3-.1l-1 .7l-1 2.3l-1 .5l-2.2-.2l-2.8 4.4l-5 1l0 2.6l-3 3.1l-4 2l-2 2.7l-1 .2l-3-1.8l.4 2.8l-.4 1.1l-1 .5l-3-.4l-2 1.4l-1.4 2.4l-.6 3.2l-1 .4l-.9-.6l-.9-2l-.5 0l-1.7 2l-.3 2l-4.7 2.9l-3-.7l-1.1 .8l-.4 2l-1.5 1.6l-3-.1l-2 1.2l-2-.2l-.8 .5l-2.2 2.8l-5 2l-4 5.1l-3-.5l-1.4 .6l.6 3l-1.2 1.5l-5 .9l-5-1l-2 2.6l-2-.4l-2-1.4l-2.3 .8l-.6-1l.3-1l-.4-1.5l-3-1.1l-.4-2.4l.4-2l-2.8-2l.6-2l1.2-1.1l3-.3l.8-.6l-.5-4l-2.3-3l.2-2l.8-1.4l2.2-1.6l-2.2-2l-.3-1l.5-1l5.3-4l2.2-4l5.2-3l-1.4-3l5.5-2.5l.2-.5l-1.6-2l0-1l3.4-.7l1.5-1.3l.9-1l-.4-2l1-.5l1 .2l2 1.9l1-.3l0-2.2l-1-.1l-.8-1l.8-.5l1 1.3l1.6-.8l.8-6l1.6-2.7l1-.9l3 0l2-3.9l2-.3l3-2.1l2-2.5l.8-3.6l2.4-3l1.8-1.2l3-.1l2-3.3l3.4-2.4l.8-3l.8-.6l2 .1l3-3.6l2.5 .1l2.5-4.3l1-1l2.1-.7l2-3l5.1-4l1.2-3l3.6-4.5l4-1.1l2-2.8l4.2-3.6l1.8-2.5l4-2.8l2.3-.7l0-2l1.1-2l3.6-1.8l4-3.6l2-1.1l2-2.9l3-1.9l2.6-.7l1.4-4l6.8-7l3.2-1.2l2.3-2.8l2.7-1.8l3-3.5l5.2-4.7l5.8-4l4-4l5-3.6l2.6-3.4l3.4-1.9l1.4-2.1l4.6-3.6l3-1.6l3.1-3.8l4.9-4.1l2-2.7l4-2.7l1.4-2.5l1.6-1.5l3-1.9l4.2-3.6l7.8-8l8.1-5l1.9-3.3l6.5-4.7l2.5-3l6-4.6l2-2.6l3-1.8l2.9-3l3.1-1.9l3-3.3l9-5.1l4-3.3l4-1.8l2-1.6l5-2.6l8-3l18-3.2l8.9-.2zM215.1 392.5l.4-.6l1 .2l0 1.2l-1 .3l-.4-1.1zM211.9 401.5l.6-.5l.9 .5l-.9 1l-.6-1zM212.5 405.5l1-.5l1.3 1.5l.6 2l-2.9 .7l-2-.7l2-3zM215.2 414.5l.3-.8l1.7 .8l-.7 1.9l-1 .2l-.3-2.1zM216.5 419.5l1-.5l.6 .5l-.6 .8l-1-.8z" fill="#0000d7"/>
<path d="M513.2 131.5l13.3-.3l7 .5l5 1l3.8 1.8l2.2 2l.2 1l-1.1 6l-3.1 9.6l-2.8 3.4l-1.5 3l-3.5 3l-2.1 5l-2.9 3l-1.2 3.2l-3 1.6l-3 3.8l-4 1.8l-.3 3.6l-3.7 1.9l-1 1.6l-5.4 5.5l-3.6 1.7l-2.3 4.3l-2.8 1l-.9 2l-2 1l-3 3.7l-2 1l-3 2.7l-3 4l-2 1.2l-2.2 .4l-1.8 3.1l-6 5.8l-2.4 1.1l-2.4 4l-5.2 4.4l-5 6.1l-3 1.5l-1.7 3l-4 3l-2 3l-3.4 2l-1.9 3.1l-4.9 3.9l-1.7 3l-2.4 .8l-3 2.1l-6 5.8l-4 1.5l-2.4 3.8l-2.9 3l-1.7 1l-2 .1l-1.5 3.9l-.9 1l-1.6 1.1l-3.3 .9l-3.3 3l-1.4 2.4l-3 .6l-3 2.3l-2.6 .7l-1.4 1.2l-1.4 2.8l-2.6 1l-2.1 3l-3.2 1l-.5 2l-1.1 1l-4.1 .3l-1 .6l-2 2.8l-4 1.6l-2.7 3.7l-3.3 3l-1 .3l-2-.8l-.6 1.5l-2.5 1l-1.5 3l-3.4 1.6l-2.3 2.4l-4.7 3.4l-3 .8l-3 2.4l-3 1.6l-2.6 3.8l-4.4 2l-2 3.8l-4 2.6l-3.5 .6l-4.5 4.4l-3.6 .6l-1.8 2l-2.9 2l-.4 1l-1.3 .1l-2.6 1.9l-1.6 2l-1.5 3l-4.1 2l-1.3 2l-4.9-.2l-2.9 1.2l-3.6 3l-1.5 2l-3 1l-1.9 4l-1.1 1l-4-.3l-3-1.5l-1 .1l-1 .7l0 1l1.9 3l-.3 1l-1.6 1.3l-3 .7l-1 1.4l-3 .8l-3 3.5l-2-.2l-3 1.1l-4-.6l-3 1.1l-2-.2l-1 .4l-1 1.7l-3 2.4l-2 .7l-1-.5l-2.2-3.6l-1-4l1.2-2.2l2.7-.8l-.5-1l-2.2-.8l-.6-3.2l.6-1.3l3-1.4l1-2.3l0-2.1l1-.5l1 1.9l1-.5l0-1.6l-1.4-1.2l.4-1.1l1.7-.9l.2-1l-2.9-.3l-1-.6l-.3-1.1l1.8-2l.1-2l1.4-.6l1.3 2.6l1.7 .9l1.7-.9l.3-2.7l4.7-5.3l-.4-2l2.8-3l.9-2.2l2-.9l2-1.9l2.6 0l-1.1-4l2.5-2.6l2.6-1.4l.2-3l2.2-2.3l2.2-4.7l.8-1l4-.1l1.3-.9l-.3-.7l-2.5-1.3l4.5-2.2l1.2-2.8l1.8-1.7l6-2.9l2-2.7l1-.4l2.1-2.3l1.5-4l4.4-1.6l1-2.4l2.4-3l2.8-1l1.8-2.7l3-1.3l.2-3l3.8-2.4l2.6-3.6l3.4-1.5l2.6-4.5l2.4-1.5l3-.7l1-.9l2-3.5l3-.9l1-1.5l3.5-2l3.2-5l5.9-3l2.4-5l3-1.8l1.4-2.2l4.6-2.9l1.7-3.1l2.3-1.2l4-4.5l2-.9l2-3.4l5-3.5l2-2.2l8-5.2l2.2-4.1l3.8-1.8l1.6-2.2l3.5-3l4.3-3l2.6-3l5.2-4l1.8-2.9l4-2.6l2-3.7l3.5-1.8l1.5-2.1l9-7.4l2-2.6l5-3.4l3.1-1.5l1.7-3l3.2-3.3l3.1-1.7l2.7-3l6.1-5l2.1-2.6l2-.7l4-4l15.2-10.7l2.8-2.6l4-1.6l2-1.7l5-2.8l13-4.3l12.7-2zM264.5 340.2l0 .5l1 .4l0-1l-1 .1zM244.5 389.1l.3 .4l-.3-.4zM229.5 396.4l1 1.2l.7-1.1l-.7-.5l-1 .4zM235 403.5l1.5-.7l.2 .7l-1.2 2.1l-1-.7l.5-1.4z" fill="#0000e7"/>
<path d="M511.1 132.5l16.4-.4l3 .7l3-.1l4 1.2l3 1.6l1.6 4l.2 2l-.4 2l-1.8 3l-.4 4l-8.5 12l-2.4 5l-2.3 2.6l-4.7 3.4l-2 4l-4.8 2l-.9 4l-4 3l-4.6 5.4l-3 1.5l-2 3l-2.2 2.1l-2 1l-4.8 5l-1 .8l-3.8 .2l-.5 3l-2.6 3l-1.1 2.2l-1.3 .8l-2.7 .5l-2 2.4l-2 .2l-.8 .9l-.5 3l-2.7 2.3l-2 .8l-2 4l-6 5.4l-2.5 1.5l-1.8 4l-2.7 1.2l-2.2 2.8l-5.8 4.3l-1.8 3.7l-2.2 1l-2 2.5l-2 .6l-.7 1.9l-1.3 1.4l-6 3.8l-5 6l-2 1.5l-3 .2l-1 .7l-3 4.6l-2.7 .8l-2.3 2.7l-2 .5l-1.4 3.8l-1.6 1.8l-8 4.8l-1 1.3l-3 .1l-2 1l-5.8 6l-.8 2l-1.4 .1l-2-1l-1 3.7l-1 .7l-2.5 .5l-1.5 2.3l-1 0l-1-.9l-1 .2l-4 4.9l-3-.1l-2 3.4l-2.1 1.2l-.5 2l-1.1 1l-1.3 .7l-3.2 .3l-3.4 3l-1.4 2.9l-4 1.1l-.6 2l-1.4 1.7l-3 .5l-4 2l-4 2.2l-3 2.8l-1 .2l-1-.9l-1 .3l-1 2.4l-3.2 1.8l-.8 3l-2 .9l-2.4 .1l-.6 1l0 2.4l-.7 .6l-1.3 0l-1-1.7l-1 .1l-1 2.6l-1 .7l-4.7 1.3l-.5 2l-1.5 2l-2.3-.5l-3.2 2.5l-3.8 6.2l-1 .2l-3-.9l-2.2 .5l-4.1 6l-4.7 1.8l-1 1.4l-1-.2l-1-2l-1.9 2l-.4 2l-5.7 3l-3 .3l-2.8 1.7l-3.2-.5l-1 .5l-.2 2l-1.8 1.6l-1 .2l-3-1.8l-1.6 0l.1 1l1.5 1.3l2.2 .7l-3.2 3.1l-2-.8l-2 .5l-3-1.7l-3-.1l-.9-2l-3.1-1.1l-1-2.9l1-1.8l1 .1l1 1l1.3 1.7l.8 3l.9 .5l1-.2l3-3.7l1-.3l2 .6l.9-.9l-.9-1.1l-5 .7l-4-1.5l-1.3-2.1l.1-2l2.2-4.3l1-.4l3 1l1-.8l1-2.5l2-.8l2-1.8l2-.1l.1-1.3l-1.1-1.1l-1 .4l-2-1l-1.8 1.7l-1.2 .3l-.5-3.3l.5-1l1-.5l3 1.2l2-.2l2-3.5l4-2.7l0-.5l-2-1.1l-1.6-2.7l.6-1l4-1.5l3-1.7l1.1-1.8l2.4-1l.5-1l-.7-3l-1.9-2l.4-1l3.2 .4l3-1.9l1-1.6l1-.5l2 0l.6-2.4l3.4-4.3l3-1.6l.9-2.1l1.1-.7l2-3.1l2-.6l.5-.6l-.6-3l.7-1l3.4-1.1l4-5.4l2-.7l3-2.9l2.6-.9l.7-1l-.3-3l1-1l3-.6l2.1-3.4l2.9-1.3l2-2.2l2-.5l2-3.2l3.3-1.8l.3-2l.8-1l3.6-1l1-2.4l4-2.9l4-4.5l7.4-5.2l.7-1l-.1-2.2l4.9-4.8l2.9-2l7.5-8l2.7-1.2l2.7-4.8l3.5-2l2.8-2.8l4-1.7l3.4-2.5l2.6-5.1l1-.9l3-.7l3-2.7l2-2.9l4.9-3.7l5.1-5l2.1-1l2.1-3l4.7-4l1.1-2.7l3-1.3l2-2.9l7-5.3l2-.8l1.8-3l2.2-1l2.8-3l3.2-1.4l4.8-6.6l3.2-1.6l10-9.4l2.3-1l2.7-3l6-4.6l5-2.9l2-2.5l4-2.2l2.5-2.8l3.5-1.2l7-4.6l6-1.7l2-1.3l6-1.7l5-.3l4.6-1.2zM251.5 370.1l-1.3 1.4l.3 1.1l1 1.5l2 .6l.5-1.2l-.4-2l-.7-1l-1.4-.4zM237.5 389.5l2-.9l2 1.9l-1 .9l-1-.2l-1.9-.7l-.1-1z" fill="#0000f7"/>
<path d="M508.9 133.5l4.6-.8l8 .5l5-.5l4 1.3l6 .9l1.1 .6l2.5 3l.9 4l-2 3l-.1 3l-1.1 3l-4.2 5l-2.1 4.3l-3.5 3.7l-1.5 3.4l-5.6 4.6l-1.3 3l-1.1 1.3l-4.2 1.7l-.8 1l-.9 3l-4.1 3.2l-1.3 2.8l-2.7 2.4l-2.8 1.6l-1.2 2.6l-4.2 2.4l-5.8 4.8l-4.7 2.2l-2.3 4.8l-8 6.7l-2 .7l-2 4.3l-5 3.5l-1.6 3l-1.9 1l-2.5 3.7l-3 1.1l-2.3 4.2l-2.7 2.1l-2.1 2.9l-5.9 3.6l-3 4l-4 3.2l-2.3 4.2l-4.7 2.1l-4.3 4.9l-1.7 3l-2 1.1l-3 0l-1.7 .9l-2.6 5l-3.3 1l-2.4 2.2l-2 0l-1.1 1.8l0 2l-.9 1.5l-2-.2l-1 .5l-1 2.2l-2.2 2l-3.8 2.2l-4 1.3l-5 5.3l-6.6 2.2l-1.4 3.2l-6.8 2.8l-3.2 4l-4 .5l-2 3.4l-3 1.1l-1.2 1l-.5 1l.9 1l-.2 1l-7.3 2l-1.7 4.8l-4 0l-4 2.8l-2.9 .4l-1.1 3l-3 1.3l-3 2.6l-3 .5l-2.6 1.6l-1.4 2.7l-4 2.9l-5 1.8l-2-.2l-3 5.8l-8.7 2l-1.9 5l-2.4 .6l-1.1 1.4l-1.9 .8l-1-.1l-1.1-1.7l-.9 1l.8 1l-.9 2l-1.9 .7l-2-.8l-1.3 2.1l-1.7 1.2l-3-1.8l-1.8 2.6l.6 2l-.5 1l-3.3 0l-1.3 3l-1.7 1.6l-2 .2l-3-.6l-2 .9l-1-1.7l-3 2.6l-3-.4l-.9 .4l1.5 1l.4 1l-1 1.4l-1.3-.4l-.7-2l.9-1l-2.3-3l.5-2l3.2-2l-2.8-2l-1.1-4l1.6-3.8l3 3.2l1 .3l2.3-1.7l.1-2l-2-4l.6-3.4l3-1.6l1-.1l2 1.2l1.8-1.1l.2-1.8l-1-2.2l3-1l.1-1l-1.1-1.2l-2.6-.8l-.4-1l5-2.8l2 .1l1.9-1.3l.6-1l-.2-3l.5-1l3.2-3.9l2 .4l3-6.4l2-.7l1 1.8l1 .1l.3-1.3l-1.5-1l1.4-2l.6-3l2.2-.2l1.2-.8l1.2-3l3.5-1l.5-2l1.6-1.2l1.1-1.8l2.9-1.9l1-1.5l1-.3l2 1.5l1-.6l.1-1.2l-1.3-2l2.2-4l4-3.7l3-.2l2-3.7l4.9-2.4l-.6-2l.5-1l3.6-1l1-3l1.6-1.3l2-.7l4-4.7l2-.4l2-2.9l4-2.4l.6-.6l.2-3l2.6-3l1.6-1.6l2-.9l2-2.3l3.5-2.2l1.7-3l5.1-4l2.5-4l2.2-.9l2-2.4l6-2.6l2.8-3.1l2.2-3.9l3-1l2-2.4l2-.9l1.7-2.8l2.1-2l3.9-3l4.3-4.4l2-.8l2-3.2l4.7-3.6l1.6-3l2-1l2.7-3.3l9-6.1l1.5-2.6l1.8-1l2.6-3l3.8-2l4.3-6.1l3-1.4l3-2.3l7-6.8l3-1.5l2-2.8l12.3-8.1l2.3-3l3.4-1.1l2-3.1l4-1.6l6-4.1l14-4.9l5-.2l2.4-1zM274.5 368.1l0 .5l.6-.1l-.6-.4zM248.3 373.5l.7 2l-.5 .7l-.5-1.7l.3-1z" fill="#0008ff"/>
<path d="M511.7 133.5l2.8-.2l7 .6l5-.6l4 1.6l2 0l4 1.3l3.1 5.3l-.1 1l-1.4 2l-.1 4l-1.5 3.1l-3.6 3.9l-1.6 4l-4 4l-2.7 4l-4.8 5l-1.3 2.5l-5 2.6l-2 3.8l-4 3.1l-1.3 3l-1.6 2l-3.2 2l-1.9 3l-4.8 2l-2.2 3l-7 4.1l-3 3.5l-3 1.8l-2 3.6l-2 2.1l-3.1 1.9l-3.5 5l-2.4 1.4l-2 2.5l-4.3 3.1l-.7 2l-2.9 2l-2.1 3.7l-5 5.3l-1 .9l-4 1.7l-2.9 3.4l-5.1 4.6l-2 4.1l-5.2 2.3l-1.8 3.1l-2 2.1l-8.6 4.8l-1.3 2l-1.1 3.1l-5 .7l-2 1.2l-1.1 1l-1.9 4l-5 3l-4 3.6l-5 2.1l-.5 1.3l-3.5 4.1l-3 .4l-1.7 1.5l-3.1 1l-1.5 3l-3.7 2.2l-2.6 .8l-3.4 3.1l-3 .7l-3 3.6l-4 2.4l-3.5 1.2l-.2 1l.5 1l-.4 1l-2.4 .3l-2 1.1l-3-1.7l-.5 4.3l-2.5 2l-2 .2l-4 2.7l-2 3.1l-2.7 1l-2.3 2l-4 2l-2-.1l-2.1 3.1l-2.9 1.1l-2 2.5l-2 .4l-3-1.3l-1.6 6.3l-.8 1l-.6 .3l-2-.7l-1 .3l-2 1.9l-5 2l-3-.4l-2.5 .6l-.3 3l-3.2 1.6l-2 1.6l-3.1 .8l-1.3 1l-.4 2l-2.2-.5l-2.7 .5l-.3 1.4l-3 2l-2-2.8l-2 1.7l-2 .1l-2 1.6l-3 .1l-1 .8l-1.7-.9l.2-1l1.5-.5l1-1.4l4 .8l1-.5l0-1.9l-3-1.5l-1.8-4l.8-1.3l2 1.5l1 .1l1.8-1.3l.5-1l-1-2l1.7-2l1-3.5l3-2.2l.6 2.7l1.4 2.7l1.3-.7l-.3-3.6l-1-2.1l-1-1.2l-1 1.3l-1.6-3.4l.9-1l3.7-1.8l2 .4l.6-2.6l-.6-2.8l1-1.1l2-.8l2-1.9l1-.3l2 .6l1-.7l-2.3-2l-.2-2l.5-.9l2 1.1l2-.3l1.7-3.9l.3-3.2l2-1.3l2 .7l2-1l.9-3.2l2.1 0l.9-1l-.8-2l1.5-3l1.4 .1l2 1.6l1.5-.7l1.3-3l2-2l.8-2l-1.5-2l.9-1.1l2-.5l2.4-1.4l2.5-3l1.1-2.5l2.9-2.5l3.5-1l.5-3l2.8-1l1.3-3.4l1-.6l2 .3l.8-2.3l1.2-1.6l3-1.5l3-4.2l4-2.1l1.2-1.6l.5-3l1.3-2l2-1.6l2.2-.4l1.8-2.4l4.9-2.6l.3-3l.7-1l8.1-6.3l2.5-3.7l3.5-1.9l2-.5l3.1-3.6l1.9-3.4l3-1.5l3-2.7l4.2-2.4l1.8-3.3l7-6.5l3-2.1l1.7-3.1l5.3-3.7l5-5.9l2-.5l4-4.3l3.7-2.6l5.3-6l4-2.2l5-6.3l6-3.5l1.5-2l2.5-1.7l1.3-2.3l3.7-2l3-3.4l5-2.4l1.8-2.2l6-4l2-2l3.2-1.5l2-3l6-2.9l3.1-2.6l7.9-3.1l6-1.9l5-.3l5.2-1.7zM272.5 353.4l-.7 1.1l3.7 6.3l2 .3l1.2-1.6l2.8-1.8l-.2-2.2l-1.8-1.7l-1-.3l-2 .8l-2-1.3l-2 .4zM257.9 362.5l.6-.9l.6 .9l-.6 .5l-.6-.5z" fill="#0018ff"/>
<path d="M509.4 134.5l5.1-.7l6 1.1l5-1.1l9.1 2.7l1.5 1l1.5 3l0 2l-.8 2l.5 3l-2.9 5l-2.9 3l-1 3.1l-2.9 2.9l-4.1 5.6l-2.1 1.4l-1.6 3l-2.3 2.4l-4 2.4l-4 5.4l-4.2 2.8l-.8 1.3l-.3 2.7l-.8 1l-3.9 2l-2 2l-2 0l-2 2l-2.5 4l-5.5 3.2l-4 3.8l-2 .8l-3 5.2l-5.7 4l-2.5 4l-8.8 7.5l-1 1.7l-2.7 1.8l-.5 2l-4.2 5l-2.6 2.3l-3 0l-4 5.3l-4 3.9l-2 1.2l-1 3.5l-6 2.4l-1.7 1.4l-.2 2l-.9 1l-3.2 1.2l-3 3.2l-3 1l-1.4 1.6l-1.9 4l-4.7 .5l-3.3 2.5l-1.8 4l-5.9 3.5l-2 1.7l-3 .7l-4 3.1l-1 1.9l-2 .3l-1.2 1.8l-1.9 1l-1.9 2.2l-4 0l-1.3 2.8l-2.5 3l-2.2 .6l-2-.4l-1 .7l-1 2.7l-3 1l-2 2.5l-4 3.1l-5 1.3l-2-.8l-.6 1.3l1.4 2l-.8 1.5l-1 .3l-5-2.5l.4 4.7l-1.1 2l-3.3 .4l-6 6.3l-3-.1l-3 2.9l-3 .3l-3 3.5l-3 1.8l-3 3.1l-2-.3l-1-1.6l-1 .3l-3 5.5l-3-.9l-1 .9l-.7 3.9l-.9 1l-3.4 1l-5-.8l-2 .7l-1-.2l-1-2l-1 .3l-1.1 1l1.8 2l.4 2l-.5 1l-2.6 1.9l-2-1.8l-1-.1l-2 2.8l-3.5-3.8l-.3-2l1.5-2l-.1-2l1.4-.2l1.3-1.8l.1-3l.9-4l-.6-3l1.3-1.7l1-.3l3 .8l1-.8l-.1-3l1.1-2l4-2.6l.1-1.4l-1.3-1l-.2-1l.4-3.2l1-1l1 .2l1.4 1l0 2l.6 .7l1 0l.8-.7l-.8-3l1.8-2l.8-2l1.4-.4l1.4-1.6l.4-1l-.8-2.3l1-.1l2 1.2l3-2.4l1-3.1l2.8-1.3l2.2-3l-.8-2l.8-1l2-1l2-3.4l2-.8l.7-.8l0-2l.7-1l3.6-.8l2-2.6l2-.2l1-1.4l.5-2l3.1-2l.4-2.1l.8-.9l2.2-1.1l3.1-3.9l4.9-3.4l3-7l1-.5l5 .1l1-1.2l.8-3l2.2-1.2l1.7-1.8l.4-3l.6-1l7.3-5.4l2-3.6l3-1.9l3-1l2.6-3.1l1.5-3l6.5-5l5.2-3l1.8-2l1-2l3.4-3.6l4.6-3.4l2.4-4l7.7-5l1.5-3l2.8-1.4l3-3.7l4-3.1l5-5.4l5-3.2l4-5l2.2-1.2l7.8-6.3l2-3.2l3-1.1l3-3.5l6.3-2.9l2-3l10.4-7l2.3-2.7l3-1.6l3.5-.7l2.5-3.3l8-3.5l5-1.5l5-.3l2.9-1.4zM285.4 330.5l1.1-.7l.9 .7l-.9 .6l-1.1-.6zM288.5 340.9l-.5 .6l1 1l.9 0l.4-1l-.8-.9l-1 .3zM298.5 344.3l-1.8 2.2l.8 .7l2-.2l1.6-1.5l-.6-1.2l-2 0zM273.9 348.5l.6-.5l.4 .5l-.4 .4l-.6-.4z" fill="#0028ff"/>
<path d="M513.9 134.5l2.6 .1l4 1.3l3-1.3l2-.2l4 1.6l3 .4l2 1.1l1.5 2l-.9 4l.6 4l-11.8 18l-3.4 2.7l-.8 2.3l-6.5 5l-5 6l-4.7 2.1l-.9 1.9l.3 3l-1 1l-3.9 1l-3.7 2l-4 6l-5.8 3.9l-2 2.3l-3.9 1.8l-2.1 5l-2 1.6l-4 2.1l-9.9 11.3l-5.7 4l-.4 2l-1 .9l-2.3 .1l-.6 1l.2 3l-.9 1l-2.4 1.1l-2-.4l-5 6.7l-4 3.3l-2.5 .3l-.3 1l.6 2l-.8 1.8l-3 .7l-3-.9l-1 2.4l-3 1.2l-1 2.6l-1.5 1.2l-1.5 3l-3.3 1l-3.7 5.6l-3-.1l-3 2.4l-2 1l-2.2 4.1l-2.8 2.3l-4 2l-.9-1.3l-1.4 0l-.6 2l-2.1 2.4l-4 2.9l-2 .4l-5 5l-2 .1l-3-.8l0 3.2l-2.9 3.8l-4.4 0l-1 1l-.7 2.4l-2.3 .6l-2.7 1.6l-2 2.4l-4.5 1l-1.5 1.4l-2-.8l-1 .3l-.6 1.1l-.4 3.1l-1 .1l-2-1.8l-2 .3l-1 1.3l.1 3l-2.6 1l.4 1l-.9 1.6l-1 .6l-2-1.6l-.1 2.4l-.9 1.2l-1 .2l-3-.9l-3 5.4l-2-2.8l-1 .2l-.7 1.7l-1.9 2l.3 2l-1.7 2.2l-1.4-.2l1.6-4l-2.2-.6l-2 1.6l-.5 1l2.1 3l-1.6 .5l-3-.8l-2-1.5l-1 .6l.9 2.2l-.9 2l-1 .8l-2-1.8l-2.3 1l-.2 3l-2.5 3.9l-1 .1l-2-1.8l-2.8 .8l-2.2 1.9l-1 .2l-1-.7l-1.8-5.4l.2-4l1.4-3l-1.5-2l.4-2l2.3-1.1l3 1.9l1.6-1.8l-1.7-2l1.2-2l.9-.6l1-.1l3 2.3l1-.2l.3-2.4l-3.1-3l-.1-2l.8-1l3.1-1.9l1-2.8l5.4-4.3l1.6-3l3-1.8l1 0l1 .9l1.1-.1l.5-1l-.2-6l1.6-2l2-.5l1.9-1.5l.1-3l4-2.5l2.1-.5l3.1-5l.8-.5l2 .3l.7-.8l.7-3l4.6-2.6l.8-1.4l0-2l3.9-3l2.9-7l1.4-.6l4 .5l2.3-2.9l.7-2.3l2-1.1l2.5-2.6l3.5-6l4-2.8l2-3.7l3-1.8l2-.4l2-2.3l1.9-1l1.1-3.1l2-1.1l4-4.1l7.6-4.7l1.3-3l2.9-3l6.6-4l.6-3.4l8-4.9l1-2.8l2-1.2l3-3.8l4-3.1l5-5l3-2.5l2.7-1.3l2.3-3.9l2-1.5l2.4-.6l1-2l6.6-5l2-2.6l2-.3l3-3.7l7.8-4.4l1.9-3l1.3-1l10.9-8l2.1-1.2l4-1l3-3.3l4-1.7l2-1.5l5-1.7l6-.6l4-1.7l3.4-.3zM308.5 316.2l-.4 1.3l.4 .7l1-.2l.4-1.5l-.4-.8l-1 .5zM301.5 339.7l-.4 .8l.4 .6l.5-.6l-.5-.8zM307.7 340.5l.8-.9l1 .2l0 .9l-1 .4l-.8-.6zM285.9 344.5l1.6-.9l1 .3l.9 1.6l-.3 1l-1.6 .7l-1-.6l-.6-2.1zM302.2 346.5l.3-.5l1 .2l0 1.3l-2 .5l-.3-.5l1-1z" fill="#0038ff"/>
<path d="M511.2 135.5l4.3-.5l5 1.7l4-1.6l8.3 2.4l1.6 2l-.7 3l.6 5l-1.1 2l-2.1 2l-3.4 7l-4.7 7l-2.5 1.5l-2 3.3l-9 7.4l-3 3.8l-3 .6l-2 3.4l-.3 3l-4.2 1l-2.9 2l-11.6 12.2l-4.9 1.8l-1.1 4.7l-5 2.7l-1.9 1.6l-2.2 3l-1.9 1.1l-1.6 2.9l-3.4 4.1l-5 2.2l-2.8 3.7l-2.2 1.1l-.8 1.9l-.2 3l-1 .9l-1 0l-1-.9l-1 .2l-5 7l-7.1 3.8l-1 2l.7 2l-.5 1l-2.1 .4l-2-1.5l-1-.1l-1 .6l-1.2 2.6l-2.8 1.6l-1 2.4l-1.3 1l-1.6 3l-3.1 1.3l-3 4.5l-3-1.2l-2.3 3.4l-2.7 1.7l-6 6l-3 0l-3 1.5l-.8 .8l-.8 2l-2.4 1.9l-5.6 .1l-.6 1l.1 2l-.9 1.1l-2 .1l-3 2.2l-3 0l-.7 1.6l.3 2l-.6 .9l-2 .1l-2 2.6l-3 1.2l-1 2.7l-5 .9l-2 3.3l-7.3 1.3l-3.7 2.9l-4 .4l-3.5 4.7l-1.5 .9l-2 .1l-.8 1l.4 3l-.6 1l-3-.8l-3 2.4l-2-.8l-1 .5l-2 3.4l-1 .5l-2-.2l-2-1.6l-1 .2l.5 1.4l-.5 1.5l-5 2.2l-2 .6l-.9-.3l-.4-2l-1.6-2l-1.4-4l.3-1.2l2-1.2l2.5-2.6l.4-3l-.9-1.7l-2 .6l-.7-.9l.5-1l3.2-2.5l2.5-.5l1.5-1.6l3.5 .6l.6-3l2-3l.9-6l3-1.7l2-.4l.5-.9l-.7-2l.2-1l6-3l0-2.1l1-1.6l3-.3l2-1l.7-1l.1-3l4.1-3l2.1-3l2.3 0l.1-2l1.3-4l2-4l1.3-.6l4 1l3-5.7l5.3-4.7l2.7-3.9l1-.9l2 .3l.4-.5l-.6-2l1.2-1.3l1.9-3.7l2.1-1.2l3-.5l1.8-2.3l2-1l.8-3l3.4-2l2-3.2l5.2-2.8l2.8-2.4l1.9-3.6l2.1-2.2l4.1-2.8l2.9-1.2l1.1-3.8l4.9-3.3l2-.7l3-3.4l1-.3l.5-2.3l1.5-2.1l2.9-1.9l9.5-9l2.9-1l1.8-4l1.9-1.5l3-.7l1.7-2.8l7.3-5.6l2-1l4-4.4l9-4.9l1.3-3.1l6.3-5l4.4-2l2-2l5.3-2l2.5-3l3.2-1l3-2.5l4-1.3l6-.5l4.7-1.7zM331.5 292.1l-1 1.4l1 .1l.5-1.1l-.5-.4zM305.3 316.5l1.3 0l.5 3l-1.6 .9l-1 0l-1.3-.9l-.3-1l.4-1l2-1zM312.5 320.9l-.4 .6l.4 .5l.5-.5l-.5-.6zM305.4 328.5l.3 0l.8 4l1.9 1l.6 1l-.8 1l-3.5 1l-1.2 .9l-1-.2l-1.7-1.7l-.1-1l1.5-2l-2.1-2l.3-1l1.1-.8l2 .3l1.9-.5zM294 329.5l.6 0l-.6 0zM295.7 333.5l2.1 0l-1.3 1.8l-1-.1l-.5-.7l.7-1zM297.4 340.5l1.1-.4l.2 .4l-1.2 1.2l-.7-.2l.6-1z" fill="#0048ff"/>
<path d="M510.4 136.5l5.1-.9l4 1.9l5-1.7l6 1.8l1.2 .9l1.7 9l-.9 1.6l-3 2.1l-.8 4.3l-6.2 9.6l-2 1.1l-5 5.7l-9 6.6l-1 1.8l-2 .6l-3.2 4.6l-.8 2.2l-3.3 .8l-2.1 2l-3.6 2l-2.1 3l-3.5 2l-.5 2l-2.9 3.7l-4.3 1.3l-.7 1l0 2.7l-1 1.3l-3 .2l-1 .8l-1 2l-3 2.3l-1 2.1l-3.5 2.6l-2.5 4.7l-6.8 3.3l-1.2 2.5l-2.1 1.5l-1.9 4.1l-1 .3l-2-1l-1 .4l-.1 2.2l-2.9 4.3l-2 1.6l-2 .2l-2.4 1.9l-3.5 4l-1.1 2.3l-2-.8l-2 .5l-1.5 3l-2.5 1.4l-3.7 4.6l-1 2l-3.3 2l-.6 2l-1.4 1.6l-3-.9l-3.9 4.3l-7.1 5.4l-4 .7l-1.6 1.9l-4.4 2.9l-3 .7l-3 1.6l-2 3.5l-3 1.7l-5 .9l-1 4l-2 1l-2 2.5l-2.8 1.2l-1.2 2.1l-2-.1l-4 2l-1 1.7l-9 2.8l-3 2.2l-2-.2l-4 .7l-.3 .8l1.4 2l-1.1 2l-1 .7l-2 0l-2-2.1l-1 .2l0 3.7l-1.8 1.5l-1.1 2l-1.1 .7l-2-1.1l-2.5 1.4l-1.5 3.5l-1-.1l-3-2.7l-3-.7l-1.2-3l1.2-2.5l1.1-.5l0 2l2.6 2l1.3-.2l1.6-1.8l.2-1l-.8-.9l-3-.1l-1.3-2l-3.4-2l1.7-2.1l2-.6l2 .9l1 2.9l1 0l.9-1.1l.7-2l-1.6-.9l-1-3.1l2.3-4l.7-4.6l1-.6l3 2.4l1 .2l1-2.7l2-1.1l1.4-2.6l2.6-2.1l-.7-5.9l3.7-1l2 .6l1.4-.6l.5-1l.2-3l.9-1.6l2.4-.4l.3-1l-.5-2l.6-1l2.2-.2l2.1-1.8l.8-6l1.1-2.5l1-.8l3 .9l2.1-.6l6.5-9l4.4-4.5l2-.3l1.4-1.2l2.1-7l2.5-1.2l3 1.1l1-.6l.1-2.3l2.9-2.8l.3-2.2l.7-1l3.7-2l1.3-1.9l2-.7l1-1.4l2-1.1l3.4-3.9l2.2-4l8-5l1.4-3.5l2.8-1.5l1.2-1.3l2-.6l3-2.8l2.9-1.3l-.8-2l.9-2.1l2-1l2 1l.5-.9l-.1-2l.6-1l2.8-2l1.1-2l2.1-1.3l2-2.2l2-.2l1-.8l2-4.2l2-1.2l2-.4l2-2.9l6-3.8l8.8-8l7.9-4l1.5-3l2.8-2.1l3.6-3.9l4.4-1.2l1.6-1.8l5.4-2.7l2-2.6l3-.7l3-2.8l4-1.3l6-.5l3.9-1.4zM326.5 314.6l0 1.5l2 1.3l.4-.9l-.6-1l-1.8-.9zM310.6 323.5l.9-.3l3.2 3.3l.1 1l-2.3 2.3l-1-.1l-2-3.2l.3-2l.8-1zM304.6 334.5l.9-.6l1.4 .6l-2.3 0z" fill="#0058ff"/>
<path d="M513.8 136.5l2.7 0l3 1.6l5-1.4l5.9 1.8l.9 3l-.2 2l1.5 3l-.1 1.2l-1 1.1l-1 0l-1-.9l-2 .6l-.1 1l.9 2l-.2 4l-5.6 8.6l-2 1.4l-3 3.5l-6 5.2l-3.6 1.3l-5.4 5.3l-1.4 2.7l-2.6 3l-3 1.3l-3 2.7l-3 1.1l-1.6 2.9l-4 3l-2.4 4.2l-4 1.3l-1.4 1.5l-.8 3l-2.8 .8l-1.3 1.2l-1.7 3.2l-3.6 1.8l-.4 2.2l-2 1l-3-.4l.5 4.2l-1.1 2l-7.4 3.5l-4 6.7l-1 .6l-2-.4l-2.2 .6l-1 2l-.3 3l-1.5 2l-3 .7l-4 3.2l-1 2l-2 1.8l-4.1 .3l-1.9 4.5l-2.6 1.5l-2.4 3.1l-4 2.2l-3 6.4l-3-.8l-7 6.5l-3 1.3l-2 2.1l-2 0l-2-1.5l-1 .5l-.6 3.2l-.8 1l-4.6 2.1l-2 0l-1 1.7l-1.9 1.2l-1.1 1.9l-3 2.6l-2 .8l-4.2-.3l-.6 4l-2.2 1.8l-1 1.6l-1 .3l-2-1.6l-1 .2l-3 3.5l-.9 2.2l-1.1 .3l-2-1.1l-1.2 .8l-.3 2l-3.2 1l-1.8 2l-2.5 0l-2-1.7l-1.3 .7l1.3 2l-.7 1l-4.3 .7l-1-.2l-1.9-2.5l-1.1 0l-1.3 1l-.2 1l2.7 5l-.2 1.1l-1 .4l-1-.3l-1.9-2.2l-1.1-.4l-.8 .4l-1.2 2.8l-5-2.1l-.6 1.3l0 2l-.4 .5l-1 0l-1.2-1.5l.2-1l4-4l.2-1l-1.2-1.6l-1-.2l-2 .7l-.9-.9l0-1l2.9-3.9l1 2.9l1-.4l1-1.3l.2-1.3l2.6-2l.2-2.5l2-.6l.8-.9l.2-2.2l1-.7l2.5-.1l-1-7l2.5-.6l1.2 .6l.8 1.3l1-.8l1.7-2.5l.9-3l2.6-1l1.8-5l3.8-3l.2-2l2.4-4l4.6-2.7l4-4.6l2-3.9l7.8-5.8l.9-1l.7-3l.6-.6l3-.3l1-2l2.3-1.1l.8-1l.4-2l2.1-2l.9-3l6.5-3.6l5-6.2l1.6-1.2l2.9-5l6.5-3.6l3-4.6l5-1.9l2-2.9l5.2-3l-.1-1l-1-1l.1-1l.8-.8l2 1l2-1.1l1-3.1l2.3-1l1.7-3.8l2.1-1.2l.9-1.3l3-.8l2.7-4.9l1.3-.9l2-.4l3-3.7l6-2.9l1.1-2.1l3.9-3.4l2.1-.6l2.1-3l3.8-1.4l3-1.7l2-3.1l2.8-1.8l4-5l3.9-1l3.7-3l2.6-1l2-2.3l4-1.6l2-2.3l4-1.3l6-.5l7.3-2zM324.3 299.5l.2-.5l1.3 .5l.3 1l-.6 1.1l-1-.6l-.2-1.5zM343.5 300l0 .9l1 .3l.4-.7l-.4-.8l-1 .3zM316.5 311.5l1-.5l1 .3l0 1.5l-1.7-.3l-.3-1zM324 318.5l.5-.1l.7 1.1l-.2 1l-1.5 .7l-1.1-.7l.2-1l1.4-1z" fill="#0068ff"/>
<path d="M511.3 137.5l4.2-.5l4 1.6l6-.7l3.3 .6l1.2 1l.1 4l.7 3l-2.3 .4l-1.8 1.6l1.2 6l-3.7 6l-2.1 3l-4.6 4.8l-6 5.1l-3.5 1.1l-3.5 3.1l-2.6 2.9l-1.6 3l-1.8 1.1l-2.2-1.1l-.4 3l-6.4 4l-2.6 4l-4 3l-2.4 3.6l-3-.2l-1.3 1.6l-1.6 4l-2.1 .7l-1 1l-3 4.3l-4.2 1l-.2 1l.6 1l-.4 1l-4.3 0l-.6 1l.5 3l-.3 2l-2.1 .5l-2 1.7l-3 1.2l-3.6 2.6l-.2 3l-1.2 1.8l-3-.1l-2 1.2l-1.3 2.1l-.1 3l-.6 .9l-3 .9l-2.2 2.2l-2.6 1l-.7 2l-.9 1l-4.6 .9l-1.6 1.1l-.9 4l-2.5 1.4l-2 3l-4 1.6l-1.3 1l-1.7 5l-3 0l-5 4.6l-5 2.8l-2.6 2.6l-1.4-.1l-2-1.9l-1 .2l-.9 .8l-1.1 4.2l-1 .7l-5 .4l-1 .5l-3 4.5l-3.2 .7l-.8 3.1l-2 .6l-4-.6l-1 3.1l-2 3l-1 .5l-3-.7l-2 .5l-3 5.6l-2-1.1l-1 .4l-1.7 2.6l-3.3 .9l-.9 2.1l-1.1 .1l-2.2-3.1l-1.2-6l-1.6-.4l.2 1.4l-1.7 4l-2.4 2l-.1 1l.1 1l3 1l.9 1l-3 .5l-1-2.3l-3-.9l-1 .3l-1 1.1l-1 2.1l-2-.2l-3 1.4l-1-1l-.5-2l2.5-3.8l1-.2l1 .7l.3-3.7l2.8-2l.3-2l.6-.4l2 1.3l1-.1l4-2.5l.5-1.3l-.8-2l1-4l1.5-3l3.6-3l1.6-5l1.6-1l.8 1l1 4l1.4 0l.1-1l-.9-2l0-4l1.7-2l1.9-3.9l2 .8l1-.9l-.3-2l3.3-4l2.8-5l3.9-2l3.3-3l2-1l.6-1l-.6-2l1-.8l2.4-.2l1-2l3.5-3l.9-2l1.3-1l1.1-3l1.1-1l1.7-1.3l3-.7l1-1l.7-2l2.4-2l.9-2.1l2.8-1.9l1-3l1.2-1.6l7-3.9l2-3.4l5-1.8l3-4.4l2-.6l3.6-2.3l4.1-6l2.9-2l.8-3l1.6-.7l2 .7l2-1l1.6-4l1.9-3l3.5-1.6l2.2-3.4l3.8-2.1l2-.2l1-.6l1.8-3.1l2.2-2.3l3.5-1.7l1.5-2.6l3-.9l3-1.8l3-3.9l2.1-.8l1.9-2.1l2 .6l.5-.5l-1-2l.5-1.2l3-.9l5-3.7l3.3-1.2l1.7-1.8l3-1.5l3-2.5l4-1.3l6-.6l3.8-1.3zM359.5 270.1l0 .6l0-.6zM363.5 287.4l-1 1.1l1 1.5l1.1-.5l-1.1-2.1zM337.3 288.5l.2-.9l1 .1l2.3 3.8l-1.3 .2l-1-.7l-1.2-2.5zM347.5 295.1l-1.8 1.4l.8 .4l1.4-.4l.3-1l-.7-.4zM332.5 303.4l-1 .5l0 1.1l1-.3l0-1.3zM335.5 303.3l0 .6l1.1-.4l-1.1-.2zM328.3 312.5l.4 0l-.4 0z" fill="#0078ff"/>
<path d="M510.5 138.5l5-.9l3 1.4l5 1.1l3-1.3l2.3 .7l.6 1l-.7 2l.2 3l-2.8 3l1 3l.2 3l-3.6 6l-5.2 6.4l-7 5.9l-4 1.6l-3.9 3.1l-4.1 5.7l-1 .3l-2-1.2l-1 .4l-1 2.9l-5 4l-3.4 4.9l-4.7 3l-.9 2.2l-1 .2l-1-1l-1 .1l-3 1.3l-.3 1.2l.6 2l-.4 2l-2.2 1l-5.7 4.7l-3 1.8l-.5 .5l-.3 2l-2.2 0l-1.5 1l-.1 3l-3 4l-1.4 1.1l-3.3 .9l-3.7 2.9l0 3.6l-4 .8l-1 .8l-1.5 1.9l-1.1 4l-2.7 1l-2.7 2.9l-3.7 .1l-.7 3l-5.6 2l-.8 1l.4 2l-.6 1.6l-2.9 1.4l-2.1 3.4l-4.7 1.6l-1.3 3.6l-1 1l-2 .5l-2.7 2.9l-3.3 2.2l-3-.1l-1.5 .9l-2.5 3.9l-3-1.5l-2.4 .6l-.6 3.4l-1 1.6l-5 .3l-3 2.2l-1.8 .5l-.2 2.1l-2 .5l-1.8 1.4l.1 2l-1 1l-3.3-.8l-6 .3l-2-1.6l-1.2 .1l-.6 1l.8 3.4l2 .7l2-.7l.6 .6l-.6 2.4l-5-.8l-3-1.6l-3 2.5l-.5 1.5l.8 2l-2.3 3.7l-4 .3l-1-.9l-.7-1.1l.1-1l1.7-2l-.1-1l-1-1.2l-1-.3l-2.8 .5l-.4-1l.4-2l-.8-2l.1-2l1.2-3l4.9-3l-.4-2l.8-1.8l1 .2l1 2.7l1 .4l3.8-.5l.4-1l-1.2-.3l-1.7-2.7l0-3l.7-1.3l1-.3l2 .4l2-.9l.2-2.9l1.9-3l-.4-2l2.3-3.1l2-4.1l1-.8l3.9-1l2.1-2.7l2-.5l2.6-2.8l-.6-1.1l2-.2l1.1-3.7l5.5-5l2.7-4l1-1l4.3-2l.9-3l2.5-2l.8-2l3.2-.7l3-2.2l.1-1.1l-1.3-1l0-1l6.2-3.5l3-3.6l3-.1l4-6.1l2-.5l4.7-3.2l3.3-5.3l3.9-2.7l.1-2.1l3-.2l2-.9l1.9-1.8l1.1-2.6l3-1.2l4-4.3l2-.4l.2-2.5l.8-.9l3-.8l4-5.3l4.5-3l1.2-2l6-3l2.3-3.4l2-.8l2-1.7l3-.1l.4-1l-.5-2l.5-1l2.6-1l5-3.8l4.4-1.2l1.7-2l3.9-3.1l5-1.7l5-.4l3-.8zM526.5 143.1l0 1.7l1.8-1.3l-1.8-.4zM389.5 235.7l-.5 .8l.5 .2l0-1zM376.5 252.8l-.7 .7l.1 1l1.6 .5l.7-.5l-.7-1.2l-1-.5zM355.5 286.4l0 1.2l0-1.2zM357.3 295.5l1.2-.7l1 .1l.5 .6l-.5 1.7l-1 .9l-1.4-.6l.2-2zM340 296.5l1.5-.2l.6 1.2l-.6 2.3l-1 1.3l-1 0l-1-1.3l-1-.1l-2 2l-2 .2l-.4-.4l-.4-1l.4-1l3.4-2.3l2 .1l1.5-.8zM328.4 307.5l.1-.4l1 .4l-1.1 0z" fill="#0087ff"/>
<path d="M512.2 138.5l3.3-.3l8 2.9l1 0l2-1.2l1.2 .6l-2.4 3l1 3l-.8 3l1 2l.2 3l-3.2 5.6l-5 6.3l-7 5.9l-4 1.7l-4 2.8l-2 2.1l-2 .6l-.2 2l-.8 .5l-2-.5l-1 .3l-2 3.1l-2 .8l-6 8.5l-3 1.7l-4 1l-4 2.2l-1 1.4l.4 3l-.4 1.5l-2 .8l-10 8.6l-3 1.8l-.9 3.3l-2.1 3.4l-2 1.4l-3 .5l-3.3 2.7l-.7 1l0 2.3l-3 .9l-2.8 2.8l-1.2 4.1l-2 .7l-2-1.1l-1.1 .3l1.4 2l-1 2l-1.3 .4l-2-.8l-1 .3l-1.8 4.1l-3.2 1l-2 .1l-.8 .9l.6 3l-.4 1l-4.4 1.6l-.4 .4l.7 2l-.9 1l-6 1l.3 3l-.4 1l-1.2 1l-2.1 0l-1-1.5l-3-.8l-.7 .3l-.3 1l3.8 2l.1 1l-.9 1.4l-3.7 1.6l-2.3-.1l-4 1.6l-2 2.1l-7 1.1l-.6 1.3l.6 1.3l2 .5l-.5 1.2l-5.5 .8l-2 1.4l-2.6 .8l-1.4 2.2l-3.4 1.8l-.4 3l-8.2-.5l-2-1.3l-2-.3l-2-1l-2 2l-2-1.1l-3 1.5l-2-.8l-1 .8l-4 1.1l-.4-1.4l1.4-2l2-.6l2 1.2l4-3.2l6.1-1.4l-.1-1.2l-3-.7l-1.6-1.1l-.6-2l.2-1.6l1-.9l2 .3l2-1l.6-.8l.6-3l2.8-4.4l2 .1l1.3-.7l.2-1l-.5-.5l-2 0l-.2-.5l1.2-3.9l1-.8l1 .3l1 .4l0 1l.3-2l1.7-.8l1-.4l2 .8l4-.8l.2-1.8l-1.6-2l.3-1l4.5-2l.1-1l-1.2-2l.6-2l3.1-2l3-3l3.5-1l.1-3l1.4-1.4l3-1.1l-.2-2.5l.7-1l3.5-2l-.4-1l.7 0l-.3 1l1 1l1.7-3l3.3-3l-.5-3l.5-.4l2-.7l2 1.4l.7-.3l-.5-2l1.8-3l1-.6l3-.1l4-6.7l3-1.2l4.6-3.4l.8-2l2.6-3.3l3-.9l2.1-2.8l5.9-3.6l1.5-.4l4.5-5.5l5-1.5l0-3.6l3-1.8l4-5.6l4-2.5l2-.5l1-2l4-2.5l2-3.3l4-2l3-.7l.9-1.5l.1-2.1l3.8-2.9l4.2-2.6l4-.1l2-3.3l2.9-1l.4-1l3.7-2l3-.8l6-.1l1.7-1.1zM359.8 288.5l.8 0l.3 1l-.4 1.1l-1.9-1.1l1.2-1zM355 289.5l2.5-.6l.9 .6l-1.9 2l-2-.8l.5-1.2zM346.1 290.5l3.4-.7l.3 2.7l.7 .9l3-.1l-.6 2.2l.6 2l-3 2l-1-.6l1.3-2.4l-.3-1l-1-1.8l-3.5-1.2l.1-2zM339.3 298.5l1.2-.9l.3 .9l-.3 .6l-1.2-.6zM334 300.5l.5-.5l.6 .5l-1.1 0z" fill="#0097ff"/>
<path d="M512.6 139.5l1.9-.6l2 0l7.8 3.6l1 4l-.6 3l1.5 3l-.2 2l-2.5 5l-5.5 7l-4.3 3l-2.2 2.2l-4 1.9l-6 4.3l-2 .4l-2 2.4l-2 .5l-2 2.8l-2 .5l-1 .8l-1.4 3.2l-3.6 4l-1.6-1l-1 0l-.4 1l.5 2l-3.5 .9l-5 2.8l-1.1 1.3l-.4 4l-.5 .7l-3 2l-2 2.6l-9 6.6l-4 7.5l-5 1.6l-2 2l-2.8 0l.9 3l-1.1 .8l-5 .3l-1.2 2.9l.7 2l-.5 2.3l-2-.7l-3 0l-1-.9l-.7 .3l1.4 4l-3.7 1.9l-1 3.1l-1 .9l-2 .4l-3-.5l-3 1.6l-1 1.6l.4 2l-2.2 3l.8 2l-4 .9l-2-.3l-.7 1.4l.4 3l-.5 1l-1.2 .3l-2-1.7l-2-.5l-2 .3l-.9 1.6l.9 1.2l2.1 .8l.6 1l-.5 1l-7.2-.6l-.5 2.6l-3.5 1.3l-2.2-.3l1.2 .7l-.1 1.3l-6.5 1l-.9 2l.2 2l-8.7 3.8l-1 1.5l-1 .1l-.5-2.4l-.5-.5l-1 .2l-2 2.8l-2 0l-.9 1.5l.9 .6l2-1.3l1.1 1.7l-.1 1.2l-1 .6l-3-.9l-2 .8l-1-.1l-2.6-1.6l-.4-1l2-1.3l0-1.7l-4-2.8l-2 .3l-1.8-.5l-.7-1l.2-2l.3-.4l3 .1l1-1l1.3-1.7l.3-2l2.4-3.5l4-1.9l1-3.5l1.8-1.1l.4-1l7.3-3l.4-1l-.9-3.2l4.5-2.8l.1-1l-1.5-2l-.1-1.1l1-1l3-1.1l3-3.3l3-.8l.1-2.7l.9-1.6l1-.6l3.4 .2l.2-4l4.5-1l.8-3l4.4-4l-.3-2.3l1-.1l1 1.4l2.1 0l.9-2l-.7-2l.4-1l4.3-1.7l5-7.3l2.6-1l4.7-4l2.7-4.4l1-.6l3 0l1-1l1.3-3l4.7-2.8l2-.2l4-5.6l1-.6l4.9-.8l-.2-4l3.1-2l3.2-5.2l3-2.2l3 .1l1.8-3.7l3.2-1.7l2-3.5l7-2.9l.9-.9l1.1-2.8l3-2.8l4-2.5l4 .3l1.3-1.2l.8-2l.9-.7l3-.1l1.2-2.2l3.1-2l6.7-.1l1 2l1 .2l1.1-3.1zM423.5 241.9l0 1.2l.6-.6l-.6-.6zM421.1 249.5l.4-.4l.6 2.4l-1.6 .5l-.6-.5l1.2-2zM367 259.5l.5-.7l.4 1.7l-.9-1zM365.5 274.8l-1.3 1.7l.3 1.8l1-.5l1-1.9l1-.3l1 .5l1.3-.6l-1.3-.6l-1 .4l-2-.5zM356.9 282.5l2.4 0l-1.8 2.4l-3-.8l-.4-.6l2.8-1zM347.4 291.5l1.1 0l-1.1 0z" fill="#00a7ff"/>
<path d="M514.5 139.5l2.1 0l6.9 4.7l1.1 2.3l-.7 3l1.7 3l-2 6l-6 8l-7.1 5.3l-9 5.2l-2 .7l-2 2.3l-3 1.3l-1 1.8l-3 .8l-2 4.6l-2 2.1l-1 .3l-3-.9l-3.4 4.5l-4.6 2.7l-1 1.2l-.7 1.1l-.7 4l-2.9 2l-2 3l-8.7 6.1l-3 4.6l-1 .6l-1-.2l-1.9 2.9l-4.1 2.7l-3.1 .3l-.8 1l.8 2l-.9 .9l-3.2 .1l-1.5 1l-1.6 3l.6 2l-.3 .4l-3 .9l-2-2l-1 .3l-.7 2.4l1.3 2l-.6 1l-2.2 1l-1.8 4l-2 .4l-.7-.4l.4-3l-.4-1l-1.3-.4l-1.2 .4l.3 3l-4.1 3.3l-1 1.7l-.7 3l-2.3 1.3l-1 2l-4-1.9l-1-.1l-.7 .7l0 1l2.1 2l.2 3l-.4 1l-2.2-1.2l-3-.7l-2.3 1.9l-.9 3l-.8 .4l-2-1.4l-2 .2l-.7 .8l1.6 2l.1 1l-.9 1l-2.1 .4l-3.3-.4l-.8 1l.6 1l-1.5 .9l-1 .1l-.5-1l.3-2l-.8-.5l-1 .5l-2 8l-3 .7l-3 1.8l-1 .1l-3-1.6l-1 .1l-5 4l-.7 .9l-.3 2l-1 .9l-1.7-.9l.9-2l0-3l.8-1.5l1-.8l3 .3l1.5-1l.4-1l-.9-1.1l-6-.7l-1 .2l-2 3l-1.4-.4l-.8-1l1.9-3l.6-3l2.4-2l.3-1l3.8-2l1.2-2.8l2-.8l.7-1.4l2.3-1.8l4-2.1l.4-4.1l2.6-1.8l2-.5l-.4-2.7l-1-1l.2-1l1.2 .8l3-4.5l5-2.1l-.3-3.2l.4-1l.9-.6l3 .7l1-.5l1-3.2l4-1l1-4.6l3-2.5l5-1.3l.9-3l-.1-2l1.2-.2l2-1.6l3.4-4.2l1.7-3l3.9-2.1l7-7.9l4.1-1l1.1-1l.5-2l.9-1l1.4-.1l2-1.9l2-.1l1-.9l.7-2l3.3-3.6l3 .2l2-.7l.8-.9l-.7-3l.6-1l1.3-.2l2 1.6l.6-1.4l-.7-3l2.7-4l2.4-1.8l3 .3l1-1.2l1-2.7l3.9-2.6l1.4-3l7-3l1.7-2.3l2.4-1.7l.6-2l2.5-1l1.5-1.3l4 .2l1.3-.9l1.7-2.8l3 0l2-3l2-1.5l2-.6l2 .7l2-.4l2 2.5l1-.1l3-3.8zM387.5 251.3l-.4 .2l1.1 0l-.7-.2zM377.5 259.4l-1.5 1.1l.3 1l1.3 0l.5-1l-.6-1.1zM366.5 268.5l-.1 1l1.1 .7l1 0l.6-.7l-.7-1l-1.9 0zM356.8 275.5l.7-.5l1 .3l1.3 1.2l-1.3 .8l-1-.1l-.7-.7l0-1z" fill="#00b7ff"/>
<path d="M514.6 140.5l.9-.4l1.3 .4l0 1l-.8 1l2.5 3.8l1-.2l1-1l2 .3l1 .8l.2 1.3l-.6 2l1.4 3l-1 5.2l-6 8.5l-13 8.9l-5.5 2.4l-2.5 2.5l-2.1 .5l-1.3 2l-2.6 .4l-1 .6l-.7 1l-.8 4l-1.5 1.5l-1 .1l-3-1.2l-.8 .6l-3.6 5l-4.1 2l-1.8 3l-.7 3.8l-3.2 2.2l-1.8 3l-2 .9l-3 2.7l-3 1.8l-3 3.9l-2 .3l-3.2 4.4l-6.9 3l-.7 3l-3.9 1l-1.3 2l-1.9 1l0 1l1.2 1l0 1l-2.3 .7l-.8-.7l-.2-1.2l-1-.8l-1 .2l-2 3.1l-2.1 .7l.9 3l-.8 2.5l-1 .2l-.7-1.7l-1.3-.8l-2 .1l-1.4 1.7l.4 1l-.5 1l-3.5 3.6l-2 .9l-.3 2.5l-.7 .6l-2 1.2l-4-.3l-1.1 .5l-.4 2l1.3 3l-.8 .7l-3-.4l-4 3.9l-1-1.2l-1-.3l-2 1.1l-1.8-.8l-.2-1.2l.1 4.2l1.9 2l0 1.2l-2 .6l-6-1.7l-1 .2l-2.3 2.7l-.7 2.6l-1 .4l-1.6-1l0-2l-1.4-.5l-.7 .5l-.2 1l1.4 2l0 3l-1.2 2l-1.3 .7l-2-.7l-3-2.5l-.9-1.5l.9-2l-1.7-3l.5-2l-1.8-2l.2-1l.8-.5l2 .4l2-.8l2 .5l1-.3l3-4.3l-3-.5l-.3-.5l1.3-1.1l1.1-3.9l1.7-2l1.2-.2l2.8 2.2l2.2 .3l1.1-2.3l-3.1-1l-1-2l.1-2l2.1-4l3.8-1.2l2 .7l1.3-.5l.5-1l-1.8-1.5l-.6-1.5l.6-1.9l3 .7l1-.3l2-3.4l3.9-.1l1.4-5l1.7-2.3l3-1.7l3 .3l1-2.6l2-1l.5-.7l-1-2l.6-1l2.9-3.9l2.8-1.1l0-2l.6-1l2.6-1.1l7.7-7.9l4.6-2l1.7-1.9l2-.7l1-2.4l1-.5l2 .4l1-3l3-3.9l3 .5l2-.8l1.6-1.7l-.6-3.3l1 0l2 1.7l.8-.4l.6-2l-.6-3l2-3l2.2-2l2 .6l1-.5l1.1-1.1l1.1-3l3.8-2.3l.9-2.7l1-1l6.7-3l2.4-2.3l1.8-.7l1.2-2.7l4-1.6l2 .4l2-1.2l2.2-2.9l.8-.4l2 .3l1-.6l1.3-2.3l2.5-2l1.2-.2l2 1.1l2 .1l0 1.1l3 .5l1-.6l2.1-3zM365.2 271.5l1.3-.3l2 1.1l1-.3l1.1 .5l-4.1 .4l-1-.4l-.3-1zM367.3 278.5l1.4 0l.5 1l-1.7 1.9l-1.1-.9l.9-2z" fill="#00c7ff"/>
<path d="M502 143.5l2.5-1l4 2.7l2-.4l3 1.3l3-1l1 2.2l4-.3l1.6 4.5l.1 5l-.7 1.8l-4.6 7.2l-12.4 8.7l-7 3.2l-2 2.1l-2 .3l-2 2l-5 1.4l-.6 1.3l.7 2l-.3 2l-1.8 1l-2-1.7l-1 .1l-3 2.9l-2 3.4l-4 1.2l-1.6 3.1l-.4 4l-.8 1l-3.2 2l-1 2.2l-6 4.6l-2.3 1.2l-2.7 3.5l-3 .8l-3.1 4.7l-6.6 3l-1.3 2.5l-3 .8l-2 2.7l-6 1.4l-1 2.7l-3 1.4l.1 3.5l-4.1-.2l-1.9 1.2l-3.1 5.4l-3 1.4l-1 3.4l-7 1.2l-.4 .6l.3 4l-1.9 .4l-3 2.8l-1 .3l-2-.8l-2 .7l-2-2.4l-1.7 1l-.2 3l-2.1 1.8l-1 .4l-2-.7l-.8 .5l0 2l-3.2 4.4l-1.1-2.4l-2.9 .1l-.6 1.9l1.4 4l-.8 1.6l-1 .5l-1-.5l-2-4.8l-1.6-1.8l.3-2l-1.5-3l2.8-1.2l3 1.2l2.6-4l1.9-1l-.1-1l-2.4-2l.6-3l1.4-2.1l1 0l1 1.3l4 1.5l1.9-3.7l-.9-1.1l-2-.1l-.9-.8l-.6-2l.3-1l1.9-2l.3-1.3l.8 .3l-.4 2l.6 .3l3-1.9l1.7-.4l1.8-2l-.1-2l-2.4-2l.3-1l2.7 .5l1-.3l1.6-1.2l1.3-2l3.1-.1l1-.9l.5-3l3.1-3l1.2-2l1.2-.1l1 1l1 .1l1-1.1l1-2.6l2.3-2.3l-.6-2l.2-1l2.1-3.2l3-1.3l1-2.9l2.8-1.6l3.2-4l3-1.8l2-2.1l7-3.6l2-2.8l2 .2l1-.8l2-5.1l1-1.3l4 .7l4-3.9l2-.7l1-1.8l.1-3l6.9-6.3l2-4l3.2-1.7l1.8-3.7l6-2.6l9-6.4l3-.3l5-4.7l2 .5l1-.4l1.2-2.4l1.3-1zM409.5 225.3l-.5 .2l1.5 0l-1-.2zM434.9 234.5l.8 0l0 1l-1.2 0l.4-1zM405.5 246.3l-1 .4l-1.8 2.8l1.8 1.6l1.7-3.6l-.7-1.2zM391.7 265.5l.8-.8l1-.1l1.9 1.9l-.1 1l-2.8-.3l-.9-.7l.1-1z" fill="#00d7ff"/>
<path d="M501.4 144.5l2.1-.7l2 .1l2 1.9l3-.1l2 1.3l2-.1l2 1.1l3-.1l1.3 .6l1 2l.7 6l-5 9l-12 8.4l-7 3.1l-2 2.1l-2.7 .4l-2.3 1.5l-4.2 1.5l-1.2 1l-.2 1l.6 3.6l-1 .5l-1-1.6l-2 0l-3.8 3.5l-1.6 3l-.6 .4l-2-.2l-3 2.8l-.9 3l.4 2l-.5 1.4l-4.2 2.6l-1 2l-4.3 4l-3.5 2l-2 2.9l-3 .3l-1.4 2.8l-2.6 3l-6 2.7l-2 2.6l-1 .2l-1-.8l-.8 .3l-1.2 3.3l-2-.1l-2 1.2l-3 .3l-.8 1.3l-.2 1.5l-3.4 .5l.7 4l-3.3 .3l-3 1.6l-2 3.5l-3-.7l-.2 2.3l-1.8 3.6l-1-1.4l-1 .1l-.8 1.7l-1.2 1l-2 .2l-.6-1.2l1.1-4l-.8-1l-1.9 0l-1.3 2l-5.6 5l1.1 .7l2-.8l1-1.3l1-.4l1.2 .8l1.3 3l-.5 1.2l-2.4-.2l.5 3l-.4 1l-1.7 .8l-4-1.7l-1.3-1.1l-.6-2l-1.1-.3l.3 2.3l-3.2 2l-.3 3l-.8 .6l-2-.4l-1.9 .8l.4 3l-1.5 1.9l-5-.7l-.9 .8l-.5 2l1.5 4l-1.1 .5l-.6-.5l-2.2-7l-1.4-2l1.2-1.3l3 1.4l1.2-1.1l1.8-3.5l3.3-1.5l-3.3-3.2l0-1.9l4.9 .1l.6 1l-1.3 3l.8 .9l1 .1l1.1-1l.9-2.2l.5-3.8l1.4-2l-.9-1.4l-3-.6l-.9-2l.7-1l2.2 .7l3-2.4l3-1.2l1.6-2.1l.2-1l-.7-2l.6-1l2.8-1l.9-2l4.5-1l-.2-3l2.3-2.4l3 .1l2-.9l2 .4l1-.5l.5-1.7l-1.1-1l-.2-2l2.8-3l.4-1l-.5-2l1.5-3l2.7-1l.9-.8l.5-2.2l4.1-3l1.4-2.5l3-1.5l3-2.7l5.2-2.3l3-3l3.2-1l2-3l.6-3.2l1-.4l4 .8l1.6-2.2l4.1-3l1.2-2l.3-3l3.8-3.2l2.9-3.8l1.1-2.8l3.6-2.2l1.4-3.3l3-1l6-4l2-.6l4-2.9l4-1.1l4-4.1l3 .8l1.9-3.8zM457.5 184.8l0 1.6l1.2-.9l-1.2-.7zM421.5 234.4l.5 .1l-.5-.1zM400.5 240l-.9 .5l-.1 1l2 .7l.8-.7l-.1-1l-.7-.8l-1 .3zM396.5 247.9l-2.3 2.6l1.3 1.1l1 .1l.9-1.2l-.1-2l-.8-.6zM393 266.5l.5-.5l.4 .5l-.9 0z" fill="#00e7ff"/>
<path d="M503 144.5l2.5 .3l2 1.8l2-.2l2 1.2l3 0l2 1.1l3 .1l.9 .7l1.5 7l-4.4 8.6l-13 9.1l-5.8 2.3l-2.2 2.1l-4.3 .9l-5.7 2.9l-1.4 1.1l-1.1 2l-3.5 1.4l-4 5.7l-1.1-2.1l-.9-.5l-.7 .5l-.5 3l-3 2l-.8 4l.5 3l-5 3l-1.6 3l-2.9 2.8l-3 1.5l-2 3l-3.5 .7l-.8 2l-2.7 3.4l-6 2.9l-2 1.9l-3-1.2l-1 4.1l-1 .4l-2-.8l-1 1.6l-5 1.2l-1.5 1.5l-1.5 .6l-2-1l-2.3 .4l-.7 1l1.1 1l3.9 1.6l.7 1.4l-.7 .6l-6.4 1.4l0 2l-.6 1.3l-1 0l-1.2-1.3l1.9-2l-2.7-1.8l-1 .6l.9 3.2l-1.9 3.6l-3 1.4l-1.1 3l-.9 .4l-.7-.4l1.4-3l-.6-2l-1.1-.7l-3-.4l-1 2.5l-3 2.1l-1-.3l-.1-3.2l.8-2l1.3-.4l2 .3l.8-.9l0-1l-.8-2.2l-1-.5l-3 .3l-.9-1.6l.9-.9l2-.3l2-2.5l3 0l1.8-1.3l-.2-1l-1.1-1l-.1-1l1.6-1.3l3 .7l2-1.7l2 .1l1.8-.8l.6-2l-1.7-2l.1-1l3.7-4l-.5-3l1-2l3-1.1l1-2.6l4-2.8l1.1-2.5l2.9-1.3l2-2l3-1.7l3-1.1l4-3.6l2-.4l3-1.9l1-4.5l4 .6l2-1.7l2 1.6l1.6-1l.6-1l-1.2-2l2.6-3l.4-3.4l3.5-3.6l2.7-4l.8-2.2l4-2.8l1.2-3l2.8-1l12-7.2l4-1.1l4-3.9l2 .9l2-.4l.7-3.3l1.8-1zM410.5 230.5l-1 1l0 1l1 .7l1.5-.7l-.1-1l-1.4-1zM397.1 242.5l.4-.6l.3 .6l-.7 0zM392.3 244.5l3.2-.4l1.3 1.4l-1 2l-2.3 1.7l-2-.5l-.9-1.2l1.7-3zM387.4 246.5l.5 0l-.4 .5l-.1-.5zM388.1 247.5l.6 0l-.6 0zM390.6 252.5l.9-.8l3 .7l3 2.2l3-1.3l2-1.7l1 .6l.5 1.3l-.5 .9l-2 .3l-.2 1.8l.7 2l-.5 .9l-1 .4l-4-2.4l-1-2.7l-2-.8l-1.6 .6l-.3 1l.6 2l-.7 .4l-.7-.4l.5-2l-.8-1.2l.1-1.8zM384.1 256.5l.4-.5l1 .5l-1 .6l-.4-.6zM382 261.5l3.5-.9l1.3 .9l-2.7 2l-.3 1l.7 .3l.8 1.7l-.8 1.2l-4.6-1.2l.6-1.5l.8-.5l.1-2l.6-1zM376.3 266.5l.2-.6l1.2 .6l-.2 1.4l-1.2-1.4z" fill="#00f7ff"/>
<path d="M502 145.5l2.5-.2l3 2.5l2-.6l2 .9l3 .1l5 2.6l1.8 5.7l-3.8 8.2l-4 3.2l-3.5 1.6l-2.5 2.5l-3 2l-6 2.4l-2 1.8l-5 1.1l-4 1.9l-4 2.3l-1.3 2l-2.7-.1l-.9 3.1l-2.1 1.5l-2-1.1l-1 .5l-1.2 4.1l-2.8 1.7l-.3 3.3l-2.4 3l-.2 2l-2.4 2l-1.4 3l-2.3 2.2l-3 1.5l-2 3l-4 1.2l-.8 2.1l-2.2 2.8l-8 4.1l-2-.7l-1 .1l-1 .9l-1 3l-4-1.4l-1 .5l-2 2.4l-2-1l-2 2.2l-3 .6l-2.6 1.5l-.7 1l.3 1.5l5 1.4l.5 1.1l-6.5 1.2l-2-1.3l-2.3 .1l-.6 1l.4 3l-.5 1.7l-3 1.4l-.5-1.1l.7-1l-.2-1.5l-2 2.1l-2 0l-1.1-.6l-.7-4l-.9-1l-1.3-.8l-2 .5l-.8-.7l2.8-.4l1-2.4l1-.3l4 .1l1 3.9l1.2-.9l.7-1l-.1-2l2.7-2l-1.4-3l.3-1l4-1l1.1-1l.5-2l-1.6-2l0-1l4-4l-.9-3l.5-1.4l3-1.1l2-3.3l3.5-2.2l1.5-2.9l2-.6l2-2.1l6.9-3.4l3.1-3.1l6-2l1-.9l-.5-3l.5-.6l2 .6l3-.4l1 .8l3-2l5 .1l.8-.5l-.8-2.4l-1-.3l-3 1l-.8-1.3l3.8-3.3l-.2-3.7l4.2-6l1.2-3l3.2-2l2.4-4l2.2-.7l5-3.4l3-.9l4-2.7l4.4-1.3l3.6-3.3l2 .6l2.5-.3l.8-1l-.3-2l.5-1zM420.5 228.5l1 .9l.9-.9l-.9-.7l-1 .7zM399.5 244.5l2-.7l.8 .7l.1 1l-.9 1.1l-1 .2l-1-.7l0-1.6zM392.2 245.5l2.3-1l1.3 1l0 1l-1.3 1.3l-2 .1l-.5-1.4l.2-1zM402.4 253.5l.1-.5l-.1 .5zM397.9 255.5l1.6-1l1 .8l.7 3.2l-.7 .6l-1.2-.6l-2-2l.6-1zM383.2 266.5l.8 0l-.8 0z" fill="#00ffef"/>
<path d="M502.2 146.5l1.3-.7l1 .4l1.4 1.3l.5 2l1.1 .5l2-2.1l5 .8l2 1l3 2.8l1.3 4l-3.3 7.8l-4 3.4l-4.1 1.8l-1.6 2l-3.3 2.3l-6 2.3l-2 1.6l-5 1.2l-8 3.6l-2 2.4l-3-.5l.1 3.1l-1.1 1.2l-1 .3l-1-.5l-1-1.4l-1.6 .4l-.4 2.6l-3.5 4.4l-.4 4l-2.4 2l-.6 3l-2 2l-1.4 3l-1.7 1.6l-3 1.5l-2 3.1l-4 1.3l-1.9 3.5l-2.1 1.8l-6 3l-1 .2l-1-.7l-2 .4l-3 2.6l-4 .3l-2 1.5l-2-.5l-3 2.7l-1.5-.3l1.6-3l-1.1-.6l-1 .2l-1.8 1.4l.3 3l-1.5 1.2l-2-.7l-2 .1l-1-.7l-1-2.2l1-.8l3-.5l1-1.1l.5-2.3l-.2-1l-1.2-1l-.1-1l4.1-4l.2-1l-1.2-2l.2-1l2.8-1l1.9-3.1l2-.2l7-7.7l7.8-4l3.2-2.9l5-1.1l2-1.7l1-2.1l1-.6l1 0l2 1.8l3-3.5l3 0l2.8 1.1l.5 1l-.8 2l3.6 0l-.1-1l-2.2-2l.2-2l1.7-2l-.7-.9l-1 .1l-1-1.3l-.9-1.9l-.6-4l3.9-6l1.2-3l3.2-2l2.2-3.7l3-1.3l4-2.9l3.7-1.1l4.3-2.8l4.2-1.2l2.8-2.6l3 .4l2-.4l1.1-1.4l-.4-2zM420.5 222.1l-.4 .4l.4 .2l1-.1l-1-.5zM413.4 233.5l1.1 .1l2 1.2l1.7 2.7l.1 1l-.8 .4l-2-1.1l-3.9-.3l-.6-2l.4-1l2-1zM403.2 235.5l3.3 .2l.6 .8l-.3 2l1.4 3l-1.5 2l-1.2 0l-.8-1l.8-4l-2.3-1l-.5-1l.5-1zM410.5 238.5l1 .5l0 3.9l-1.4-2.4l.4-2zM393.2 245.5l1.3-.2l.4 1.2l-1.4 .5l-.5-.5l.2-1zM400.3 245.5l.2-.8l.8 .8l-1 0z" fill="#00ffcf"/>
<path d="M503.9 147.5l.7 0l1.9 3l1.2 0l1.8-1.8l4 .3l2 .6l3 2.9l1.7 3l.1 1l-1.1 4l-1.7 3.3l-4 3.7l-4.5 2l-1.5 2l-3 2l-5.1 2l-3.9 2.2l-4.1 .8l-5.9 2.8l-2 .3l-2 2.4l-3-.8l-.8 .3l.2 3l-.4 1.3l-1 .2l-2-1.8l-2 .2l-.7 1.1l.3 1l-.6 1.7l-1 .5l-1-.3l-2-2.9l1.2-2l.3-2l-.5-1.1l-2.1 .1l-1.2-2l-.6-3l0-1l1.8-2l.4-2l1.6-2l1.1-3l3.1-2l1.9-3.3l3-1.4l4-2.9l3-.7l5-3.2l4-1.1l3-2.4l5 0l2.4-3zM459.1 188.5l1.4-.7l3.5 .7l.6 1l-1.1 1.9l-2.6 .1l1.6 1l1-.4l1 .6l3 .1l.8 .7l-.8 .7l-1.7 .3l-.5 1l1.2 .9l1-.4l.7 1.5l-.7 1.4l-2.1 1.6l-.8 3l-3 5l-4.1 2.6l-2 3.1l-1 .7l-3 .6l-3 4.6l-6 3.4l-1 .2l-2-1l-4 2.4l-5 1.4l-1.1 0l-.9-1.1l-3 .9l-2-1l-5 3.2l0 2.1l-1 .5l-3 0l-1-.5l0-1.4l4.9-.7l-.1-3l1.1-2l3.1 .7l.5-.7l-.5-1l-2.6-2l.1-1l1.5-2l2-.7l.5-1.3l-.5-.7l-2 .8l-1-.5l-.1-1.6l2.1-.2l2-2.1l2-.1l1.3-2.6l3.8-3l1.9-3.2l8.8-4.8l2.2-2.2l5.2-.8l1.8-1.4l2-3.2l1 .1l2 2.1l1-.4l1.6-3.2zM417.4 221.5l1.1 0l-1 .6l-.1-.6zM413.1 234.5l1.4 .5l1.3 1.5l-2.3 .7l-1-.3l-.7-1.4l1.3-1zM406.1 240.5l.4-.3l1 1.3l-1 1.3l-1.1-.3l0-1l.7-1z" fill="#00ffaf"/>
<path d="M503.4 149.5l1.1-.5l2 1.8l1 0l3-1.6l4 .4l1.6 .9l3.4 4.6l.4 1.4l-.6 3l-1.9 4l-3.9 3.8l-5 2.2l-1.3 2l-1.7 1.2l-9 4.3l-6.1 1.5l-4.9 2.2l-2-.2l-1 .6l-1 2l-1 .3l-3-1.8l-3 .5l-.5 .4l.5 1.1l2 .9l0 1.9l-2-.9l-3.8 1l.5 2l-.5 1l-1.2-.5l-.4-1.5l.8-1l-.4-5.2l-2 .6l-1-.4l-1.2-2l-.3-2l.2-1l1.4-1l.5-3l1.6-2l1.2-3l2.9-2l1.7-3l3-1.4l4-3l3-.6l5-3.2l4-1l3-2.3l4 .1l2.9-1.6zM460.5 188.5l3 .6l0 1.3l-1 .2l-2.9-1.1l.9-1zM453.1 191.5l.4-.5l1 0l2 1.9l3-1l4 1.7l1 .9l1 3.6l1-.1l.1 .5l-1.1 .4l-.8 1.6l-3.2 7.3l-4 2.8l-2.9 3.9l-3.5 1l-2.6 4l-5.2 3l-1.8 .3l-2-.6l-4 2.4l-5 1.3l-2-1.2l-3 .2l-1-.7l-3.4-3.7l-.2-1l.6-1.1l2-.7l.8-1.2l.3-2l-.6-1l.5-.8l2.6-1.2l1.4-3l4-3l1.9-3l9.1-4.8l1.9-2.2l3.1-.1l2.5-.9l2.1-3zM419.7 224.5l1.1 0l1 1l-2.3 1.4l-.5-.4l0-1l.7-1z" fill="#00ff8f"/>
<path d="M502.8 150.5l1.7-.5l3 1.1l3-1.4l5 .8l4 6l-.8 4l-1.7 3l-3.5 3.6l-5 2.2l-1.6 2.2l-2.4 1.7l-9 3.9l-5.8 1.4l-4.2 1.7l-3 0l-2 2.4l-3-1.9l-4 .4l-.7 .4l1.1 3l-1.9 1l-1.5 .1l-.5-1.1l.4-3l-.7-2l-1.2-.1l-1 1.1l-1-.1l-1.2-2.9l2.2-2l0-3l1.6-2l.5-2l3.5-3l1.4-2.5l3-1.6l4-3.1l3.6-.8l4.4-3l4.2-1l2.8-2l4-.1l2.3-.9zM453.4 192.5l1.1-.3l2 1.5l3-.7l1 .3l3 1.8l.5 1.4l.3 3l-1.8 3l-1 3.8l-1.7 2.2l-2.7 2l-1.8 3l-4.6 2l-2.8 4l-5.4 2.6l-3-.3l-4 2.3l-4 1.3l-1 0l-2-1.2l-3 0l-1-.8l-2.9-3.9l2.8-2l1.1-4l2-1.5l2-4l2.7-1.5l4.3-4.7l3-1l2-1.9l3-.9l1-1.8l4-.5l3-1.2l.9-2zM459.5 198.4l-.5 1.1l.5 .5l.7-.5l-.7-1.1z" fill="#00ff70"/>
<path d="M509.3 150.5l1.2-.5l3 .3l2 .8l3.6 5.4l-.2 2l-1.5 4l-3.5 4l-5.4 2.5l-3.3 3.5l-9.7 4.4l-9 2.6l-4 .1l-2 1.9l-3-1.6l-3 .9l-3-.4l-2-2.1l-1-.3l-1 1.2l-1 .2l-.6-1.9l1.9-1l-.1-3l1.8-3l.4-2l3.4-3l1.2-2.1l7-4.9l4-.9l4-2.8l4.9-1.3l3.1-1.9l4-.1l2-.9l4 .8l1.8-.9zM471.1 182.5l.4-.7l1.3 1.7l.1 1l-1.4 .6l-1-.5l.6-2.1zM454.4 193.5l1.1 .8l3 .4l1 .9l3 .4l.5 .5l.4 3l-1.9 2.4l-.5 3.6l-4.5 5.3l-1.5 2.7l-4.9 2l-2.6 3.7l-4 1.9l-4.2 .4l-3.8 2.2l-5 1.2l-2-1.2l-3 0l-1-.9l-1.5-2.3l.4-1l1.1-.3l.6-2.7l3.2-5l1.2-3l3.4-2l3.6-4.2l3-.7l2-2.1l3.7-1l1.3-1.9l7-1.4l.9-1.7zM459.5 197.1l-1.2 2.4l.6 1l1.6 .1l.7-1.1l-.1-1l-.6-1.1l-1-.3z" fill="#00ff50"/>
<path d="M510 150.5l3.5 .2l1.8 .8l3.3 5l-.1 2.7l-1.5 3.3l-3.3 4l-5.2 2.3l-2.2 2.7l-1.8 1.3l-11 4.5l-7 1.9l-4 .1l-2 1.1l-1 0l-2-1.1l-1-.1l-2 1l-3-.9l-2.8-2.8l-.7-3l1.8-3l.4-2l3.3-2.9l1.3-2.1l6.7-4.8l3-.5l5-3.2l5-1.4l3-1.6l4-.2l2-.9l4 .7l2.5-1.1zM471.3 183.5l.5 0l-.3 1l-.2-1zM449.4 196.5l2.1-.7l3 1l3-1l.7 .7l-.1 4l2.1 1l.5 1l-.5 3l-1.2 1l-4.4 7l-5 2l-2.1 3.2l-4 1.9l-5.2 .9l-2.8 1.8l-3 .1l-2 .9l-2-1.1l-2 .3l-1.7-1l-.5-2l1.5-1l-.4-3l1.8-2l2.8-6l3.4-2l3.4-4l2.7-.3l2-2l4-1.2l1.4-1.5l2.5-1z" fill="#00ff30"/>
<path d="M503.1 151.5l4.4 .2l3-1.1l3 .4l1.2 .5l1.6 2l1.9 3l.1 2l-1.6 4l-3.2 4l-5 2l-4 4.1l-9 3.8l-9 2.5l-4 .2l-3 .8l-3-1.6l-2 1.4l-3-1.2l-2.3-2l-.8-3l1.7-3l.4-2l5-5.3l6-4.3l3-.4l6-3.7l4-1l3-1.5l5.6-.8zM450.2 196.5l2.3 0l2 1.4l2-.3l.8 .9l.3 2l2.5 2l0 2l-1.8 2l-3.8 6.7l-5.7 2.3l-1.3 2.4l-1 .6l-3 1.4l-6 1.5l-2 1.4l-3-.1l-2 1.1l-2-1.1l-2 .2l-1.1-.4l-.5-1l.6-.7l1.4-.3l.1-1l-1.3-2l.2-1l2.1-2l2.5-6l3-1.7l4-4.3l3 .1l1.6-2.1l3.8-1l2.3-2l2-1z" fill="#00ff10"/>
<path d="M508.8 151.5l1.7-.6l4 1l3.3 4.6l.1 2l-1.5 4l-2.9 3.7l-2 1.2l-3.3 1.1l-3.7 3.9l-11 4.5l-7 1.7l-6 .8l-1 0l-3.2-1.9l-1 0l-.8 1.2l-2-.4l-3-2.1l-.8-2.7l1.4-2l.6-3l4.7-5l6.1-4.4l3-.4l6-3.8l4-.9l3-1.4l4-.3l2-.7l3 .3l2.3-.4zM448.9 197.5l2.6-.9l1 .6l.8 1.3l-.8 1.3l2-.9l2-.1l1 2.3l2 1.4l.1 2l-3.2 4l-1.9 4.3l-6 2.3l-2 2.6l-6 2.6l-3 .6l-2 1.4l-3-.2l-2 1.1l-2.7-1.7l-.2-2l-1.5-2l.2-1l2.4-2l1.8-5.5l3-1.7l4-4.5l3 .4l2-2.3l4-1.2l2.4-2.2z" fill="#10ff00"/>
<path d="M509.2 151.5l2.3-.2l3 1.2l2.9 4l.2 2l-1.6 4l-2.5 3.4l-2 1.4l-3.6 1.2l-3.4 3.7l-11 4.5l-13 2.4l-5-2.3l-2 1.1l-1-.1l-2-1l-1.1-1.3l-.3-2l1.4-2l.5-3l4.5-4.8l6-4.4l3-.4l6-3.8l7-2.2l11.7-1.4zM449.7 197.5l2.3 0l.1 1l-.8 1l.2 1.2l2 .1l2-1.4l3.8 4.1l-.2 1l-3.6 4l-1.2 4l-5.8 2.1l-2 2.1l-2 1.2l-1 .1l-1-.8l-1 .1l-.2 2.2l-.8 .4l-3 .3l-3 1.8l-2-.5l-2 1.2l-1-.5l-2.8-4.7l2.7-3l1.1-5l3-1.8l4-4.6l3 .7l3-3.1l3-.6l3.2-2.6z" fill="#30ff00"/>
<path d="M509.8 151.5l1.7 0l2.5 1l3.1 4l0 2l-.7 1l-.2 2l-2.7 4.1l-1 1l-5 1.9l-3 3.5l-12 4.8l-12 2l-5-2.4l-2 .9l-2-.2l-1.8-1.6l-.3-2l1.5-2l.3-3l4.3-4.6l6-4.4l4-.9l5-3.3l8-2.4l9-.7l2.3-.7zM448.9 198.5l1.6-.7l.6 .7l-.6 2.1l2 .7l3-.5l3.2 2.7l-.3 1l-1.9 2.1l-1.6 .9l0 3l-1 2l-5.4 1.7l-4 3.1l-3-.6l-.7 .8l-.2 2l-1.1 .4l-3-.6l-1 1.6l-1 .3l-2-.3l-2 1.1l-1-.4l-1.8-4.1l2.2-3l.6-4.4l3-2.1l4-4.6l3 1l3-3.3l4-.9l1.4-1.7z" fill="#50ff00"/>
<path d="M503.2 152.5l7.3-.9l2 .5l1 .4l3.3 4l.3 1l-1 2l-.3 2l-3.3 4.9l-5 2l-2.6 3.1l-1.4 .9l-11 4.2l-12 1.9l-5-2.4l-3 .9l-2.6-1.5l-.2-2l1.5-2l.3-3l4-4.3l6-4.4l3-.5l7-4.2l7-2l4.7-.6zM448.8 199.5l.7-.7l.3 .7l-.5 2l6.2 .3l2.4 1.7l-1.4 2.5l-2.6 1.5l.6 3l-1 1.9l-5 1.4l-4 3l-3.6-.3l-.7 1l.2 1l-.9 1l-1-.1l-1-1.2l-1-.1l-2 2.3l-2-.1l-2 .8l-1-.6l-.9-3l1.4-2l.3-4l1.2-1.9l2-1.2l4-4.6l1 0l2 1.5l1-.2l2.1-3.6l3.9-.6l.9-.4l.4-1z" fill="#70ff00"/>
<path d="M507.1 152.5l3.4-.7l2.4 .7l2.8 3l1.1 2l-1.1 2l-.2 2l-2.4 4l-1.1 1l-4.9 2l-2.6 3.1l-12 4.8l-11 1.8l-1 0l-5-2.4l-3 .8l-2.3-1.1l-.2-2l1.5-2l.2-3l3.8-4l6-4.4l3-.6l7-4.2l8-2.2l7.6-.6zM444.4 201.5l3 0l1.1 1.3l2-.7l4 0l2.5 1.4l-.7 2l-2.8 1l-.5 1l1 2l-.5 2.3l-1 .8l-4 .8l-4 3l-4.6 .1l-.4 2.3l-1-.3l-.2-1l-.8-.6l-1 .4l-2 2.3l-4.3-.1l-.7-.6l-.2-1.4l1.4-2l-.3-3l.7-2l2.4-1.6l4-4.8l1 0l2 1.9l1.6-.5l1.3-1l-.1-2l1.1-1z" fill="#8fff00"/>
<path d="M507.9 152.5l2.6-.5l2 .6l3 3l1 1.9l-1.1 2l-.2 2l-2.3 4l-6.1 3l-2.4 3l-11.9 4.8l-11 1.7l-6-2.4l-3 .7l-2-.8l-.5-1l1.8-3l.2-3l3.7-4l5.8-4.2l3-.6l7-4.3l8-2.1l8.4-.8zM444.3 202.5l1.2-.8l1 0l2 2.3l2-1.5l2-.3l2 .3l1.7 1l.2 1l-.9 1l-5.6 2l.6 .5l2 0l.9 1.5l-.2 2l-1.7 1l-3 .5l-4 3l-7 .2l-3 2.8l-1 .3l-2.6-.8l-.6-1l1-2l-.6-3l.8-2l2-1.1l4-4.9l1 0l1 1.9l1 .2l4-2.1l-.2-2z" fill="#afff00"/>
<path d="M508.6 152.5l1.9-.3l2 .8l3 2.9l.7 1.6l-1 2l-.2 2l-2.3 4l-6.1 3l-3.1 3.4l-11 4.2l-11 1.7l-6-2.4l-3 .6l-2-1.1l.1-1.4l1.5-2l.1-3l3.7-4l5.6-3.9l3-.7l7-4.3l8-2.1l9.1-1zM445.4 202.5l1.3 0l.7 2l1.1 .7l1.2-1.7l1.8-.8l2-.1l2 .9l.3 1l-1.3 .8l-3 1l-2-.1l-1.1 2.3l-2 2l1.1 .3l4-1.9l1.2 .6l-.2 2l-4 1l-4 3.2l-7-.1l-3 2.9l-2.2 0l-.7-1l.2-2l-.8-3l.5-1.4l2-1l4-5.1l1 .1l1 2.2l1-.3l4.9-2.5l0-2z" fill="#cfff00"/>
<path d="M509.3 152.5l1.2-.1l2 .9l3.2 3.2l.2 1l-1.2 4l-2.3 4l-5.9 2.9l-3 3.3l-11 4.2l-11 1.7l-6-2.4l-4 .4l-.9-1.1l1.8-3l.1-3l4-4.3l5-3.4l3-.8l7-4.3l8-2l9.8-1.2zM450.3 203.5l3.2-.6l1.4 .6l.1 1l-4.5 1.2l-.8-1.2l.6-1zM437.5 205.5l2 2.5l7-3.2l1.7 1.7l-.1 1l-.7 1l-2.2 1l.2 1l2.1 2l-3 2.8l-7-.1l-1 .4l-2 2.5l-1 .3l-1.3-.9l-.7-5.8l2.5-1.2l.9-2l2.6-3z" fill="#efff00"/>
<path d="M503.7 153.5l6.8-.9l2 1.1l2.8 2.8l.3 1l-1.2 4l-2.3 4l-5.6 2.7l-2.9 3.3l-11.1 4.2l-10 1.6l-2-.3l-1-1l-4-1l-3 .4l-1.6-.9l1.6-2.4l.3-3.6l3.7-4.1l5-3.3l3-.9l7-4.3l8-2.1l4.2-.3zM451.2 203.5l2.8 0l-.1 1l-2.4 .6l-1-.2l-.3-.4l1-1zM437.5 206.5l2 2.1l3-1.9l4-.9l.8 .7l0 1l-3.2 2l.3 1l2.4 2l-.4 1l-2.9 1.8l-5-.7l-2 .4l-2 2.6l-1 .3l-.6-.4l-1.3-5l.9-1.1l2-.3l.7-2.6l2.3-2z" fill="#fff700"/>
<path d="M505.7 153.5l3.8-.7l2 .5l3.5 3.2l.3 1l-1.1 4l-2.4 4l-5.3 2.6l-3.3 3.4l-5.7 2.5l-5 1.5l-10 1.6l-2-.4l-1-1.1l-5-1.1l-2 .4l-1.2-.4l1.4-2l.4-4l3.5-4l4.9-3.2l3-.9l7-4.3l8-2.1l6.2-.5zM437.2 207.5l1.3 1.5l1 .3l3-2.2l3 .1l-2 2l-.2 1.3l2.7 2l-.1 1l-1.4 1.1l-2 .3l-6-.7l-1-.8l-.6 3.1l-1.4 .9l-.4-2.9l-1-2l1.4-.5l1 .5l.8-1l.4-3l1.5-1z" fill="#ffe700"/>
<path d="M506.4 153.5l3.1-.5l1.9 .5l3.2 3l.3 1l-1 4l-2.4 4l-5 2.4l-3.6 3.6l-5.4 2.4l-5 1.4l-6 .6l-4 1l-1.8-.4l-1.2-1.4l-2 0l-4.6-1.6l.5-5l3.5-4l4.6-2.9l3-1l7-4.4l6-1.2l2-.9l6.9-.6zM442.4 207.5l.7 0l.1 1l-.7 2l2.6 2l.1 1l-1.7 1.1l-2 0l-5-1.4l-.6-3.7l.6-1.2l1 .1l1 1.5l1 .1l2.9-2.5zM434 215.5l.5-.2l0 .7l-.5-.5z" fill="#ffd700"/>
<path d="M507.4 153.5l3.4 0l3.4 3l.4 1l-1 4l-2.1 3.6l-5 2.7l-3.9 3.7l-5.1 2.3l-5 1.3l-6 .5l-4 1.1l-1.3-.2l-1.7-1.8l-2 .2l-3.8-1.4l.1-5l3.3-4l4.4-2.7l3-1l5-2.7l2-1.7l6-1.2l2-.9l3 .1l4.9-.9zM437 210.5l.5-.5l2 .7l2-.4l2.6 3.2l-2.6 .7l-4-1.1l-.7-.6l.2-2z" fill="#ffc700"/>
<path d="M508.9 153.5l2.6 .8l2.2 2.2l.5 1l-.9 4l-1.8 3.3l-6.3 3.7l-3 3l-4.7 2.1l-5 1.3l-6 .5l-4 1l-1-.1l-2-2l-2 .4l-3.3-1.2l-.5-1l.5-4l3.1-4l4.2-2.5l3-1.1l7.3-4.4l5.7-1l2-1l3 .1l6.4-1.1zM437.4 211.5l1.7 0l-.2 1l-.8 0l-.7-1zM439.7 212.5l.8-.8l1 .4l1.1 1.4l-1.6 0l-1.3-1z" fill="#ffb700"/>
<path d="M505 154.5l2.5-.6l3 .1l2.8 2.5l.3 2l-.6 3l-1.5 3l-6.6 4l-3.1 3l-4.3 2l-3 .3l-2 .9l-6 .5l-4 .9l-1-.2l-2-1.9l-2 .4l-3-1.2l-.4-.7l.5-4l3-4l3.9-2.3l3-1.1l3-2.1l2-.5l2.8-2l5.2-.8l2-1l5.5-.2zM509.5 157.8l0 .8l.7-.1l-.7-.7z" fill="#ffa700"/>
<path d="M505.8 154.5l3.7-.3l2.4 1.3l1.3 2l-.5 4l-1.5 3l-8 5l-1.8 2l-3.9 1.8l-3 .3l-3 1.1l-5 .2l-4 1l-1-.3l-1-1.5l-1-.5l-3 .4l-1.4-.5l-.7-1l.7-4l2-3l4.4-3.1l3-1.1l3-2.1l2.3-.7l3.2-2l4.5-.7l2-.9l4 .2l2.3-.6zM509.5 157l-.6 1.5l.6 .6l1.6-.6l-.6-1.5l-1 0z" fill="#ff9700"/>
<path d="M506.6 154.5l2.5 0l2.4 1.3l.5 .7l-.5 .6l-1-1.1l-1 .2l-1 2.3l1 1l2-.6l.7 .6l.1 2l-1.4 3l-8.2 5l-1.7 2l-3.5 1.6l-3 .3l-3 1.1l-4 0l-5 1.1l-2-2l-4 .2l-1-.3l-.8-1l.9-4l1.8-3l4.1-2.9l3-1.1l3-2.2l6.3-2.8l3.7-.5l2-.9l4 .2l3.1-.8z" fill="#ff8700"/>
<path d="M499.1 155.5l1.4-.3l3 .4l4-.9l1.6 .8l-.6 3.7l1 .6l2 0l.5 .7l-1.4 4l-8.1 4.7l-1.9 2.3l-3.1 1.5l-3 .2l-3 1.2l-4-.2l-5 1l-2-2.1l-2-.1l-2 .6l-1.4-1.1l.9-2l0-2l2.6-4l13.9-7.3l6.6-1.7z" fill="#ff7800"/>
<path d="M499.5 155.5l4 .3l4-.7l.7 .4l.1 4l3.1 1l.1 1l-1.3 3l-7.7 4.4l-2.4 2.6l-2.6 1.3l-3 .1l-3 1.3l-4-.4l-4 1.2l-1-.2l-2-2.1l-2-.1l-2 .5l-1.1-.6l1.1-2l0-2l2.6-4l3.2-2l2.2-.6l3-2.3l5-2.2l5-1l2-.9z" fill="#ff6800"/>
<path d="M506.2 155.5l1.3 0l.6 1l-.2 2l.6 1.5l2 .5l.5 1l-.5 2l-.7 1l-4.3 2.9l-3 1.1l-2.9 3l-2.1 1.1l-3 .1l-3 1.3l-4-.5l-4 1.2l-1-.4l-1-1.9l-4-.9l-.7-2l1.6-4l3.1-2.4l3-1l3-2.3l7-2.8l6-1.5l3 .6l2.7-.6z" fill="#ff5800"/>
<path d="M498.6 156.5l1.9-.7l3 .5l3-.6l1 .4l.4 3.4l2.6 2l-.4 2l-4.6 3.7l-3.4 1.3l-3 3l-1.6 .9l-3 0l-3 1.4l-4-.6l-4 1.3l-2-2.5l-2-.2l-1.8-1.3l-.4-1l1.4-4l2.8-2.2l3-1l3-2.3l5-2.1l6.1-1.4z" fill="#ff4800"/>
<path d="M499.1 156.5l1.4-.5l3 .6l3-.6l.9 .5l.3 3l2.1 2l-.1 2l-4.2 3.6l-3.8 1.4l-1.5 2l-1.5 1l-2.2 .7l-2-.2l-3 1.6l-2 .1l-2-.8l-3 1.3l-1-.2l-2-2.4l-2-.3l-1.1-.8l-.5-1l1.2-4l2.4-2l3-.9l3-2.5l7-2.6l4.6-1z" fill="#ff3800"/>
<path d="M499.8 156.5l6.9 0l.7 3l1.8 2l.3 1l-.3 1l-3 3l-4.7 1.9l-2 2.3l-2 1.1l-3-.1l-3 1.7l-1.7 .1l-2.3-.9l-3 1.3l-1-.3l-2-2.4l-2-.5l-1-1.2l.9-4l2.5-2l2.6-.3l4-3.3l11.3-3.4z" fill="#ff2800"/>
<path d="M497 157.5l3.5-1l3 .6l3-.3l.7 2.7l1.5 2l.3 1l-.4 1l-2.7 3l-4.4 1.7l-2 2.2l-1.9 1.1l-3.1-.1l-3 1.8l-1 .2l-3-1l-3 1.3l-5.3-4.2l.3-3.5l2.8-2.5l1.8 0l.4 1.5l.5-.5l-.2-1l2.7-3l9.5-3z" fill="#ff1800"/>
<path d="M497.8 157.5l2.7-.7l6 .5l2 5.2l-1.7 3l-2.3 1.6l-3 .8l-3 2.6l-1 .5l-3 0l-2 1.5l-2 .7l-3-1l-3 1.2l-5-4.5l.1-2.4l2.9-2.8l1 .1l1 1.9l1 0l.1-2.2l2.4-3l9.8-3z" fill="#ff0800"/>
<path d="M498.7 157.5l1.8-.4l5.6 .4l1.9 5l-1.5 3l-1 .9l-4 1.3l-3 2.4l-4 .5l-2.3 1.9l-1.7 .5l-2-1.1l-4 1.1l-4.5-4.5l-.1-2l2.6-2.5l2 2.1l1 .1l.7-.7l-.2-2l2.4-3l10.3-3z" fill="#ff0000"/>
<path d="M499.9 157.5l5.6 .2l.7 .8l1.4 3l-.1 1l-1.2 3l-1.2 1l-3.6 1l-2 1.8l-5 1l-2.7 2.2l-1.3 .3l-2-1.1l-4 .9l-2.5-2.1l-1.5-2.2l-.2-1.8l2.2-2.1l2 2.1l1.2 0l1-1l-.3-2l2.1-2.7l3-1.3l3-.3l5.4-1.7zM500.5 160.4l-.5 .1l.5-.1z" fill="#ff0000"/>
<path d="M496.9 158.5l4.6-.9l2 .7l2-.1l1.7 3.3l-1.2 4l-1.5 1.1l-3 .6l-2 1.8l-6 1.4l-2.3 2.1l-.7 .1l-2-1.2l-4 .9l-2.2-1.8l-1.4-3l1-2l.6-.3l2 1.6l2-.3l.8-1l0-2l1.2-2.3l3-1.5l3-.2l2.4-1zM499.5 159.4l-.5 1.1l.5 .8l1 0l.8-.8l-.8-1l-1-.1zM488.5 163.3l.6 1.2l2.4 .7l0-.9l-3-1z" fill="#ff0000"/>
<path d="M497.6 158.5l1.3 0l-.3 2l.9 1.3l1.7-.3l.9-1l-2.1-2l1.5-.4l2 .9l2-.2l1.4 2.7l-1.2 4l-1.5 1l-2.7 .4l-2 1.8l-2 0l-4 1.3l-1.2 1.5l-1.8 .9l-2-1.2l-4 .8l-1.9-1.5l-.7-2l.6-1.7l3 .4l3-2l3.7 .3l.4-1l-3.4-2l-.4-1l2.7-1.6l3-.1l3.1-1.3z" fill="#e90000"/>
<path d="M495.9 159.5l1.6-.5l.8 .5l.2 2.3l2 .4l3-2.2l2-.4l1 1.9l-1 3.9l-2 1l-2 .2l-2 1.7l-2-.2l-2 1.2l-2 .2l-1.6 2l-1.4 .5l-2-1l-4 .7l-1.6-1.2l-.5-2l.7-1l3.4-.2l2-1.5l3 .3l1.7-.6l.3-1l-3.4-2l-.5-1l1.9-1.4l4.4-.6zM495.5 164.3l-1 .2l-.1 1l2 0l-.9-1.2z" fill="#d20000"/>
<path d="M496.7 159.5l.9 0l.3 2l1.1 1l2.5-.1l3-2.2l1 .1l.4 1.2l-.4 3.1l-1 1.1l-2-.2l-1 .5l-2 1.9l-2-.7l-2 1.8l-2.6 .5l-1.5 2l-.9 .2l-2-1l-3 .9l-2.4-1.1l-.4-1l.8-1.6l2 .1l3-1.8l3 .2l2-.6l3 .5l.6-.8l-.6-1.5l-3 0l-2.7-1.5l-.7-1l1.4-1.2l3 0l2.2-.8zM502.5 164l-.5 .5l.5 1l.6-1l-.6-.5z" fill="#ba0000"/>
<path d="M491.5 160.5l3 .2l2-.8l1 .6l0 2l3.6 1l-.3 3l-1.4 1l-1.5-1l-1.4-3.3l-3 .2l-2-.8l-.8-1.1l.8-1zM503.2 161.5l1.3-.5l.7 .5l-.7 3.3l-2.2-2.3l.9-1zM488.9 166.5l2.6 .4l2-.6l2 .3l1.1 .9l-1.1 1.2l-3 .5l-2 2l-2-.7l-3 .8l-2.1-.8l-.3-1l.4-1.1l2 0l3.4-1.9z" fill="#a30000"/>
<path d="M492.3 160.5l2.2 .7l2-.9l.4 1.2l-.6 1l-3.8 .2l-1.4-1.2l1.2-1zM503.4 162.5l.4 0l-.4 0zM498 163.5l1.5-.2l1 .7l.2 1.5l-1.2 1.5l-1.4-1.5l-.1-2zM487.7 167.5l1.8-.8l6.5 .8l-.5 .8l-3 .2l-2 2l-2-.4l-3 .8l-1.5-.4l-.5-.8l4.2-2.2z" fill="#8b0000"/>
</g></g>
<line x1="57.5" y1="577.5" x2="617.5" y2="46.0" stroke="#000" stroke-width="3.1" stroke-dasharray="14.6 10.6" stroke-dashoffset="0"/>
<line x1="57.5" y1="534" x2="617.5" y2="78.5" stroke="#ff0000" stroke-width="3.1"/>
<rect x="57.5" y="46.0" width="560.0" height="531.5" fill="none" stroke="#5e5e5e" stroke-width="1.1"/>
<path d="M162.5 577.5v-5.5M162.5 46.0v5.5M302.5 577.5v-5.5M302.5 46.0v5.5M442.5 577.5v-5.5M442.5 46.0v5.5M582.5 577.5v-5.5M582.5 46.0v5.5M57.5 78.5h5.5M617.5 78.5h-5.5M57.5 145.2h5.5M617.5 145.2h-5.5M57.5 211.8h5.5M617.5 211.8h-5.5M57.5 278.5h5.5M617.5 278.5h-5.5M57.5 345.2h5.5M617.5 345.2h-5.5M57.5 411.9h5.5M617.5 411.9h-5.5M57.5 478.5h5.5M617.5 478.5h-5.5M57.5 545.2h5.5M617.5 545.2h-5.5" stroke="#3a3a3a" stroke-width="1" fill="none"/>
<rect x="639.0" y="46.00" width="42.0" height="531.50" fill="#8b0000"/>
<rect x="639.0" y="54.30" width="42.0" height="523.20" fill="#a30000"/>
<rect x="639.0" y="62.61" width="42.0" height="514.89" fill="#ba0000"/>
<rect x="639.0" y="70.91" width="42.0" height="506.59" fill="#d20000"/>
<rect x="639.0" y="79.22" width="42.0" height="498.28" fill="#e90000"/>
<rect x="639.0" y="87.52" width="42.0" height="489.98" fill="#ff0000"/>
<rect x="639.0" y="95.83" width="42.0" height="481.67" fill="#ff0000"/>
<rect x="639.0" y="104.13" width="42.0" height="473.37" fill="#ff0000"/>
<rect x="639.0" y="112.44" width="42.0" height="465.06" fill="#ff0800"/>
<rect x="639.0" y="120.74" width="42.0" height="456.76" fill="#ff1800"/>
<rect x="639.0" y="129.05" width="42.0" height="448.45" fill="#ff2800"/>
<rect x="639.0" y="137.35" width="42.0" height="440.15" fill="#ff3800"/>
<rect x="639.0" y="145.66" width="42.0" height="431.84" fill="#ff4800"/>
<rect x="639.0" y="153.96" width="42.0" height="423.54" fill="#ff5800"/>
<rect x="639.0" y="162.27" width="42.0" height="415.23" fill="#ff6800"/>
<rect x="639.0" y="170.57" width="42.0" height="406.93" fill="#ff7800"/>
<rect x="639.0" y="178.88" width="42.0" height="398.62" fill="#ff8700"/>
<rect x="639.0" y="187.18" width="42.0" height="390.32" fill="#ff9700"/>
<rect x="639.0" y="195.48" width="42.0" height="382.02" fill="#ffa700"/>
<rect x="639.0" y="203.79" width="42.0" height="373.71" fill="#ffb700"/>
<rect x="639.0" y="212.09" width="42.0" height="365.41" fill="#ffc700"/>
<rect x="639.0" y="220.40" width="42.0" height="357.10" fill="#ffd700"/>
<rect x="639.0" y="228.70" width="42.0" height="348.80" fill="#ffe700"/>
<rect x="639.0" y="237.01" width="42.0" height="340.49" fill="#fff700"/>
<rect x="639.0" y="245.31" width="42.0" height="332.19" fill="#efff00"/>
<rect x="639.0" y="253.62" width="42.0" height="323.88" fill="#cfff00"/>
<rect x="639.0" y="261.92" width="42.0" height="315.58" fill="#afff00"/>
<rect x="639.0" y="270.23" width="42.0" height="307.27" fill="#8fff00"/>
<rect x="639.0" y="278.53" width="42.0" height="298.97" fill="#70ff00"/>
<rect x="639.0" y="286.84" width="42.0" height="290.66" fill="#50ff00"/>
<rect x="639.0" y="295.14" width="42.0" height="282.36" fill="#30ff00"/>
<rect x="639.0" y="303.45" width="42.0" height="274.05" fill="#10ff00"/>
<rect x="639.0" y="311.75" width="42.0" height="265.75" fill="#00ff10"/>
<rect x="639.0" y="320.05" width="42.0" height="257.45" fill="#00ff30"/>
<rect x="639.0" y="328.36" width="42.0" height="249.14" fill="#00ff50"/>
<rect x="639.0" y="336.66" width="42.0" height="240.84" fill="#00ff70"/>
<rect x="639.0" y="344.97" width="42.0" height="232.53" fill="#00ff8f"/>
<rect x="639.0" y="353.27" width="42.0" height="224.23" fill="#00ffaf"/>
<rect x="639.0" y="361.58" width="42.0" height="215.92" fill="#00ffcf"/>
<rect x="639.0" y="369.88" width="42.0" height="207.62" fill="#00ffef"/>
<rect x="639.0" y="378.19" width="42.0" height="199.31" fill="#00f7ff"/>
<rect x="639.0" y="386.49" width="42.0" height="191.01" fill="#00e7ff"/>
<rect x="639.0" y="394.80" width="42.0" height="182.70" fill="#00d7ff"/>
<rect x="639.0" y="403.10" width="42.0" height="174.40" fill="#00c7ff"/>
<rect x="639.0" y="411.41" width="42.0" height="166.09" fill="#00b7ff"/>
<rect x="639.0" y="419.71" width="42.0" height="157.79" fill="#00a7ff"/>
<rect x="639.0" y="428.02" width="42.0" height="149.48" fill="#0097ff"/>
<rect x="639.0" y="436.32" width="42.0" height="141.18" fill="#0087ff"/>
<rect x="639.0" y="444.62" width="42.0" height="132.88" fill="#0078ff"/>
<rect x="639.0" y="452.93" width="42.0" height="124.57" fill="#0068ff"/>
<rect x="639.0" y="461.23" width="42.0" height="116.27" fill="#0058ff"/>
<rect x="639.0" y="469.54" width="42.0" height="107.96" fill="#0048ff"/>
<rect x="639.0" y="477.84" width="42.0" height="99.66" fill="#0038ff"/>
<rect x="639.0" y="486.15" width="42.0" height="91.35" fill="#0028ff"/>
<rect x="639.0" y="494.45" width="42.0" height="83.05" fill="#0018ff"/>
<rect x="639.0" y="502.76" width="42.0" height="74.74" fill="#0008ff"/>
<rect x="639.0" y="511.06" width="42.0" height="66.44" fill="#0000f7"/>
<rect x="639.0" y="519.37" width="42.0" height="58.13" fill="#0000e7"/>
<rect x="639.0" y="527.67" width="42.0" height="49.83" fill="#0000d7"/>
<rect x="639.0" y="535.98" width="42.0" height="41.52" fill="#0000c7"/>
<rect x="639.0" y="544.28" width="42.0" height="33.22" fill="#0000b7"/>
<rect x="639.0" y="552.59" width="42.0" height="24.91" fill="#0000a7"/>
<rect x="639.0" y="560.89" width="42.0" height="16.61" fill="#000097"/>
<rect x="639.0" y="569.20" width="42.0" height="8.30" fill="#000087"/>
<rect x="639.0" y="46.0" width="42.0" height="531.5" fill="none" stroke="#3c3c3c" stroke-width="1"/>
<path d="M681.0 577.5h-5M681.0 488.9h-5M681.0 400.3h-5M681.0 311.8h-5M681.0 223.2h-5M681.0 134.6h-5M681.0 46.0h-5" stroke="#333" stroke-width="1" fill="none"/>
<defs><filter id="tb" x="0" y="0" width="812" height="639" filterUnits="userSpaceOnUse"><feGaussianBlur stdDeviation="0.35"/></filter></defs>
<g filter="url(#tb)">
<text x="337.8" y="33" font-size="32.5" text-anchor="middle">GPT3</text>
<text x="336.2" y="622" font-size="32.8" text-anchor="middle">Observed Tm (K)</text>
<text transform="translate(38.6 310.2) rotate(-90)" font-size="33.6" text-anchor="middle">Estimated Tm (K)</text>
<text transform="translate(795 312.5) rotate(-90)" font-size="29" text-anchor="middle">Point density</text>
<text x="691.5" y="588.4" font-size="30">0</text>
<text x="691.5" y="499.8" font-size="30">500</text>
<text x="691.5" y="411.2" font-size="30">1000</text>
<text x="691.5" y="322.6" font-size="30">1500</text>
<text x="691.5" y="234.1" font-size="30">2000</text>
<text x="691.5" y="145.5" font-size="30">2500</text>
<text x="691.5" y="56.9" font-size="30">3000</text>
<text transform="translate(66.2 77.8) scale(1.025 1)" font-size="26.5">y = 0.86x + 38.61</text>
<text transform="translate(66.2 110.6) scale(1.025 1)" font-size="26.5">Bias = -0.5</text>
<text transform="translate(66.2 143.2) scale(1.025 1)" font-size="26.5">MAE = 3.4</text>
<text transform="translate(66.2 175.8) scale(1.025 1)" font-size="26.5">STD = 4.3</text>
<text transform="translate(66.2 208.4) scale(1.025 1)" font-size="26.5">RMSE = 4.3</text>
<text transform="translate(66.2 241.0) scale(1.025 1)" font-size="26.5">R = 0.93</text>
</g>
</svg></body></html>
